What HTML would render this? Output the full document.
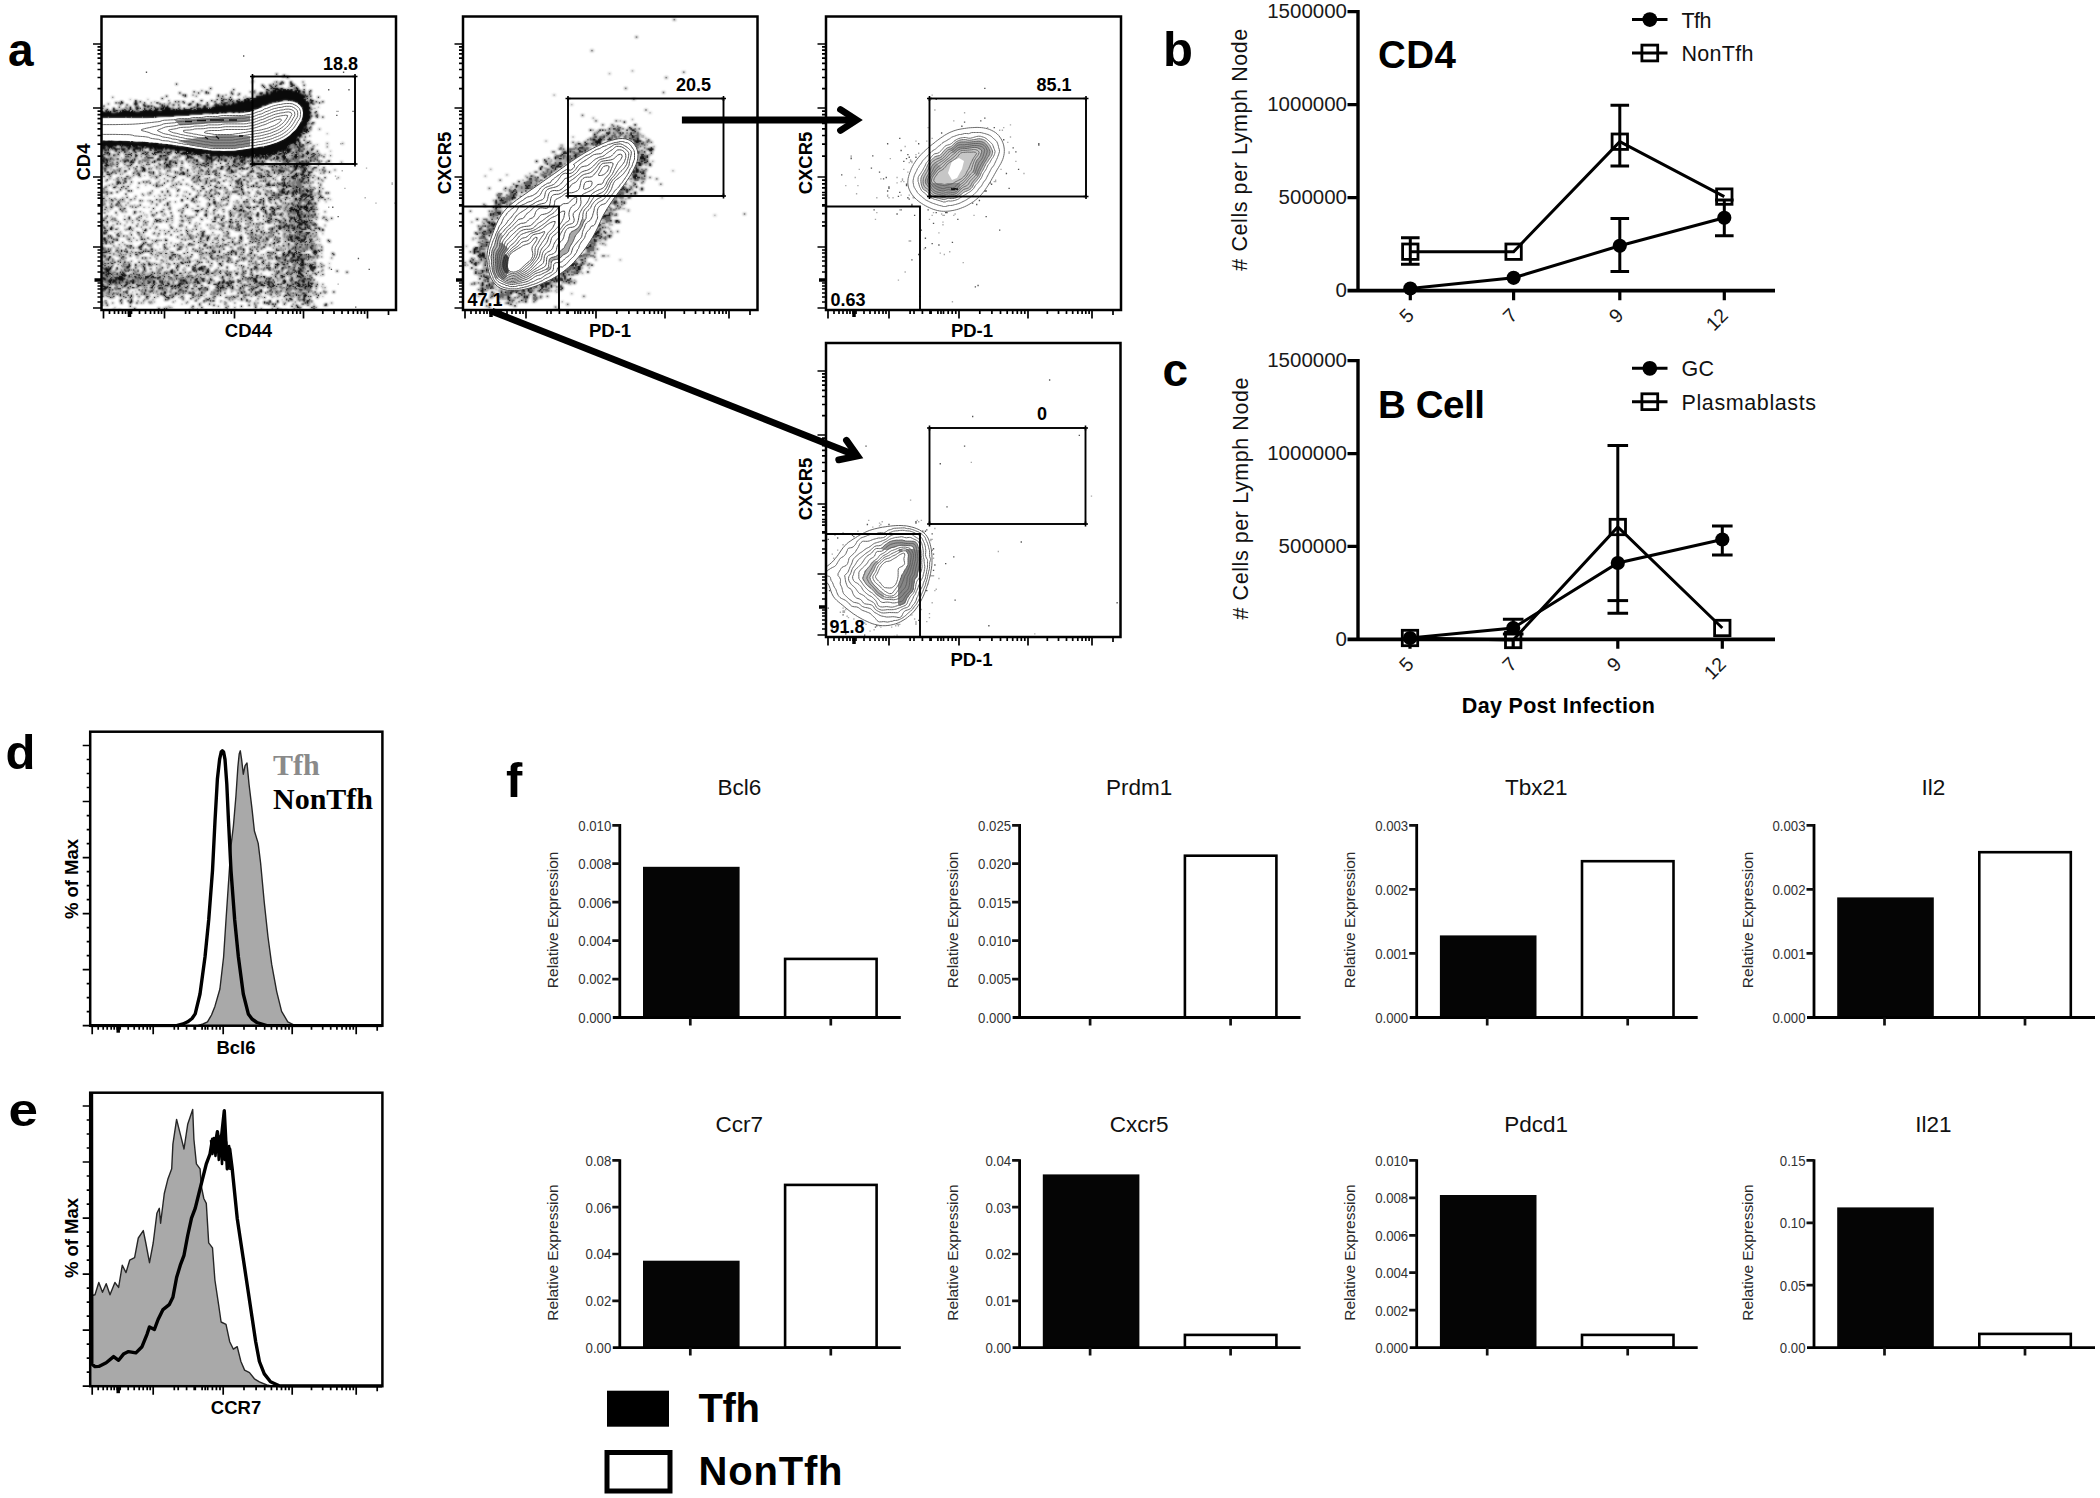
<!DOCTYPE html>
<html lang="en"><head><meta charset="utf-8"><title>Figure</title>
<style>html,body{margin:0;padding:0;background:#fff}svg{display:block}text{font-family:'Liberation Sans',Arial,Helvetica,sans-serif}</style>
</head><body>
<svg width="2100" height="1498" viewBox="0 0 2100 1498">
<defs><filter id="bl" x="-2%" y="-2%" width="104%" height="104%"><feGaussianBlur stdDeviation="0.9"/></filter></defs>
<rect width="2100" height="1498" fill="#fff"/>
<text x="8" y="65.5" font-size="46" font-weight="bold">a</text>
<text x="1163" y="65.5" font-size="49" font-weight="bold">b</text>
<text x="1162.5" y="385.7" font-size="46" font-weight="bold">c</text>
<text x="5.5" y="769" font-size="49" font-weight="bold">d</text>
<text x="506" y="797" font-size="49" font-weight="bold">f</text>
<text x="8.5" y="1126" font-size="46" font-weight="bold" textLength="29.5" lengthAdjust="spacingAndGlyphs">e</text>
<path d="M1358 10.1V290.7" stroke="#000" stroke-width="3.4" fill="none"/>
<path d="M1347.5 290.7H1775" stroke="#000" stroke-width="3.8" fill="none"/>
<path d="M1347.5 11.7h10.5M1347.5 104.7h10.5M1347.5 197.7h10.5M1410.3 290.7v9.5M1513.6 290.7v9.5M1619.8 290.7v9.5M1724.3 290.7v9.5" stroke="#000" stroke-width="3.2" fill="none"/>
<text x="1347" y="18.3" font-size="20.5" text-anchor="end" fill="#1a1a1a">1500000</text>
<text x="1347" y="111.3" font-size="20.5" text-anchor="end" fill="#1a1a1a">1000000</text>
<text x="1347" y="204.3" font-size="20.5" text-anchor="end" fill="#1a1a1a">500000</text>
<text x="1347" y="297.3" font-size="20.5" text-anchor="end" fill="#1a1a1a">0</text>
<text x="1415.3" y="316.7" font-size="19.5" text-anchor="end" fill="#1a1a1a" transform="rotate(-45 1415.3 316.7)">5</text>
<text x="1518.6" y="316.7" font-size="19.5" text-anchor="end" fill="#1a1a1a" transform="rotate(-45 1518.6 316.7)">7</text>
<text x="1624.8" y="316.7" font-size="19.5" text-anchor="end" fill="#1a1a1a" transform="rotate(-45 1624.8 316.7)">9</text>
<text x="1729.3" y="316.7" font-size="19.5" text-anchor="end" fill="#1a1a1a" transform="rotate(-45 1729.3 316.7)">12</text>
<text x="1247.5" y="149.7" font-size="21.5" text-anchor="middle" fill="#111" transform="rotate(-90 1247.5 149.7)" textLength="242" lengthAdjust="spacing"># Cells per Lymph Node</text>
<text x="1378" y="67.5" font-size="38.5" font-weight="bold" textLength="78" lengthAdjust="spacing">CD4</text>
<line x1="1632" y1="19.6" x2="1667.5" y2="19.6" stroke="#000" stroke-width="3"/>
<circle cx="1649.8" cy="19.6" r="7.4"/>
<text x="1681.5" y="27.6" font-size="21.5" fill="#111" textLength="30" lengthAdjust="spacing">Tfh</text>
<rect x="1641.9" y="45.1" width="15.8" height="15.8" fill="none" stroke="#000" stroke-width="2.8"/>
<line x1="1632" y1="53" x2="1667.5" y2="53" stroke="#000" stroke-width="3"/>
<text x="1681.5" y="61" font-size="21.5" fill="#111" textLength="72" lengthAdjust="spacing">NonTfh</text>
<path d="M1619.8 218.6V271.6M1610.5 218.6h18.6M1610.5 271.6h18.6" stroke="#000" stroke-width="3" fill="none"/>
<path d="M1724.3 200V235.8M1715 200h18.6M1715 235.8h18.6" stroke="#000" stroke-width="3" fill="none"/>
<path d="M1410.3 237.7V264.3M1401 237.7h18.6M1401 264.3h18.6" stroke="#000" stroke-width="3" fill="none"/>
<path d="M1619.8 105.3V166M1610.5 105.3h18.6M1610.5 166h18.6" stroke="#000" stroke-width="3" fill="none"/>
<rect x="1402.6" y="244" width="15.4" height="15.4" fill="none" stroke="#000" stroke-width="2.8"/>
<rect x="1505.9" y="244" width="15.4" height="15.4" fill="none" stroke="#000" stroke-width="2.8"/>
<rect x="1612.1" y="134" width="15.4" height="15.4" fill="none" stroke="#000" stroke-width="2.8"/>
<rect x="1716.6" y="188.9" width="15.4" height="15.4" fill="none" stroke="#000" stroke-width="2.8"/>
<polyline points="1410.3,251.7 1513.6,251.7 1619.8,141.7 1724.3,196.6" fill="none" stroke="#000" stroke-width="3"/>
<polyline points="1410.3,288.5 1513.6,277.8 1619.8,245.8 1724.3,217.8" fill="none" stroke="#000" stroke-width="3"/>
<circle cx="1410.3" cy="288.5" r="7.1"/>
<circle cx="1513.6" cy="277.8" r="7.1"/>
<circle cx="1619.8" cy="245.8" r="7.1"/>
<circle cx="1724.3" cy="217.8" r="7.1"/>
<path d="M1358 359.1V639.3" stroke="#000" stroke-width="3.4" fill="none"/>
<path d="M1347.5 639.3H1775" stroke="#000" stroke-width="3.8" fill="none"/>
<path d="M1347.5 360.7h10.5M1347.5 453.6h10.5M1347.5 546.4h10.5M1410 639.3v9.5M1513.2 639.3v9.5M1617.8 639.3v9.5M1722.3 639.3v9.5" stroke="#000" stroke-width="3.2" fill="none"/>
<text x="1347" y="367.3" font-size="20.5" text-anchor="end" fill="#1a1a1a">1500000</text>
<text x="1347" y="460.2" font-size="20.5" text-anchor="end" fill="#1a1a1a">1000000</text>
<text x="1347" y="553" font-size="20.5" text-anchor="end" fill="#1a1a1a">500000</text>
<text x="1347" y="645.9" font-size="20.5" text-anchor="end" fill="#1a1a1a">0</text>
<text x="1415" y="665.3" font-size="19.5" text-anchor="end" fill="#1a1a1a" transform="rotate(-45 1415 665.3)">5</text>
<text x="1518.2" y="665.3" font-size="19.5" text-anchor="end" fill="#1a1a1a" transform="rotate(-45 1518.2 665.3)">7</text>
<text x="1622.8" y="665.3" font-size="19.5" text-anchor="end" fill="#1a1a1a" transform="rotate(-45 1622.8 665.3)">9</text>
<text x="1727.3" y="665.3" font-size="19.5" text-anchor="end" fill="#1a1a1a" transform="rotate(-45 1727.3 665.3)">12</text>
<text x="1247.5" y="498.5" font-size="21.5" text-anchor="middle" fill="#111" transform="rotate(-90 1247.5 498.5)" textLength="242" lengthAdjust="spacing"># Cells per Lymph Node</text>
<text x="1378" y="417.5" font-size="38.5" font-weight="bold" textLength="107" lengthAdjust="spacing">B Cell</text>
<line x1="1632" y1="368.3" x2="1667.5" y2="368.3" stroke="#000" stroke-width="3"/>
<circle cx="1649.8" cy="368.3" r="7.4"/>
<text x="1681.5" y="376.3" font-size="21.5" fill="#111" textLength="32.5" lengthAdjust="spacing">GC</text>
<rect x="1641.9" y="393.8" width="15.8" height="15.8" fill="none" stroke="#000" stroke-width="2.8"/>
<line x1="1632" y1="401.7" x2="1667.5" y2="401.7" stroke="#000" stroke-width="3"/>
<text x="1681.5" y="409.7" font-size="21.5" fill="#111" textLength="134.5" lengthAdjust="spacing">Plasmablasts</text>
<path d="M1722.3 526V555M1712 526h20.6M1712 555h20.6" stroke="#000" stroke-width="3" fill="none"/>
<path d="M1513.2 619.3V634M1502.9 619.3h20.6M1502.9 634h20.6" stroke="#000" stroke-width="3" fill="none"/>
<path d="M1617.8 445.5V613.3M1607.5 445.5h20.6M1607.5 613.3h20.6" stroke="#000" stroke-width="3" fill="none"/>
<line x1="1607.5" y1="600.6" x2="1628.1" y2="600.6" stroke="#000" stroke-width="3"/>
<rect x="1402.3" y="630.3" width="15.4" height="15.4" fill="none" stroke="#000" stroke-width="2.8"/>
<rect x="1505.5" y="632.3" width="15.4" height="15.4" fill="none" stroke="#000" stroke-width="2.8"/>
<rect x="1610.1" y="519.3" width="15.4" height="15.4" fill="none" stroke="#000" stroke-width="2.8"/>
<rect x="1714.6" y="620.3" width="15.4" height="15.4" fill="none" stroke="#000" stroke-width="2.8"/>
<polyline points="1410,638 1513.2,640 1617.8,527 1722.3,628" fill="none" stroke="#000" stroke-width="3"/>
<polyline points="1410,638 1513.2,628 1617.8,563 1722.3,539.5" fill="none" stroke="#000" stroke-width="3"/>
<circle cx="1410" cy="638" r="7.1"/>
<circle cx="1513.2" cy="628" r="7.1"/>
<circle cx="1617.8" cy="563" r="7.1"/>
<circle cx="1722.3" cy="539.5" r="7.1"/>
<text x="1558.3" y="712.7" font-size="21.5" font-weight="bold" text-anchor="middle" textLength="193" lengthAdjust="spacing">Day Post Infection</text>
<rect x="643" y="866.8" width="96.6" height="150.7" fill="#050505"/>
<rect x="785.1" y="958.9" width="91.5" height="58.6" fill="#fff" stroke="#000" stroke-width="2.6"/>
<path d="M619.8 824.1V1017.5M612.8 1017.5H900.8" stroke="#000" stroke-width="2.8" fill="none"/>
<path d="M612.3 825.3h7.5M612.3 863.7h7.5M612.3 902.2h7.5M612.3 940.6h7.5M612.3 979.1h7.5M690.3 1017.5v8M830.8 1017.5v8" stroke="#111" stroke-width="2.7" fill="none"/>
<text x="611.3" y="830.6" font-size="15" text-anchor="end" fill="#333" textLength="33" lengthAdjust="spacingAndGlyphs">0.010</text>
<text x="611.3" y="869" font-size="15" text-anchor="end" fill="#333" textLength="33" lengthAdjust="spacingAndGlyphs">0.008</text>
<text x="611.3" y="907.5" font-size="15" text-anchor="end" fill="#333" textLength="33" lengthAdjust="spacingAndGlyphs">0.006</text>
<text x="611.3" y="945.9" font-size="15" text-anchor="end" fill="#333" textLength="33" lengthAdjust="spacingAndGlyphs">0.004</text>
<text x="611.3" y="984.4" font-size="15" text-anchor="end" fill="#333" textLength="33" lengthAdjust="spacingAndGlyphs">0.002</text>
<text x="611.3" y="1022.8" font-size="15" text-anchor="end" fill="#333" textLength="33" lengthAdjust="spacingAndGlyphs">0.000</text>
<text transform="translate(558.3 919.9) rotate(-90) scale(1 .9)" font-size="15.5" text-anchor="middle" fill="#2a2a2a" textLength="136.5" lengthAdjust="spacing">Relative Expression</text>
<text x="739.3" y="794.8" font-size="22.5" text-anchor="middle" fill="#111">Bcl6</text>
<rect x="1184.9" y="855.7" width="91.5" height="161.8" fill="#fff" stroke="#000" stroke-width="2.6"/>
<path d="M1019.6 824.1V1017.5M1012.6 1017.5H1300.6" stroke="#000" stroke-width="2.8" fill="none"/>
<path d="M1012.1 825.3h7.5M1012.1 863.7h7.5M1012.1 902.2h7.5M1012.1 940.6h7.5M1012.1 979.1h7.5M1090.1 1017.5v8M1230.6 1017.5v8" stroke="#111" stroke-width="2.7" fill="none"/>
<text x="1011.1" y="830.6" font-size="15" text-anchor="end" fill="#333" textLength="33" lengthAdjust="spacingAndGlyphs">0.025</text>
<text x="1011.1" y="869" font-size="15" text-anchor="end" fill="#333" textLength="33" lengthAdjust="spacingAndGlyphs">0.020</text>
<text x="1011.1" y="907.5" font-size="15" text-anchor="end" fill="#333" textLength="33" lengthAdjust="spacingAndGlyphs">0.015</text>
<text x="1011.1" y="945.9" font-size="15" text-anchor="end" fill="#333" textLength="33" lengthAdjust="spacingAndGlyphs">0.010</text>
<text x="1011.1" y="984.4" font-size="15" text-anchor="end" fill="#333" textLength="33" lengthAdjust="spacingAndGlyphs">0.005</text>
<text x="1011.1" y="1022.8" font-size="15" text-anchor="end" fill="#333" textLength="33" lengthAdjust="spacingAndGlyphs">0.000</text>
<text transform="translate(958.1 919.9) rotate(-90) scale(1 .9)" font-size="15.5" text-anchor="middle" fill="#2a2a2a" textLength="136.5" lengthAdjust="spacing">Relative Expression</text>
<text x="1139.1" y="794.8" font-size="22.5" text-anchor="middle" fill="#111">Prdm1</text>
<rect x="1439.9" y="935.4" width="96.6" height="82.1" fill="#050505"/>
<rect x="1582" y="861.2" width="91.5" height="156.3" fill="#fff" stroke="#000" stroke-width="2.6"/>
<path d="M1416.7 824.1V1017.5M1409.7 1017.5H1697.7" stroke="#000" stroke-width="2.8" fill="none"/>
<path d="M1409.2 825.3h7.5M1409.2 889.4h7.5M1409.2 953.4h7.5M1487.2 1017.5v8M1627.7 1017.5v8" stroke="#111" stroke-width="2.7" fill="none"/>
<text x="1408.2" y="830.6" font-size="15" text-anchor="end" fill="#333" textLength="33" lengthAdjust="spacingAndGlyphs">0.003</text>
<text x="1408.2" y="894.7" font-size="15" text-anchor="end" fill="#333" textLength="33" lengthAdjust="spacingAndGlyphs">0.002</text>
<text x="1408.2" y="958.7" font-size="15" text-anchor="end" fill="#333" textLength="33" lengthAdjust="spacingAndGlyphs">0.001</text>
<text x="1408.2" y="1022.8" font-size="15" text-anchor="end" fill="#333" textLength="33" lengthAdjust="spacingAndGlyphs">0.000</text>
<text transform="translate(1355.2 919.9) rotate(-90) scale(1 .9)" font-size="15.5" text-anchor="middle" fill="#2a2a2a" textLength="136.5" lengthAdjust="spacing">Relative Expression</text>
<text x="1536.2" y="794.8" font-size="22.5" text-anchor="middle" fill="#111">Tbx21</text>
<rect x="1837.2" y="897.4" width="96.6" height="120.1" fill="#050505"/>
<rect x="1979.3" y="852.2" width="91.5" height="165.3" fill="#fff" stroke="#000" stroke-width="2.6"/>
<path d="M1814 824.1V1017.5M1807 1017.5H2095" stroke="#000" stroke-width="2.8" fill="none"/>
<path d="M1806.5 825.3h7.5M1806.5 889.4h7.5M1806.5 953.4h7.5M1884.5 1017.5v8M2025 1017.5v8" stroke="#111" stroke-width="2.7" fill="none"/>
<text x="1805.5" y="830.6" font-size="15" text-anchor="end" fill="#333" textLength="33" lengthAdjust="spacingAndGlyphs">0.003</text>
<text x="1805.5" y="894.7" font-size="15" text-anchor="end" fill="#333" textLength="33" lengthAdjust="spacingAndGlyphs">0.002</text>
<text x="1805.5" y="958.7" font-size="15" text-anchor="end" fill="#333" textLength="33" lengthAdjust="spacingAndGlyphs">0.001</text>
<text x="1805.5" y="1022.8" font-size="15" text-anchor="end" fill="#333" textLength="33" lengthAdjust="spacingAndGlyphs">0.000</text>
<text transform="translate(1752.5 919.9) rotate(-90) scale(1 .9)" font-size="15.5" text-anchor="middle" fill="#2a2a2a" textLength="136.5" lengthAdjust="spacing">Relative Expression</text>
<text x="1933.5" y="794.8" font-size="22.5" text-anchor="middle" fill="#111">Il2</text>
<rect x="643" y="1260.7" width="96.6" height="86.9" fill="#050505"/>
<rect x="785.1" y="1184.9" width="91.5" height="162.7" fill="#fff" stroke="#000" stroke-width="2.6"/>
<path d="M619.8 1159.2V1347.6M612.8 1347.6H900.8" stroke="#000" stroke-width="2.8" fill="none"/>
<path d="M612.3 1160.4h7.5M612.3 1207.2h7.5M612.3 1254h7.5M612.3 1300.8h7.5M690.3 1347.6v8M830.8 1347.6v8" stroke="#111" stroke-width="2.7" fill="none"/>
<text x="611.3" y="1165.7" font-size="15" text-anchor="end" fill="#333" textLength="25.7" lengthAdjust="spacingAndGlyphs">0.08</text>
<text x="611.3" y="1212.5" font-size="15" text-anchor="end" fill="#333" textLength="25.7" lengthAdjust="spacingAndGlyphs">0.06</text>
<text x="611.3" y="1259.3" font-size="15" text-anchor="end" fill="#333" textLength="25.7" lengthAdjust="spacingAndGlyphs">0.04</text>
<text x="611.3" y="1306.1" font-size="15" text-anchor="end" fill="#333" textLength="25.7" lengthAdjust="spacingAndGlyphs">0.02</text>
<text x="611.3" y="1352.9" font-size="15" text-anchor="end" fill="#333" textLength="25.7" lengthAdjust="spacingAndGlyphs">0.00</text>
<text transform="translate(558.3 1252.5) rotate(-90) scale(1 .9)" font-size="15.5" text-anchor="middle" fill="#2a2a2a" textLength="136.5" lengthAdjust="spacing">Relative Expression</text>
<text x="739.3" y="1132.3" font-size="22.5" text-anchor="middle" fill="#111">Ccr7</text>
<rect x="1042.8" y="1174.4" width="96.6" height="173.2" fill="#050505"/>
<rect x="1184.9" y="1334.9" width="91.5" height="12.7" fill="#fff" stroke="#000" stroke-width="2.6"/>
<path d="M1019.6 1159.2V1347.6M1012.6 1347.6H1300.6" stroke="#000" stroke-width="2.8" fill="none"/>
<path d="M1012.1 1160.4h7.5M1012.1 1207.2h7.5M1012.1 1254h7.5M1012.1 1300.8h7.5M1090.1 1347.6v8M1230.6 1347.6v8" stroke="#111" stroke-width="2.7" fill="none"/>
<text x="1011.1" y="1165.7" font-size="15" text-anchor="end" fill="#333" textLength="25.7" lengthAdjust="spacingAndGlyphs">0.04</text>
<text x="1011.1" y="1212.5" font-size="15" text-anchor="end" fill="#333" textLength="25.7" lengthAdjust="spacingAndGlyphs">0.03</text>
<text x="1011.1" y="1259.3" font-size="15" text-anchor="end" fill="#333" textLength="25.7" lengthAdjust="spacingAndGlyphs">0.02</text>
<text x="1011.1" y="1306.1" font-size="15" text-anchor="end" fill="#333" textLength="25.7" lengthAdjust="spacingAndGlyphs">0.01</text>
<text x="1011.1" y="1352.9" font-size="15" text-anchor="end" fill="#333" textLength="25.7" lengthAdjust="spacingAndGlyphs">0.00</text>
<text transform="translate(958.1 1252.5) rotate(-90) scale(1 .9)" font-size="15.5" text-anchor="middle" fill="#2a2a2a" textLength="136.5" lengthAdjust="spacing">Relative Expression</text>
<text x="1139.1" y="1132.3" font-size="22.5" text-anchor="middle" fill="#111">Cxcr5</text>
<rect x="1439.9" y="1195" width="96.6" height="152.6" fill="#050505"/>
<rect x="1582" y="1334.9" width="91.5" height="12.7" fill="#fff" stroke="#000" stroke-width="2.6"/>
<path d="M1416.7 1159.2V1347.6M1409.7 1347.6H1697.7" stroke="#000" stroke-width="2.8" fill="none"/>
<path d="M1409.2 1160.4h7.5M1409.2 1197.8h7.5M1409.2 1235.3h7.5M1409.2 1272.7h7.5M1409.2 1310.2h7.5M1487.2 1347.6v8M1627.7 1347.6v8" stroke="#111" stroke-width="2.7" fill="none"/>
<text x="1408.2" y="1165.7" font-size="15" text-anchor="end" fill="#333" textLength="33" lengthAdjust="spacingAndGlyphs">0.010</text>
<text x="1408.2" y="1203.1" font-size="15" text-anchor="end" fill="#333" textLength="33" lengthAdjust="spacingAndGlyphs">0.008</text>
<text x="1408.2" y="1240.6" font-size="15" text-anchor="end" fill="#333" textLength="33" lengthAdjust="spacingAndGlyphs">0.006</text>
<text x="1408.2" y="1278" font-size="15" text-anchor="end" fill="#333" textLength="33" lengthAdjust="spacingAndGlyphs">0.004</text>
<text x="1408.2" y="1315.5" font-size="15" text-anchor="end" fill="#333" textLength="33" lengthAdjust="spacingAndGlyphs">0.002</text>
<text x="1408.2" y="1352.9" font-size="15" text-anchor="end" fill="#333" textLength="33" lengthAdjust="spacingAndGlyphs">0.000</text>
<text transform="translate(1355.2 1252.5) rotate(-90) scale(1 .9)" font-size="15.5" text-anchor="middle" fill="#2a2a2a" textLength="136.5" lengthAdjust="spacing">Relative Expression</text>
<text x="1536.2" y="1132.3" font-size="22.5" text-anchor="middle" fill="#111">Pdcd1</text>
<rect x="1837.2" y="1207.4" width="96.6" height="140.2" fill="#050505"/>
<rect x="1979.3" y="1333.9" width="91.5" height="13.7" fill="#fff" stroke="#000" stroke-width="2.6"/>
<path d="M1814 1159.2V1347.6M1807 1347.6H2095" stroke="#000" stroke-width="2.8" fill="none"/>
<path d="M1806.5 1160.4h7.5M1806.5 1222.8h7.5M1806.5 1285.2h7.5M1884.5 1347.6v8M2025 1347.6v8" stroke="#111" stroke-width="2.7" fill="none"/>
<text x="1805.5" y="1165.7" font-size="15" text-anchor="end" fill="#333" textLength="25.7" lengthAdjust="spacingAndGlyphs">0.15</text>
<text x="1805.5" y="1228.1" font-size="15" text-anchor="end" fill="#333" textLength="25.7" lengthAdjust="spacingAndGlyphs">0.10</text>
<text x="1805.5" y="1290.5" font-size="15" text-anchor="end" fill="#333" textLength="25.7" lengthAdjust="spacingAndGlyphs">0.05</text>
<text x="1805.5" y="1352.9" font-size="15" text-anchor="end" fill="#333" textLength="25.7" lengthAdjust="spacingAndGlyphs">0.00</text>
<text transform="translate(1752.5 1252.5) rotate(-90) scale(1 .9)" font-size="15.5" text-anchor="middle" fill="#2a2a2a" textLength="136.5" lengthAdjust="spacing">Relative Expression</text>
<text x="1933.5" y="1132.3" font-size="22.5" text-anchor="middle" fill="#111">Il21</text>
<rect x="607" y="1390.7" width="62" height="36" fill="#000"/>
<rect x="607" y="1452.5" width="63" height="38.5" fill="#fff" stroke="#000" stroke-width="5"/>
<text x="698.5" y="1422.3" font-size="40" font-weight="bold" textLength="61.5" lengthAdjust="spacing">Tfh</text>
<text x="698.5" y="1485.3" font-size="40" font-weight="bold" textLength="144" lengthAdjust="spacing">NonTfh</text>
<clipPath id="c1"><rect x="101.5" y="16.5" width="294.5" height="293.5"/></clipPath>
<g clip-path="url(#c1)">
<defs><path id="k1" d="M251 67.5h1M258 68.5h1M257 69.5h1M261 70.5h1M251 74.5h1m4 0h1m7 0h1M255 75.5h1m1 0h1m6 0h1M160 76.5h1m87 0h1m5 0h2m8 0h2M238 77.5h1m6 0h1m5 0h1m13 0h3m8 0h1M239 78.5h1m6 0h1m3 0h1m13 0h2M240 79.5h1m6 0h1m21 0h1M191 80.5h1m54 0h1m1 0h5m2 0h2m12 0h2M212 81.5h1m29 0h2m6 0h4m1 0h1m1 0h3m1 0h2m1 0h2m4 0h1m5 0h1M244 82.5h1m3 0h3m2 0h3m1 0h9m2 0h5m9 0h1M176 83.5h1m10 0h1m54 0h1m3 0h1m1 0h3m1 0h18m1 0h2m2 0h2m4 0h1M163 84.5h1m16 0h1m6 0h1m1 0h1m20 0h1m25 0h3m3 0h2m2 0h26m4 0h1M211 85.5h1m5 0h1m18 0h2m4 0h2m2 0h28m7 0h1M166 86.5h1m1 0h1m29 0h1m40 0h37m1 0h1M151 87.5h1m16 0h1m29 0h1m3 0h1m30 0h44m1 0h2m2 0h1M209 88.5h1m23 0h44m12 0h1M147 89.5h1m53 0h1m22 0h2m1 0h49m3 0h1M197 90.5h1m5 0h1m1 0h1m2 0h1m1 0h1m6 0h1m4 0h2m1 0h2m3 0h48m4 0h1M123 91.5h1m59 0h1m8 0h1m8 0h2m6 0h1m5 0h1m6 0h2m1 0h2m1 0h29m5 0h1m1 0h1m1 0h12m4 0h3M110 92.5h1m12 0h1m3 0h1m31 0h1m2 0h1m3 0h1m8 0h1m19 0h1m15 0h1m3 0h3m1 0h2m1 0h29m2 0h1m14 0h12m3 0h1m3 0h1m5 0h1M105 93.5h1m4 0h2m11 0h1m7 0h1m10 0h2m23 0h1m20 0h1m12 0h1m2 0h3m5 0h1m3 0h31m24 0h10m1 0h2m6 0h1M109 94.5h1m12 0h3m20 0h1m26 0h2m5 0h1m16 0h1m5 0h3m6 0h2m1 0h30m27 0h10m3 0h1M115 95.5h1m7 0h1m6 0h2m15 0h1m9 0h1m4 0h1m8 0h2m6 0h2m7 0h1m6 0h1m1 0h2m4 0h2m2 0h2m1 0h32m31 0h8M94 96.5h1m36 0h2m1 0h2m1 0h1m9 0h1m1 0h1m2 0h1m26 0h1m5 0h2m9 0h1m1 0h40m35 0h8M108 97.5h1m9 0h1m5 0h1m9 0h1m5 0h1m7 0h1m2 0h2m23 0h1m8 0h2m6 0h44m38 0h7M93 98.5h1m9 0h1m14 0h1m5 0h2m1 0h1m3 0h1m5 0h1m3 0h1m1 0h1m2 0h3m1 0h5m7 0h1m4 0h1m5 0h2m4 0h4m1 0h5m1 0h1m1 0h43m40 0h7M97 99.5h1m5 0h1m9 0h1m4 0h1m5 0h1m6 0h1m4 0h1m4 0h3m2 0h2m2 0h5m2 0h2m1 0h1m2 0h1m3 0h7m2 0h2m1 0h51m45 0h6M96 100.5h1m6 0h1m1 0h2m4 0h2m1 0h1m2 0h1m2 0h1m9 0h1m1 0h2m1 0h3m2 0h3m4 0h12m1 0h71m44 0h6M92 101.5h2m2 0h1m1 0h1m1 0h1m2 0h2m4 0h1m1 0h7m1 0h2m1 0h1m4 0h95m1 0h5m47 0h7m5 0h1M92 102.5h4m1 0h4m5 0h1m1 0h91m2 0h2m1 0h2m6 0h1m4 0h1m57 0h8m3 0h1M92 103.5h92m9 0h1m3 0h1m77 0h7M92 104.5h80m103 0h6m7 0h1M92 105.5h66m117 0h7m1 0h1m3 0h1M92 106.5h6m1 0h15m1 0h4m1 0h9m1 0h10m1 0h1m133 0h7m6 0h1m4 0h1M275 107.5h7M274 108.5h7M275 109.5h6M274 110.5h6M273 111.5h6m5 0h1M272 112.5h7m4 0h1M272 113.5h7M270 114.5h8M270 115.5h6m2 0h1m3 0h1M270 116.5h6m1 0h1m3 0h1M269 117.5h6m1 0h1m1 0h2M268 118.5h7m1 0h1m1 0h2M266 119.5h9m1 0h3m1 0h1M265 120.5h10m3 0h1M264 121.5h9m2 0h2M264 122.5h10M262 123.5h12M261 124.5h9m2 0h1m4 0h1M260 125.5h10M258 126.5h11m1 0h2M94 127.5h1m3 0h2m1 0h1m6 0h2m146 0h16m4 0h1M93 128.5h25m1 0h2m8 0h1m1 0h1m122 0h15m2 0h1M93 129.5h42m2 0h2m2 0h1m1 0h1m108 0h17m3 0h1m6 0h2M92 130.5h52m2 0h1m4 0h1m95 0h1m1 0h17m1 0h2m3 0h1M92 131.5h18m1 0h42m1 0h3m86 0h21m4 0h2m2 0h1m2 0h1M93 132.5h3m1 0h6m1 0h2m3 0h1m1 0h1m1 0h6m1 0h5m1 0h34m1 0h1m79 0h1m1 0h19m10 0h1m2 0h1M92 133.5h1m1 0h1m3 0h4m8 0h1m4 0h1m1 0h2m2 0h2m1 0h1m4 0h2m2 0h5m1 0h32m64 0h4m1 0h21m1 0h1m7 0h1m2 0h2M93 134.5h3m3 0h1m1 0h1m1 0h2m11 0h2m5 0h5m1 0h1m2 0h1m3 0h3m1 0h2m1 0h6m1 0h27m51 0h1m1 0h31m10 0h1M92 135.5h1m1 0h1m3 0h1m3 0h1m1 0h5m1 0h4m2 0h2m3 0h5m1 0h1m8 0h1m4 0h1m1 0h5m2 0h2m2 0h30m37 0h39m1 0h4m7 0h1m3 0h1m6 0h2M95 136.5h2m1 0h1m6 0h1m5 0h2m8 0h2m4 0h1m1 0h1m6 0h2m2 0h3m4 0h1m11 0h30m2 0h1m7 0h1m15 0h41m1 0h7m7 0h1m11 0h1M105 137.5h1m7 0h1m8 0h1m20 0h4m8 0h1m5 0h2m6 0h84m1 0h2m1 0h1m3 0h3m8 0h1m1 0h1m4 0h1m8 0h1M95 138.5h1m1 0h2m9 0h1m4 0h1m9 0h1m8 0h1m1 0h1m5 0h5m1 0h1m2 0h1m2 0h3m4 0h1m1 0h2m3 0h4m1 0h3m2 0h72m1 0h3m5 0h1m1 0h1m1 0h2m3 0h1m2 0h1m9 0h2M97 139.5h1m1 0h1m19 0h1m9 0h2m2 0h1m4 0h1m1 0h1m11 0h1m7 0h1m3 0h10m1 0h1m1 0h9m1 0h56m1 0h8m2 0h2m2 0h1m1 0h1m4 0h1m12 0h3m3 0h2M94 140.5h1m4 0h1m7 0h1m6 0h1m1 0h3m4 0h1m8 0h1m6 0h1m1 0h1m11 0h1m11 0h1m1 0h1m1 0h1m4 0h1m1 0h2m1 0h4m8 0h40m1 0h4m1 0h5m1 0h3m1 0h3m3 0h2m3 0h1m9 0h2m5 0h1m3 0h1m3 0h1m2 0h1M93 141.5h1m9 0h1m15 0h1m3 0h2m20 0h2m1 0h3m19 0h1m11 0h2m3 0h2m2 0h12m1 0h12m1 0h12m1 0h1m1 0h4m2 0h1m2 0h1m2 0h1m1 0h1m10 0h2m6 0h1m2 0h2m5 0h1m9 0h1M93 142.5h1m20 0h1m1 0h1m6 0h1m9 0h1m11 0h2m23 0h4m13 0h3m2 0h1m5 0h2m7 0h1m4 0h3m3 0h1m2 0h3m1 0h2m2 0h2m1 0h1m1 0h2m2 0h2m2 0h1m2 0h1m5 0h2m3 0h4m7 0h4m3 0h2m7 0h2m9 0h1M94 143.5h1m39 0h5m13 0h1m17 0h2m1 0h3m12 0h5m3 0h1m2 0h1m10 0h1m7 0h3m1 0h1m2 0h1m2 0h1m2 0h1m1 0h1m2 0h2m1 0h1m1 0h1m1 0h1m5 0h1m2 0h2m3 0h3m8 0h2m10 0h1m1 0h1M94 144.5h1m1 0h1m3 0h1m5 0h2m14 0h1m20 0h2m5 0h2m17 0h1m17 0h1m2 0h3m2 0h1m5 0h1m11 0h1m1 0h1m1 0h1m4 0h1m13 0h1m4 0h2m5 0h1m2 0h2m5 0h1m1 0h1m5 0h1m19 0h1M92 145.5h2m2 0h2m17 0h2m3 0h1m1 0h1m20 0h1m1 0h1m4 0h2m24 0h1m1 0h2m8 0h1m3 0h1m1 0h1m3 0h1m2 0h1m2 0h2m7 0h1m5 0h4m5 0h1m17 0h1m10 0h1m3 0h1m20 0h1m5 0h1M93 146.5h2m2 0h1m15 0h2m1 0h1m2 0h1m20 0h1m13 0h2m22 0h2m7 0h1m4 0h1m5 0h1m5 0h2m6 0h2m4 0h3m4 0h1m1 0h1m6 0h2m2 0h1m15 0h1m5 0h1m2 0h1m10 0h2m2 0h1m3 0h1m2 0h1m12 0h2M94 147.5h1m2 0h1m8 0h1m6 0h1m4 0h4m12 0h1m3 0h1m1 0h1m9 0h1m3 0h1m2 0h1m1 0h1m15 0h1m16 0h1m19 0h2m5 0h2m10 0h1m6 0h2m21 0h2m9 0h1m7 0h1M93 148.5h1m2 0h1m52 0h1m4 0h1m4 0h2m4 0h1m18 0h2m2 0h2m10 0h1m6 0h1m8 0h1m5 0h1m14 0h1m31 0h1m2 0h5m1 0h2M96 149.5h2m8 0h1m12 0h1m13 0h1m1 0h1m9 0h1m5 0h2m1 0h1m23 0h2m2 0h1m4 0h1m24 0h1m4 0h1m9 0h1m3 0h5m7 0h1m3 0h1m3 0h1m4 0h1m7 0h1m2 0h1m1 0h2m3 0h7M95 150.5h4m19 0h1m32 0h2m30 0h1m1 0h1m3 0h1m21 0h1m1 0h1m15 0h3m17 0h1m4 0h1m4 0h1m7 0h1m1 0h2m3 0h3m1 0h2M96 151.5h1m9 0h1m17 0h1m26 0h1m1 0h1m32 0h1m14 0h2m5 0h1m5 0h2m12 0h1m18 0h1m3 0h1m12 0h1m2 0h1m1 0h2m1 0h1m1 0h1M129 152.5h2m23 0h1m9 0h2m15 0h1m19 0h1m6 0h1m10 0h2m4 0h1m9 0h1m20 0h1m11 0h2m3 0h1m1 0h1m1 0h1m7 0h3m6 0h1M95 153.5h1m21 0h1m5 0h1m6 0h2m3 0h1m53 0h1m10 0h2m5 0h2m8 0h2m1 0h3m1 0h1m4 0h1m38 0h2m6 0h1m1 0h1m5 0h1M130 154.5h2m32 0h1m5 0h1m12 0h1m22 0h1m3 0h1m26 0h2m8 0h2m4 0h2m12 0h2m7 0h2m15 0h1M95 155.5h1m12 0h1m4 0h2m9 0h1m4 0h1m1 0h1m20 0h1m17 0h1m13 0h1m3 0h1m5 0h1m1 0h1m13 0h2m16 0h3m11 0h2m10 0h5m7 0h1m8 0h1m1 0h1m17 0h1M92 156.5h1m4 0h2m3 0h1m32 0h1m3 0h1m19 0h1m6 0h1m22 0h1m3 0h1m16 0h3m14 0h2m15 0h1m4 0h1m5 0h1m1 0h1m7 0h1m9 0h2m3 0h4m15 0h1M92 157.5h1m8 0h1m3 0h1m15 0h1m3 0h1m13 0h1m24 0h1m1 0h2m12 0h1m15 0h1m2 0h1m34 0h1m14 0h1m3 0h1m10 0h1m4 0h1m5 0h1m5 0h1M92 158.5h1m4 0h3m26 0h1m36 0h1m2 0h2m21 0h2m4 0h1m47 0h1m24 0h2m3 0h3m4 0h1M126 159.5h1m18 0h1m6 0h1m19 0h1m23 0h1m7 0h1m20 0h1m11 0h1m6 0h1m22 0h1m1 0h2m3 0h1m1 0h1m1 0h1m1 0h1M94 160.5h1m20 0h1m43 0h1m21 0h1m32 0h1m19 0h1m2 0h1m1 0h2m2 0h1m1 0h2m10 0h1m3 0h2m2 0h3m1 0h1m6 0h1M142 161.5h1m14 0h2m17 0h1m3 0h1m54 0h1m1 0h1m27 0h2m7 0h1m4 0h2m3 0h1m10 0h1M113 162.5h2m60 0h1m12 0h1m29 0h1m29 0h1m8 0h1m1 0h1m6 0h3m6 0h2m12 0h1M97 163.5h1m83 0h1m35 0h1m3 0h2m33 0h1m1 0h1m13 0h1m2 0h1m4 0h1M113 164.5h1m38 0h1m29 0h1m4 0h1m3 0h2m2 0h1m7 0h1m10 0h1m1 0h1m22 0h1m1 0h1m21 0h1m10 0h1m5 0h1M106 165.5h3m5 0h1m4 0h1m10 0h1m2 0h1m42 0h1m10 0h1m10 0h1m16 0h1m3 0h1m5 0h1m32 0h1m14 0h2m3 0h1M107 166.5h1m1 0h1m2 0h1m13 0h1m9 0h1m12 0h1m37 0h1m11 0h1m16 0h1m2 0h1m13 0h1m10 0h1m7 0h1m3 0h1m1 0h1m2 0h1m14 0h1M106 167.5h1m53 0h1m3 0h1m51 0h1m2 0h1m22 0h3m8 0h2m3 0h1M142 168.5h1m4 0h1m9 0h1m33 0h1m17 0h1m10 0h1m9 0h1m12 0h3m1 0h3m7 0h3m2 0h2M112 169.5h1m3 0h1m25 0h1m31 0h1m8 0h2m10 0h1m23 0h1m8 0h1m1 0h1m2 0h1m23 0h1m2 0h1m2 0h2m4 0h1m5 0h1M103 170.5h2m5 0h1m85 0h2m2 0h1m3 0h1m10 0h1m1 0h1m7 0h1m9 0h1m24 0h1m8 0h2m19 0h1M114 171.5h1m69 0h2m33 0h1m37 0h1m8 0h1m5 0h1M109 172.5h1m52 0h1m29 0h1m26 0h2m35 0h3m10 0h1m2 0h1m5 0h2m2 0h1m1 0h1M116 173.5h2m1 0h1m32 0h1m8 0h1m20 0h1m8 0h1m54 0h1m9 0h1m5 0h1m4 0h1m1 0h1m2 0h1m2 0h1m2 0h3m9 0h1M96 174.5h2m8 0h1m40 0h1m4 0h1m34 0h1m23 0h4m5 0h1m33 0h1m1 0h3m2 0h2m3 0h1m2 0h2m8 0h1m2 0h2m6 0h1M101 175.5h1m34 0h1m53 0h1m7 0h1m6 0h1m15 0h1m4 0h1m7 0h1m13 0h2m6 0h3m2 0h1m3 0h2m1 0h1m3 0h1m23 0h1m1 0h1M97 176.5h1m16 0h1m57 0h1m22 0h1m3 0h1m17 0h1m3 0h1m14 0h1m4 0h1m11 0h1m5 0h3m4 0h1m2 0h1m5 0h4m3 0h2M154 177.5h1m31 0h1m5 0h1m49 0h1m4 0h3m3 0h1m1 0h1m10 0h1m7 0h2m1 0h2m1 0h2M178 178.5h1m12 0h2m14 0h1m57 0h1m7 0h2m1 0h1m2 0h2m1 0h1m1 0h1m6 0h1M115 179.5h1m62 0h1m28 0h1m37 0h1m1 0h1m5 0h1m6 0h1m13 0h1m3 0h1m3 0h2m6 0h1m1 0h2M92 180.5h3m75 0h1m4 0h1m29 0h1m33 0h1m4 0h1m23 0h2m2 0h2m3 0h1m6 0h1M92 181.5h1m8 0h1m9 0h1m30 0h1m22 0h1m9 0h1m14 0h1m3 0h1m6 0h1m1 0h1m20 0h1m11 0h2m7 0h2m2 0h1m9 0h1m8 0h2m3 0h1m2 0h1m6 0h2m10 0h1M92 182.5h1m9 0h1m24 0h1m37 0h1m8 0h1m32 0h1m22 0h1m8 0h1m15 0h1m16 0h1m8 0h1M107 183.5h1m30 0h1m37 0h1m17 0h2m25 0h2m1 0h1m6 0h1m4 0h1m2 0h1m40 0h1M92 184.5h1m15 0h1m43 0h1m41 0h2m39 0h2m13 0h1m8 0h1m5 0h1m5 0h1m8 0h1m1 0h1m3 0h1M101 185.5h1m4 0h1m45 0h1m37 0h1m4 0h1m10 0h1m32 0h1m22 0h1m2 0h1m13 0h3m1 0h1m2 0h1M93 186.5h1m11 0h1m21 0h1m24 0h1m16 0h1m20 0h1m75 0h1m3 0h1m7 0h1M196 187.5h1m16 0h1m4 0h2m13 0h2m17 0h1m15 0h1m1 0h2m1 0h2m1 0h3m5 0h1M92 188.5h1m3 0h1m4 0h1m21 0h1m46 0h1m53 0h2m1 0h1m2 0h2m6 0h3m5 0h2m16 0h2m5 0h1m1 0h2m1 0h4m2 0h2M113 189.5h1m25 0h1m26 0h1m45 0h1m1 0h1m11 0h1m11 0h1m8 0h2m3 0h2m9 0h3m1 0h1m4 0h1m3 0h1m1 0h2m3 0h1M95 190.5h1m13 0h1m73 0h1m11 0h1m17 0h1m4 0h2m17 0h1m1 0h1m5 0h1m3 0h1m14 0h6m2 0h2m3 0h2m3 0h2m1 0h1M92 191.5h1m84 0h4m6 0h1m6 0h1m22 0h3m1 0h1m19 0h1m7 0h1m13 0h2m1 0h1m1 0h4m6 0h2m1 0h1M122 192.5h1m23 0h2m31 0h1m41 0h1m5 0h1m13 0h1m5 0h2m15 0h1m4 0h1m1 0h1m2 0h1m5 0h1m3 0h2M105 193.5h1m16 0h1m19 0h1m12 0h1m9 0h1m43 0h1m24 0h1m6 0h1m7 0h1m20 0h2M187 194.5h1m21 0h1m15 0h1m8 0h1m7 0h1m2 0h1m2 0h1m6 0h1m6 0h1m7 0h1m3 0h1m11 0h1M138 195.5h1m39 0h1m7 0h2m10 0h1m11 0h1m7 0h1m14 0h2m10 0h1m3 0h2m3 0h2m14 0h3m4 0h1m5 0h1m2 0h1M97 196.5h1m30 0h1m27 0h1m7 0h1m3 0h1m18 0h1m15 0h1m5 0h1m24 0h1m4 0h1m6 0h1m24 0h2m3 0h2m2 0h1M117 197.5h1m8 0h1m68 0h1m29 0h1m1 0h1m35 0h1m1 0h1m1 0h1m4 0h2m2 0h1m7 0h1m9 0h1M117 198.5h1m77 0h1m6 0h1m23 0h3m15 0h1m1 0h1m17 0h2m1 0h1m4 0h1m28 0h1M113 199.5h1m27 0h1m3 0h1m6 0h1m30 0h1m11 0h1m5 0h1m7 0h2m16 0h1m18 0h1m3 0h2m12 0h1m2 0h2m3 0h2m22 0h1M93 200.5h2m31 0h1m15 0h2m21 0h1m35 0h1m21 0h1m19 0h2m8 0h1m5 0h1m3 0h1m4 0h1m2 0h1m2 0h1m1 0h1m4 0h1m1 0h1M92 201.5h1m4 0h1m44 0h1m2 0h1m5 0h1m41 0h3m12 0h2m4 0h1m1 0h1m24 0h1m1 0h1m10 0h1m8 0h1m4 0h2m4 0h1m1 0h4M97 202.5h1m34 0h1m39 0h1m36 0h1m1 0h1m15 0h1m16 0h1m9 0h1m2 0h1m12 0h3m2 0h2m1 0h1m3 0h1M106 203.5h1m109 0h1m13 0h1m2 0h1m4 0h1m21 0h1m11 0h3m2 0h1m8 0h1M93 204.5h1m121 0h1m43 0h1m3 0h1m1 0h1m5 0h4m2 0h3m4 0h2m1 0h1M124 205.5h1m38 0h1m13 0h1m24 0h2m4 0h1m9 0h1m32 0h1m1 0h2m3 0h1m1 0h3m2 0h1m4 0h1m10 0h1M94 206.5h1m6 0h1m16 0h1m23 0h1m12 0h1m52 0h1m7 0h1m8 0h1m8 0h1m19 0h1m2 0h2m3 0h1m4 0h1m2 0h1m1 0h1m4 0h1m1 0h1M94 207.5h2m4 0h2m15 0h2m37 0h1m57 0h1m7 0h2m23 0h1m5 0h3m6 0h1m2 0h3m4 0h2m3 0h1m2 0h2m4 0h2m1 0h2M100 208.5h2m3 0h1m11 0h1m14 0h1m45 0h1m38 0h1m17 0h1m11 0h1m6 0h1m12 0h1m6 0h4m4 0h1m7 0h1m2 0h1M95 209.5h1m1 0h1m33 0h2m36 0h1m47 0h1m10 0h1m4 0h1m17 0h1m8 0h1m1 0h1m3 0h1m18 0h1m7 0h1M153 210.5h1m16 0h1m14 0h1m20 0h1m26 0h1m3 0h1m13 0h1m17 0h1m2 0h3M94 211.5h1m1 0h1m28 0h1m4 0h1m53 0h1m43 0h2m7 0h1m2 0h1m3 0h1m23 0h1m3 0h2m4 0h4m5 0h1M94 212.5h2m11 0h1m36 0h1m5 0h1m19 0h1m13 0h1m22 0h1m17 0h1m27 0h1m25 0h2m3 0h1M106 213.5h1m12 0h1m35 0h1m9 0h1m18 0h1m47 0h1m15 0h1m14 0h1m8 0h1m5 0h1M92 214.5h1m5 0h1m1 0h1m6 0h2m3 0h1m59 0h1m10 0h2m80 0h1m2 0h1m5 0h1m1 0h1m5 0h1M128 215.5h1m32 0h1m16 0h1m10 0h1m28 0h2m8 0h1m8 0h1m12 0h1m12 0h3m3 0h3m5 0h1M94 216.5h2m5 0h1m32 0h1m38 0h1m8 0h1m5 0h2m7 0h1m20 0h2m12 0h1m3 0h1m5 0h1m11 0h1m9 0h1m3 0h5m4 0h1M94 217.5h2m7 0h1m2 0h1m10 0h1m10 0h2m1 0h1m33 0h1m16 0h1m5 0h1m13 0h1m16 0h1m13 0h1m8 0h2m5 0h1m12 0h1m1 0h2m4 0h1m3 0h1m1 0h2m3 0h1m1 0h1M95 218.5h1m10 0h1m35 0h1m7 0h2m36 0h1m14 0h1m31 0h1m26 0h1m2 0h1m5 0h2m1 0h1m1 0h1m5 0h1m15 0h1M96 219.5h1m5 0h1m38 0h1m34 0h1m5 0h1m28 0h1m15 0h1m4 0h1m20 0h1m5 0h1m5 0h1m1 0h1m5 0h1m1 0h1m2 0h1m3 0h1m16 0h1M96 220.5h1m5 0h1m29 0h1m47 0h1m12 0h1m17 0h1m5 0h1m11 0h1m5 0h1m13 0h1m2 0h1m20 0h1m3 0h1m3 0h1M93 221.5h1m2 0h1m33 0h1m41 0h1m75 0h2m12 0h1m7 0h1M129 222.5h1m4 0h1m14 0h1m11 0h1m9 0h1m2 0h1m11 0h2m16 0h2m7 0h1m9 0h1m17 0h1m3 0h1m16 0h1m6 0h1m4 0h1m2 0h1m1 0h1M92 223.5h1m22 0h1m2 0h2m8 0h1m29 0h1m26 0h2m13 0h1m56 0h1m25 0h2M92 224.5h1m33 0h3m20 0h1m13 0h2m26 0h1m7 0h1m31 0h1m2 0h1m4 0h2m27 0h1m3 0h2m8 0h1m9 0h1M93 225.5h1m24 0h1m2 0h1m4 0h1m23 0h1m30 0h1m6 0h1m2 0h1m74 0h1m1 0h1m13 0h2M93 226.5h1m4 0h1m15 0h1m12 0h2m8 0h2m23 0h2m11 0h1m8 0h1m18 0h1m17 0h1m5 0h1m5 0h1m17 0h1m13 0h1m17 0h1M106 227.5h1m3 0h1m82 0h1m17 0h1m9 0h1m7 0h1m21 0h3m9 0h1m4 0h1m17 0h1m2 0h1m2 0h1M96 228.5h1m1 0h2m10 0h1m2 0h1m1 0h1m14 0h1m1 0h1m1 0h2m2 0h1m40 0h1m13 0h1m1 0h1m3 0h1m10 0h1m1 0h1m21 0h1m27 0h2m5 0h1m6 0h1m8 0h3m2 0h1M92 229.5h5m18 0h1m7 0h1m2 0h1m2 0h1m26 0h1m13 0h1m16 0h1m6 0h2m3 0h1m7 0h1m2 0h1m3 0h1m6 0h1m6 0h1m14 0h2m3 0h1m9 0h1m3 0h2m1 0h1m2 0h1m2 0h2m12 0h3M127 230.5h1m9 0h1m8 0h1m3 0h2m15 0h1m16 0h1m5 0h1m23 0h1m12 0h2m21 0h1m6 0h1m4 0h1m2 0h1m1 0h1m1 0h1m15 0h1m1 0h1m14 0h1M123 231.5h2m32 0h3m14 0h1m30 0h1m1 0h1m2 0h1m3 0h1m42 0h2m2 0h1m4 0h2m4 0h3m3 0h1m1 0h1m5 0h1m16 0h1M93 232.5h1m1 0h1m12 0h1m9 0h1m24 0h1m12 0h1m6 0h1m28 0h1m4 0h2m32 0h1m11 0h1m1 0h1m11 0h1m2 0h1m1 0h1m3 0h2m5 0h1M95 233.5h1m3 0h2m10 0h2m41 0h1m4 0h1m13 0h1m17 0h1m9 0h1m15 0h1m32 0h2m7 0h1m6 0h2m2 0h3m7 0h1m1 0h1M99 234.5h1m10 0h1m18 0h1m2 0h1m21 0h2m14 0h1m14 0h1m6 0h1m14 0h2m11 0h1m1 0h1m5 0h1m7 0h3m12 0h1m1 0h2m10 0h1m5 0h1M98 235.5h1m55 0h1m7 0h1m30 0h1m3 0h1m23 0h1m29 0h1m7 0h1m4 0h1m5 0h1m2 0h2m1 0h1m3 0h1M98 236.5h1m108 0h1m50 0h2m6 0h6m2 0h2M107 237.5h1m64 0h1m6 0h1m22 0h1m3 0h1m8 0h1m10 0h1m1 0h1m10 0h1m21 0h1m2 0h1m1 0h1m1 0h1m5 0h2M92 238.5h1m11 0h1m4 0h1m3 0h1m12 0h1m37 0h2m2 0h1m1 0h1m1 0h1m8 0h1m1 0h1m54 0h1m17 0h1m8 0h1m4 0h1m3 0h2M92 239.5h1m2 0h1m2 0h1m2 0h2m32 0h1m22 0h1m6 0h2m25 0h1m6 0h2m13 0h1m24 0h1m12 0h1m8 0h1m11 0h1m1 0h1M93 240.5h1m23 0h1m5 0h1m7 0h1m3 0h2m5 0h1m57 0h1m34 0h1m14 0h4m3 0h2m13 0h1m1 0h2m1 0h1m4 0h1m1 0h1M95 241.5h1m21 0h1m5 0h1m37 0h1m9 0h1m5 0h1m23 0h1m17 0h1m22 0h1m1 0h1m7 0h1m20 0h3m5 0h3M98 242.5h1m2 0h1m13 0h3m12 0h1m30 0h1m13 0h1m7 0h1m1 0h2m34 0h1m9 0h2m17 0h1m11 0h2m17 0h1m1 0h1m1 0h2m5 0h1M93 243.5h1m2 0h1m3 0h1m5 0h1m8 0h2m6 0h1m7 0h1m15 0h1m12 0h1m15 0h2m3 0h3m22 0h1m18 0h1m6 0h2m8 0h2m1 0h1m4 0h1m5 0h2m9 0h1m3 0h1m3 0h1m6 0h1m1 0h3M94 244.5h4m1 0h2m5 0h1m24 0h1m43 0h1m4 0h5m4 0h1m38 0h1m2 0h1m12 0h1m11 0h1m15 0h2m8 0h1m2 0h1M96 245.5h4m13 0h1m3 0h1m3 0h1m9 0h1m24 0h1m4 0h1m13 0h1m1 0h1m3 0h1m6 0h1m39 0h1m16 0h1m20 0h2m5 0h1m9 0h2M97 246.5h2m15 0h1m1 0h1m8 0h1m29 0h2m19 0h1m1 0h1m5 0h1m3 0h2m10 0h1m5 0h1m16 0h1m29 0h1m14 0h1m2 0h2m1 0h1m4 0h2m3 0h1m21 0h1M93 247.5h2m1 0h1m1 0h1m10 0h1m1 0h1m26 0h1m16 0h2m11 0h1m18 0h3m9 0h1m21 0h1m6 0h1m24 0h1m7 0h1m5 0h1m1 0h1m1 0h2m16 0h1m25 0h1M93 248.5h2m3 0h3m5 0h1m5 0h1m8 0h1m18 0h1m4 0h1m5 0h1m4 0h1m6 0h2m22 0h1m4 0h2m6 0h1m4 0h1m8 0h2m36 0h1m7 0h1m4 0h1m5 0h3m4 0h1m7 0h1M96 249.5h1m1 0h1m2 0h1m4 0h1m3 0h2m1 0h1m10 0h1m1 0h1m10 0h1m44 0h1m2 0h1m20 0h1m2 0h1m5 0h1m45 0h1m2 0h1m8 0h2m12 0h1m5 0h1M96 250.5h1m14 0h4m2 0h1m8 0h1m9 0h1m23 0h2m44 0h1m22 0h1m3 0h2m20 0h2m13 0h1m3 0h2M97 251.5h1m10 0h3m2 0h1m3 0h1m4 0h2m8 0h4m2 0h2m5 0h1m3 0h1m3 0h1m17 0h1m30 0h1m18 0h1m11 0h1m3 0h1m1 0h2m9 0h1m5 0h3m11 0h3m2 0h1M93 252.5h2m6 0h1m2 0h8m11 0h1m2 0h1m1 0h1m3 0h3m2 0h1m1 0h3m1 0h3m9 0h1m10 0h1m7 0h2m6 0h1m19 0h1m20 0h1m2 0h1m1 0h2m3 0h1m6 0h1m5 0h1m9 0h1m8 0h1m7 0h1m9 0h1M93 253.5h3m4 0h1m4 0h1m1 0h7m13 0h1m4 0h1m10 0h1m4 0h1m11 0h1m17 0h2m3 0h3m5 0h1m28 0h1m4 0h1m1 0h1m2 0h3m9 0h1m1 0h2m19 0h1m10 0h2m1 0h3M95 254.5h1m3 0h1m1 0h1m1 0h1m1 0h1m2 0h4m3 0h1m4 0h2m42 0h1m1 0h2m5 0h1m3 0h2m5 0h1m6 0h2m10 0h1m12 0h1m14 0h2m15 0h1m9 0h1m6 0h1m6 0h1m2 0h1m6 0h1m2 0h1M93 255.5h1m4 0h3m2 0h2m6 0h1m6 0h2m1 0h1m12 0h1m4 0h2m4 0h1m1 0h1m16 0h1m1 0h3m10 0h1m4 0h2m17 0h1m4 0h2m7 0h2m11 0h1m1 0h2m7 0h1m2 0h1m12 0h3m4 0h1m6 0h1m2 0h3M99 256.5h2m1 0h2m1 0h1m2 0h1m5 0h2m4 0h2m13 0h2m2 0h2m4 0h1m1 0h1m21 0h1m6 0h2m1 0h2m9 0h1m8 0h1m2 0h2m2 0h1m3 0h3m3 0h1m15 0h2m2 0h1m6 0h2m1 0h1m2 0h1m8 0h2m8 0h2m5 0h2m3 0h1M100 257.5h1m4 0h1m2 0h1m6 0h1m1 0h1m2 0h2m7 0h1m4 0h2m3 0h1m7 0h1m4 0h2m9 0h2m1 0h1m2 0h2m8 0h3m7 0h2m7 0h2m2 0h1m2 0h3m1 0h2m20 0h1m3 0h2m3 0h1m3 0h1m2 0h1m9 0h2m9 0h1m1 0h2m8 0h1m1 0h3M93 258.5h1m5 0h1m14 0h2m8 0h1m15 0h1m7 0h1m4 0h1m8 0h2m1 0h1m28 0h3m1 0h1m8 0h1m19 0h1m9 0h2m4 0h2m3 0h1m3 0h2m1 0h1m5 0h1m4 0h1m4 0h2m2 0h1m1 0h1m2 0h1m2 0h1m4 0h1M92 259.5h2m16 0h1m2 0h2m10 0h3m3 0h1m7 0h1m4 0h1m1 0h1m3 0h3m3 0h1m2 0h1m1 0h3m19 0h1m13 0h1m4 0h1m4 0h2m13 0h1m1 0h1m12 0h4m3 0h1m3 0h2m11 0h1m1 0h2m5 0h3m2 0h1m4 0h2M93 260.5h3m1 0h1m15 0h1m4 0h1m6 0h1m12 0h1m16 0h2m1 0h2m3 0h1m6 0h1m7 0h1m19 0h1m3 0h1m3 0h1m4 0h1m8 0h1m13 0h1m10 0h1m1 0h2m2 0h1m11 0h1m2 0h1m4 0h2m1 0h1m2 0h2m1 0h1m1 0h2m3 0h1M95 261.5h3m1 0h2m15 0h1m3 0h2m15 0h2m6 0h1m1 0h1m14 0h1m5 0h2m13 0h1m2 0h1m10 0h1m2 0h4m7 0h1m6 0h1m13 0h2m9 0h1m2 0h1m21 0h1m8 0h1m4 0h1M93 262.5h4m10 0h3m34 0h2m1 0h1m8 0h1m2 0h1m14 0h2m4 0h3m5 0h1m9 0h1m1 0h1m4 0h1m5 0h1m6 0h1m9 0h1m1 0h1m30 0h1m7 0h1m7 0h1M93 263.5h1m1 0h1m3 0h1m2 0h1m23 0h1m5 0h1m30 0h2m16 0h1m6 0h1m37 0h1m2 0h1m7 0h1m8 0h1m13 0h1m11 0h3M93 264.5h1m21 0h1m16 0h1m4 0h2m23 0h1m3 0h1m1 0h2m27 0h2m1 0h1m35 0h2m7 0h1m9 0h1M99 265.5h1m12 0h1m1 0h1m21 0h1m12 0h2m24 0h1m7 0h1m35 0h1m2 0h1m5 0h1m3 0h1m1 0h1m2 0h1m5 0h1m3 0h1m3 0h1m28 0h1m5 0h1m16 0h1M103 266.5h1m11 0h1m15 0h1m14 0h1m2 0h2m8 0h2m5 0h1m5 0h2m2 0h1m6 0h1m20 0h1m11 0h1m2 0h2m11 0h1m2 0h1m5 0h1m19 0h1m4 0h1m8 0h2m14 0h1M102 267.5h1m3 0h1m2 0h1m14 0h1m6 0h1m14 0h1m1 0h1m10 0h1m2 0h1m12 0h1m21 0h1m35 0h1m12 0h1m15 0h1m6 0h1m7 0h1m9 0h1M109 268.5h1m6 0h1m2 0h1m29 0h1m4 0h1m20 0h1m6 0h2m16 0h1m22 0h1m8 0h1m26 0h2m2 0h1m5 0h1m1 0h1m4 0h3m10 0h1M92 269.5h2m9 0h1m8 0h1m6 0h1m13 0h2m15 0h1m6 0h1m7 0h1m29 0h1m16 0h1m45 0h1m17 0h2m2 0h1m1 0h1M100 270.5h1m13 0h1m3 0h1m14 0h1m6 0h1m10 0h3m2 0h1m18 0h1m29 0h1m7 0h1m26 0h1m35 0h1m11 0h1M153 271.5h1m19 0h1m16 0h1m28 0h1m43 0h2m11 0h1M110 272.5h1m8 0h1m30 0h1m37 0h2m29 0h1m4 0h1m35 0h1m3 0h2m9 0h2m4 0h1M109 273.5h1m6 0h1m2 0h1m65 0h1m5 0h1m1 0h2m29 0h1m20 0h1m6 0h1m9 0h1m13 0h1m2 0h2M92 274.5h1m25 0h2m120 0h1m4 0h1m6 0h1m26 0h1M96 275.5h1m13 0h1m7 0h1m5 0h1m115 0h1m1 0h2m33 0h1m1 0h1M181 276.5h1m8 0h1m53 0h1m2 0h2m1 0h1m7 0h1m16 0h1m20 0h1M97 277.5h1m96 0h1m31 0h1m42 0h1m25 0h2M118 278.5h1m56 0h1m43 0h1m29 0h1m15 0h1m4 0h1m14 0h1M183 279.5h1m21 0h1m26 0h1m37 0h2m11 0h1M122 280.5h1m21 0h1m4 0h1m1 0h1m100 0h1m32 0h1M103 281.5h1m151 0h1"/><path id="k2" d="M261 69.5h1M229 74.5h1m45 0h1M268 79.5h1M267 80.5h2M183 82.5h1m47 0h1m19 0h1m4 0h1M210 83.5h1m16 0h1m2 0h2M231 84.5h1M244 85.5h1M175 86.5h1m29 0h1m10 0h1M178 87.5h1M102 88.5h1M276 89.5h1M153 91.5h1m28 0h1m29 0h1m3 0h1m4 0h1m59 0h1M202 92.5h1m4 0h2m42 0h2M107 93.5h2m28 0h1m16 0h1m53 0h1M98 94.5h1m50 0h1m3 0h1m45 0h1m8 0h1m76 0h1M158 95.5h1m22 0h2m6 0h1m10 0h1M125 96.5h1m12 0h1m9 0h1m45 0h1M114 97.5h1m8 0h1m1 0h1m19 0h1m1 0h1m15 0h1m13 0h1m2 0h1m7 0h1m48 0h1M115 98.5h1m7 0h1m20 0h2m3 0h1m6 0h2m33 0h1m90 0h1M111 99.5h1m66 0h1m51 0h1m1 0h1m49 0h2M109 100.5h2m2 0h1m11 0h1M106 101.5h1m3 0h1m13 0h2m96 0h1M211 102.5h1m8 0h2M190 103.5h1M129 106.5h1m152 0h1M281 108.5h1M279 111.5h1m5 0h1M279 112.5h3m2 0h1M269 116.5h1M282 117.5h1m7 0h1M281 123.5h1M274 124.5h1M100 127.5h1m9 0h1M126 128.5h2m142 0h1m10 0h1M250 129.5h1M278 130.5h2m2 0h1m14 0h1m13 0h1M273 131.5h1M96 132.5h1m28 0h1m34 0h1m3 0h1m97 0h1m2 0h1m1 0h3m6 0h1m8 0h1M104 133.5h1m6 0h1m4 0h1m3 0h1m4 0h2m4 0h2m101 0h1m26 0h1m1 0h1m3 0h1m1 0h1m5 0h1m8 0h1m12 0h1M112 134.5h1m5 0h1m20 0h1m9 0h1m79 0h1m35 0h1m1 0h2M96 135.5h1m23 0h1m7 0h1m23 0h2m121 0h1M93 136.5h1m10 0h1m1 0h1m8 0h2m3 0h1m5 0h1m18 0h1m4 0h1m4 0h1m1 0h2m45 0h1m5 0h1m57 0h2m4 0h1M93 137.5h1m16 0h1m4 0h1m5 0h1m3 0h3m3 0h1m18 0h2m16 0h1m84 0h1m10 0h1m4 0h2m4 0h1M96 138.5h1m20 0h1m4 0h1m7 0h2m18 0h1m4 0h1m18 0h1m77 0h2m2 0h1m3 0h1m7 0h1m1 0h1M95 139.5h1m11 0h1m31 0h1m3 0h1m2 0h2m2 0h1m2 0h1m1 0h1m6 0h1m23 0h1m66 0h1m7 0h1m8 0h2m2 0h1m14 0h1M95 140.5h1m2 0h1m4 0h2m23 0h1m4 0h2m16 0h1m20 0h2m4 0h1m5 0h4m43 0h1m10 0h1m8 0h1m3 0h1m1 0h1m13 0h1m18 0h1M98 141.5h2m4 0h1m30 0h1m15 0h1m11 0h1m5 0h1m2 0h1m1 0h1m11 0h1m29 0h1m14 0h1m5 0h1m2 0h1m1 0h2m19 0h1m8 0h1m3 0h1m12 0h2m1 0h1m7 0h1M128 142.5h1m19 0h1m2 0h1m7 0h1m1 0h1m1 0h1m16 0h1m1 0h5m6 0h2m7 0h2m4 0h1m6 0h3m15 0h1m37 0h1m1 0h1m4 0h1m9 0h1M95 143.5h1m4 0h2m16 0h1m12 0h2m6 0h1m5 0h1m4 0h1m7 0h3m22 0h3m14 0h2m2 0h1m10 0h1m7 0h1m18 0h1m22 0h1m1 0h1m3 0h2m1 0h2m10 0h1m1 0h1M95 144.5h1m1 0h2m2 0h2m10 0h2m30 0h1m1 0h2m27 0h1m7 0h2m7 0h1m5 0h1m2 0h1m1 0h3m2 0h1m22 0h2m11 0h1m9 0h1m3 0h1m1 0h2m1 0h1m2 0h5m13 0h1M95 145.5h1m2 0h1m4 0h1m7 0h3m15 0h7m8 0h1m11 0h1m4 0h1m7 0h1m3 0h1m12 0h2m1 0h3m41 0h1m16 0h1m1 0h1m7 0h1m3 0h1m2 0h2m1 0h1m6 0h2M95 146.5h2m2 0h2m8 0h1m2 0h1m13 0h2m3 0h2m8 0h1m16 0h2m5 0h1m5 0h2m16 0h3m16 0h1m6 0h1m5 0h2m17 0h1m17 0h1m3 0h1m1 0h2m1 0h5m7 0h1m3 0h1m5 0h2m1 0h1M95 147.5h1m6 0h1m23 0h1m2 0h1m28 0h1m1 0h1m4 0h1m5 0h1m8 0h1m5 0h1m1 0h2m1 0h1m29 0h3m6 0h1m2 0h2m22 0h2m1 0h1m9 0h2m1 0h1m2 0h2m11 0h2m5 0h1m13 0h1M100 148.5h1m1 0h1m4 0h1m11 0h2m5 0h1m17 0h1m31 0h1m2 0h1m12 0h1m20 0h3m1 0h1m2 0h1m5 0h1m4 0h5m5 0h1m16 0h3m10 0h1m18 0h1M100 149.5h1m1 0h2m9 0h1m35 0h1m5 0h1m24 0h2m6 0h1m3 0h1m3 0h1m8 0h2m8 0h1m4 0h3m25 0h1m6 0h1m1 0h5m19 0h1M99 150.5h3m13 0h3m12 0h1m14 0h1m8 0h1m1 0h1m3 0h1m46 0h1m8 0h2m1 0h2m11 0h1m4 0h3m5 0h1m16 0h2m2 0h1m1 0h1m20 0h1M93 151.5h1m3 0h1m3 0h1m14 0h1m11 0h1m13 0h1m6 0h1m5 0h1m19 0h1m3 0h1m7 0h1m3 0h2m12 0h1m3 0h1m1 0h3m30 0h2m9 0h1m24 0h1M93 152.5h2m26 0h1m6 0h1m13 0h1m6 0h3m25 0h1m14 0h1m4 0h2m3 0h1m30 0h1m13 0h2m2 0h1m2 0h1m4 0h1m2 0h1m3 0h1m7 0h1M93 153.5h2m1 0h1m11 0h2m27 0h1m7 0h1m3 0h1m26 0h1m25 0h1m33 0h1m18 0h6m10 0h1M95 154.5h1m7 0h1m2 0h1m1 0h1m45 0h1m27 0h1m13 0h1m17 0h1m35 0h1m9 0h3m10 0h1m1 0h1m7 0h2m5 0h1m13 0h1M104 155.5h1m22 0h1m26 0h1m25 0h1m1 0h1m7 0h1m4 0h1m10 0h1m1 0h1m5 0h1m36 0h1m1 0h1m8 0h2m10 0h1m1 0h1m2 0h1M104 156.5h1m8 0h1m8 0h1m13 0h2m23 0h1m14 0h1m10 0h1m26 0h1m15 0h1m9 0h1m12 0h1m40 0h1M126 157.5h1m9 0h2m7 0h1m13 0h1m1 0h1m8 0h1m16 0h1m20 0h3m14 0h2m6 0h1m1 0h3m6 0h1m26 0h1m1 0h2m16 0h1m2 0h1M100 158.5h1m8 0h1m14 0h1m14 0h1m43 0h1m2 0h2m37 0h1m9 0h1m1 0h1m3 0h1m10 0h1m3 0h1m5 0h1m7 0h2m4 0h1M99 159.5h1m21 0h1m14 0h1m33 0h1m7 0h2m18 0h2m12 0h1m23 0h1m44 0h2m2 0h1M100 160.5h1m15 0h1m10 0h1m13 0h2m11 0h1m15 0h1m5 0h1m3 0h1m25 0h1m1 0h1m11 0h3m1 0h2m3 0h1m5 0h1m22 0h1m11 0h1m6 0h1M107 161.5h1m2 0h1m7 0h1m71 0h1m8 0h2m9 0h1m25 0h1m2 0h1m30 0h1m4 0h3m11 0h1m17 0h1M106 162.5h1m10 0h1m31 0h1m29 0h1m6 0h1m8 0h1m31 0h1m13 0h1m21 0h1m8 0h1M107 163.5h1m3 0h1m45 0h1m8 0h1m7 0h1m4 0h1m13 0h1m1 0h1m9 0h1m5 0h1m29 0h1m8 0h1m17 0h1m1 0h2m1 0h2m17 0h1M96 164.5h1m10 0h1m27 0h1m20 0h1m21 0h2m35 0h1m8 0h1m3 0h1m7 0h2m7 0h1m21 0h1m3 0h1m21 0h1M144 165.5h1m17 0h1m14 0h2m65 0h1m17 0h1m3 0h1m2 0h4m3 0h1m7 0h1M142 166.5h1m47 0h1m6 0h1m16 0h1m17 0h1m16 0h1m4 0h1m2 0h1m5 0h1m1 0h1m1 0h1m1 0h5m3 0h1m1 0h2m1 0h1m6 0h1M102 167.5h1m39 0h1m26 0h1m10 0h1m5 0h1m37 0h1m8 0h1m14 0h1m6 0h2m9 0h1m3 0h4m17 0h1M99 168.5h1m39 0h1m5 0h1m50 0h1m28 0h1m16 0h1m8 0h1m3 0h2m4 0h1m4 0h2m2 0h1m1 0h2m7 0h1m9 0h1M96 169.5h1m7 0h2m38 0h1m10 0h1m33 0h1m24 0h2m20 0h2m3 0h2m9 0h1m6 0h1m1 0h1m4 0h3m1 0h2m1 0h1m7 0h1M95 170.5h2m28 0h1m88 0h1m30 0h1m6 0h1m8 0h1m4 0h3m2 0h2m1 0h2m6 0h1m2 0h1M93 171.5h2m80 0h1m23 0h2m3 0h1m7 0h1m45 0h1m8 0h1m5 0h1m2 0h1m1 0h1m7 0h1m6 0h1M94 172.5h1m81 0h1m18 0h1m10 0h1m32 0h1m13 0h1m10 0h1m11 0h1M92 173.5h1m45 0h1m40 0h1m15 0h1m17 0h4m17 0h1m7 0h2m10 0h1m11 0h1m3 0h1m3 0h1m7 0h2M93 174.5h2m74 0h1m26 0h1m9 0h1m8 0h1m9 0h1m7 0h1m9 0h2m28 0h3m4 0h2M93 175.5h2m5 0h1m79 0h1m15 0h1m39 0h1m9 0h1m16 0h1m9 0h5m11 0h1M129 176.5h1m78 0h1m7 0h1m34 0h2m20 0h2m6 0h1m7 0h2M130 177.5h1m18 0h2m10 0h1m17 0h2m6 0h1m31 0h1m30 0h3m3 0h1m29 0h1m4 0h1M123 178.5h1m21 0h1m22 0h1m16 0h1m45 0h1m1 0h1m16 0h1m1 0h1m14 0h1M188 179.5h1m5 0h1m7 0h1m24 0h1m16 0h1m5 0h2m7 0h1m1 0h1m11 0h1M99 180.5h1m4 0h1m17 0h1m27 0h1m38 0h1m60 0h4m6 0h1m2 0h1m10 0h1m14 0h1m8 0h1M105 181.5h1m3 0h1m8 0h2m25 0h1m2 0h1m82 0h1m22 0h1m17 0h1m1 0h1m3 0h3M96 182.5h1m4 0h1m6 0h1m20 0h1m6 0h1m8 0h1m32 0h1m36 0h1m28 0h1m23 0h1m1 0h1m3 0h3m1 0h1m3 0h1m6 0h1M94 183.5h1m50 0h1m8 0h1m4 0h1m65 0h1m7 0h1m11 0h1m9 0h1m11 0h1m5 0h1m3 0h1M116 184.5h1m72 0h1m8 0h1m17 0h1m29 0h1m10 0h1m15 0h1m5 0h1m5 0h1M94 185.5h2m46 0h1m79 0h1m3 0h1m24 0h1m15 0h1m3 0h2m14 0h1M106 186.5h2m1 0h1m4 0h1m27 0h1m6 0h1m20 0h1m29 0h1m2 0h1m1 0h1m13 0h1m19 0h1m21 0h1m7 0h1m1 0h2m3 0h1m3 0h1M100 187.5h1m1 0h1m4 0h1m2 0h1m7 0h1m1 0h1m4 0h1m42 0h1m10 0h2m8 0h1m11 0h1m21 0h1m1 0h1m16 0h1m11 0h2m4 0h1m8 0h1m2 0h1m6 0h1m5 0h1M100 188.5h1m19 0h1m33 0h1m65 0h1m27 0h1m5 0h2m3 0h2m11 0h1m2 0h1m11 0h1M109 189.5h1m2 0h1m40 0h2m29 0h1m3 0h1m31 0h1m30 0h1m7 0h1m10 0h2m5 0h1m7 0h1M112 190.5h1m35 0h1m5 0h1m47 0h2m26 0h1m9 0h1m5 0h1m4 0h1m2 0h1m4 0h1m10 0h2m8 0h1m5 0h3M110 191.5h2m50 0h1m3 0h1m42 0h1m5 0h1m6 0h1m25 0h1m9 0h1m2 0h1m5 0h1m4 0h1m7 0h1M111 192.5h1m2 0h1m8 0h1m3 0h1m9 0h1m27 0h1m21 0h1m15 0h1m4 0h1m8 0h1m4 0h2m15 0h1m21 0h2m3 0h3m10 0h1m15 0h1M94 193.5h2m98 0h1m30 0h1m22 0h1m7 0h1m7 0h1m1 0h4m2 0h2m2 0h1m3 0h1M149 194.5h1m44 0h1m23 0h2m3 0h1m28 0h1m4 0h1m8 0h2m4 0h2m4 0h1m2 0h1M139 195.5h2m76 0h1m4 0h2m4 0h1m45 0h2m5 0h1m3 0h1M139 196.5h1m72 0h1m4 0h1m4 0h2m9 0h1m8 0h1m13 0h1m5 0h1m1 0h1m5 0h1m8 0h1m2 0h1m1 0h1M96 197.5h1m68 0h1m6 0h1m1 0h2m20 0h4m16 0h1m5 0h1m19 0h1m2 0h1m18 0h1m1 0h1m2 0h1m4 0h1m2 0h2m1 0h1m2 0h1m3 0h2M93 198.5h1m1 0h2m5 0h1m1 0h1m19 0h1m27 0h1m2 0h2m13 0h3m30 0h1m15 0h1m37 0h2m7 0h1m1 0h4m1 0h1m6 0h1m12 0h1M93 199.5h2m6 0h2m1 0h1m12 0h1m6 0h1m89 0h1m4 0h1m14 0h1m4 0h1m5 0h1m12 0h2m11 0h1m6 0h1m1 0h1m6 0h1M104 200.5h2m14 0h1m10 0h1m16 0h1m7 0h1m9 0h1m4 0h1m56 0h2m15 0h1m6 0h1m2 0h1m22 0h1m18 0h1M107 201.5h1m22 0h1m3 0h1m5 0h1m5 0h1m18 0h2m38 0h1m13 0h1m24 0h1m1 0h1m3 0h1m8 0h1m6 0h1m3 0h1m2 0h1M120 202.5h1m77 0h1m4 0h1m32 0h1m8 0h1m9 0h1m2 0h1m5 0h1m12 0h1m3 0h1m1 0h1m1 0h1M109 203.5h1m15 0h1m13 0h1m41 0h1m17 0h4m20 0h1m1 0h1m9 0h1m3 0h1m9 0h1m8 0h1m8 0h1m10 0h2m3 0h1m1 0h1M130 204.5h1m2 0h1m20 0h1m9 0h2m22 0h1m2 0h1m9 0h2m6 0h1m25 0h1m19 0h1m10 0h1M97 205.5h1m67 0h1m45 0h1m5 0h1m8 0h1m39 0h2m3 0h1m7 0h1m6 0h1M128 206.5h1m40 0h1m40 0h1m6 0h1m14 0h1m16 0h1m6 0h1m9 0h1m1 0h2m3 0h1m4 0h1m2 0h1M102 207.5h1m33 0h1m4 0h1m52 0h1m5 0h1m9 0h1m1 0h1m5 0h1m26 0h1m2 0h2m8 0h2m8 0h1m1 0h2m2 0h1m3 0h2M106 208.5h1m8 0h1m3 0h1m40 0h1m14 0h1m23 0h1m1 0h1m13 0h1m7 0h1m5 0h1m14 0h2m12 0h1m3 0h1m3 0h1m2 0h2m2 0h1m4 0h1M120 209.5h1m24 0h1m3 0h1m14 0h1m37 0h1m11 0h2m8 0h1m14 0h1m6 0h2m26 0h1m8 0h1M94 210.5h1m1 0h1m61 0h1m2 0h1m12 0h1m7 0h2m62 0h2m14 0h2m6 0h2M126 211.5h1m13 0h1m52 0h1m9 0h1m3 0h1m15 0h1m22 0h1m1 0h2m13 0h2m6 0h1m2 0h1m2 0h1M126 212.5h1m12 0h2m38 0h1m3 0h1m44 0h2m9 0h1m2 0h1m3 0h1m11 0h2m10 0h2m2 0h5M126 213.5h1m37 0h1m6 0h1m1 0h1m6 0h1m25 0h1m20 0h1m1 0h1m9 0h1m18 0h1m6 0h1m1 0h2m1 0h1m16 0h1M115 214.5h1m27 0h1m31 0h1m10 0h1m1 0h1m1 0h1m7 0h1m4 0h1m1 0h2m11 0h1m14 0h1m1 0h1m8 0h2m1 0h1m13 0h1m2 0h1m10 0h1m1 0h1m8 0h1M99 215.5h1m1 0h1m71 0h1m10 0h1m22 0h1m22 0h1m10 0h1m2 0h1m1 0h1m11 0h1m1 0h1m1 0h1m13 0h1m1 0h1m1 0h1m4 0h1M92 216.5h1m5 0h1m22 0h1m53 0h1m19 0h1m11 0h3m3 0h1m11 0h1m3 0h1m22 0h1m9 0h1M92 217.5h2m11 0h1m10 0h1m33 0h1m17 0h1m2 0h1m2 0h1m20 0h2m14 0h1m16 0h4m7 0h1m11 0h2m8 0h1m5 0h2m13 0h1m5 0h1M93 218.5h1m3 0h1m7 0h1m18 0h1m13 0h1m5 0h1m1 0h1m21 0h1m16 0h1m12 0h1m18 0h2m20 0h1m2 0h2m7 0h3m14 0h1M93 219.5h2m4 0h1m19 0h1m99 0h1m10 0h1m7 0h2m1 0h1m12 0h1m16 0h1m12 0h1M99 220.5h1m11 0h1m18 0h1m33 0h1m19 0h1m13 0h1m8 0h2m60 0h1M100 221.5h1m30 0h1m6 0h1m12 0h1m21 0h1m12 0h1m9 0h2m4 0h1m10 0h1m1 0h1m1 0h1m8 0h1m7 0h1m33 0h2m13 0h1m1 0h1M108 222.5h1m4 0h1m22 0h2m28 0h1m5 0h1m2 0h2m30 0h1m26 0h1m1 0h1m31 0h1m3 0h1m7 0h1m2 0h2m2 0h1M103 223.5h1m13 0h1m17 0h2m56 0h1m2 0h2m4 0h1m42 0h1m3 0h1m3 0h1m4 0h1m3 0h1m16 0h1m6 0h1M116 224.5h1m20 0h1m27 0h1m3 0h1m20 0h1m6 0h1m4 0h1m6 0h2m7 0h2m9 0h1m36 0h1m2 0h1m7 0h3M95 225.5h1m11 0h1m86 0h1m21 0h1m1 0h1m18 0h2m9 0h1m6 0h1m6 0h1m6 0h1m2 0h1m2 0h1m2 0h2m4 0h1m1 0h1M95 226.5h1m4 0h1m31 0h1m16 0h1m1 0h2m8 0h1m2 0h1m51 0h1m1 0h3m16 0h1m21 0h1m9 0h1m1 0h1m3 0h2m1 0h2M93 227.5h3m4 0h1m31 0h1m4 0h1m3 0h1m19 0h1m15 0h2m3 0h1m16 0h1m28 0h1m26 0h1m1 0h1m14 0h2m2 0h2m6 0h1M94 228.5h2m9 0h1m1 0h1m11 0h1m57 0h1m3 0h1m12 0h1m19 0h1m58 0h2M97 229.5h1m9 0h1m12 0h1m7 0h1m15 0h1m10 0h1m1 0h1m23 0h1m1 0h1m7 0h1m21 0h1m5 0h1m25 0h2m37 0h1M93 230.5h1m5 0h2m2 0h1m5 0h1m8 0h1m26 0h1m41 0h1m3 0h3m9 0h1m5 0h1m35 0h3m23 0h2M93 231.5h1m9 0h1m6 0h1m1 0h1m1 0h1m23 0h1m2 0h1m14 0h1m4 0h1m19 0h3m7 0h1m26 0h3m4 0h1m5 0h1m7 0h1m7 0h1m28 0h2M92 232.5h1m32 0h1m36 0h1m28 0h1m11 0h1m21 0h1m1 0h1m23 0h1m9 0h1m7 0h1m1 0h2m3 0h2m2 0h2m6 0h2M163 233.5h1m18 0h1m17 0h1m5 0h1m27 0h1m21 0h1m17 0h1m3 0h2m1 0h1m1 0h3m2 0h1m3 0h1M93 234.5h1m20 0h1m21 0h1m27 0h1m6 0h1m23 0h1m3 0h1m1 0h1m1 0h1m26 0h1m13 0h1m1 0h2m4 0h1m4 0h1m6 0h1m3 0h1m4 0h2m1 0h3m5 0h2m2 0h1m12 0h1M96 235.5h2m4 0h1m8 0h2m29 0h1m14 0h1m8 0h1m15 0h1m4 0h1m6 0h1m14 0h1m13 0h1m5 0h1m5 0h1m8 0h1m2 0h1m4 0h1m1 0h1m1 0h2m7 0h1m11 0h2M96 236.5h1m5 0h1m6 0h1m36 0h2m8 0h1m9 0h1m4 0h1m37 0h1m7 0h1m1 0h1m1 0h1m17 0h1m1 0h1m10 0h1m10 0h1m8 0h1m6 0h1m3 0h1M92 237.5h1m1 0h1m7 0h1m10 0h1m5 0h1m13 0h1m14 0h1m40 0h1m7 0h1m9 0h1m8 0h1m15 0h1m20 0h2m4 0h1m2 0h1m6 0h1m3 0h1M100 238.5h1m15 0h1m18 0h1m33 0h1m10 0h1m8 0h1m17 0h1m2 0h2m20 0h1m11 0h1m10 0h1m2 0h1m10 0h1m15 0h2M97 239.5h1m14 0h1m4 0h1m12 0h1m9 0h1m10 0h1m1 0h1m7 0h1m18 0h1m48 0h2m1 0h1m11 0h1m11 0h3m1 0h1m7 0h4m2 0h1m2 0h1m1 0h1m1 0h1m4 0h1m4 0h1M107 240.5h1m4 0h1m1 0h1m13 0h1m1 0h1m7 0h1m14 0h2m7 0h1m14 0h1m1 0h1m19 0h1m26 0h1m6 0h1m10 0h1m16 0h1m4 0h3m9 0h1m7 0h1m5 0h1M102 241.5h1m7 0h1m1 0h1m5 0h1m11 0h1m4 0h3m31 0h1m21 0h1m22 0h1m2 0h1m15 0h1m24 0h1m8 0h2m10 0h1m14 0h1M92 242.5h1m18 0h1m1 0h1m48 0h1m43 0h1m52 0h1m7 0h2m5 0h3m12 0h1M142 243.5h1m9 0h1m31 0h2m12 0h1m21 0h1m19 0h1m11 0h1m5 0h3m1 0h1m3 0h1m5 0h1m1 0h1m1 0h1m22 0h1M113 244.5h1m22 0h2m7 0h1m39 0h2m29 0h1m3 0h1m12 0h2m2 0h1m1 0h2m7 0h1m8 0h1m6 0h1m9 0h2m1 0h1M105 245.5h1m4 0h1m5 0h1m2 0h1m5 0h1m18 0h1m1 0h1m19 0h1m16 0h2m11 0h2m35 0h1m5 0h1m16 0h1m5 0h1m8 0h1m3 0h1m17 0h1M100 246.5h1m21 0h1m7 0h1m1 0h1m11 0h1m13 0h1m36 0h2m16 0h1m6 0h2m27 0h1m1 0h1m4 0h1m5 0h1m12 0h1m16 0h1M92 247.5h1m10 0h2m18 0h1m5 0h2m12 0h1m5 0h2m1 0h1m1 0h1m3 0h2m12 0h2m4 0h1m15 0h2m8 0h1m3 0h3m5 0h1m34 0h1m10 0h1m2 0h2m9 0h1M102 248.5h1m6 0h1m19 0h1m13 0h1m5 0h1m21 0h1m36 0h1m11 0h4m4 0h1m22 0h1m11 0h1m20 0h1M93 249.5h2m9 0h1m13 0h2m1 0h2m7 0h2m6 0h1m10 0h1m3 0h1m4 0h1m20 0h1m8 0h2m17 0h1m11 0h3m5 0h3m17 0h1m2 0h2m6 0h1m4 0h1m8 0h1M94 250.5h1m3 0h1m3 0h1m5 0h2m17 0h1m1 0h1m4 0h1m2 0h2m4 0h1m3 0h2m9 0h2m5 0h1m4 0h1m1 0h3m3 0h1m16 0h1m13 0h1m10 0h1m29 0h1m21 0h2m5 0h1m1 0h2M93 251.5h1m5 0h2m2 0h1m2 0h1m12 0h1m6 0h1m10 0h1m21 0h2m8 0h2m1 0h1m1 0h1m2 0h1m2 0h1m28 0h1m45 0h1m8 0h1m9 0h1m2 0h1m3 0h2M97 252.5h1m18 0h2m2 0h1m3 0h1m5 0h1m11 0h1m11 0h1m5 0h1m3 0h1m5 0h1m30 0h1m9 0h1m24 0h1m6 0h2m6 0h1m3 0h1m13 0h1m2 0h1m3 0h1M96 253.5h1m26 0h3m4 0h2m3 0h2m1 0h1m5 0h1m8 0h4m5 0h2m4 0h1m33 0h1m5 0h1m43 0h1m11 0h1m10 0h1M96 254.5h2m9 0h1m17 0h1m3 0h3m4 0h2m7 0h1m10 0h1m1 0h1m4 0h1m4 0h2m53 0h1m20 0h1m18 0h2m12 0h2M96 255.5h1m5 0h1m7 0h1m5 0h1m5 0h2m1 0h1m4 0h2m4 0h1m9 0h1m3 0h1m2 0h1m28 0h1m5 0h1m5 0h1m16 0h2m12 0h1m2 0h1m23 0h1m13 0h1m11 0h1m1 0h1M92 256.5h1m2 0h2m4 0h1m7 0h4m6 0h1m2 0h1m2 0h1m1 0h1m2 0h1m18 0h1m2 0h1m4 0h1m4 0h2m4 0h1m1 0h1m2 0h1m26 0h1m24 0h1m11 0h2m26 0h1m5 0h2m8 0h1M92 257.5h1m4 0h1m3 0h4m1 0h1m2 0h1m21 0h1m10 0h1m14 0h1m9 0h1m4 0h1m2 0h1m42 0h2m21 0h1m4 0h1m9 0h1m8 0h1m9 0h1m5 0h1M92 258.5h1m5 0h1m1 0h2m2 0h3m2 0h1m16 0h1m2 0h2m15 0h1m20 0h1m9 0h1m31 0h1m12 0h1m3 0h1m6 0h1m31 0h1m3 0h2m5 0h1m1 0h2m1 0h1m11 0h1M94 259.5h1m10 0h1m22 0h1m1 0h1m2 0h1m3 0h2m6 0h1m11 0h1m13 0h1m4 0h1m23 0h2m1 0h1m5 0h2m4 0h1m4 0h1m12 0h1m1 0h2m25 0h1m14 0h1m1 0h1m7 0h1M98 260.5h1m7 0h1m5 0h1m30 0h1m5 0h2m1 0h1m14 0h1m8 0h1m32 0h1m16 0h1m1 0h3m8 0h1m14 0h2m5 0h2m5 0h1m6 0h1M98 261.5h1m5 0h1m1 0h1m4 0h1m10 0h1m1 0h1m6 0h1m1 0h1m2 0h1m3 0h1m3 0h1m11 0h1m3 0h1m4 0h1m4 0h1m16 0h1m8 0h1m12 0h1m11 0h1m7 0h1m1 0h1m22 0h2m1 0h2m1 0h1m1 0h2m9 0h1m1 0h1m2 0h1m2 0h1m13 0h1M104 262.5h3m9 0h2m20 0h1m7 0h1m2 0h2m13 0h1m5 0h1m14 0h3m14 0h1m7 0h1m10 0h1m9 0h1m16 0h3m5 0h1m3 0h1m1 0h4m1 0h1m3 0h1m7 0h1m1 0h1m5 0h1M100 263.5h1m4 0h1m23 0h1m9 0h1m7 0h2m2 0h1m3 0h1m9 0h1m18 0h2m1 0h1m7 0h1m7 0h1m13 0h1m18 0h1m27 0h1m3 0h1m7 0h1m1 0h4M94 264.5h1m4 0h1m9 0h1m18 0h1m6 0h1m6 0h1m43 0h1m9 0h1m21 0h1m2 0h1m28 0h1m1 0h1m8 0h1m1 0h1m9 0h1m6 0h2m1 0h1m10 0h1M98 265.5h1m16 0h1m13 0h1m12 0h1m11 0h2m8 0h1m7 0h1m19 0h1m1 0h1m5 0h1m53 0h1m4 0h1m11 0h3m20 0h3M93 266.5h1m2 0h1m1 0h1m6 0h1m1 0h1m31 0h1m23 0h1m4 0h1m2 0h1m13 0h1m8 0h2m2 0h1m51 0h1m1 0h1m11 0h1m3 0h1m8 0h2m5 0h1m10 0h1M93 267.5h1m4 0h2m12 0h1m15 0h1m1 0h1m2 0h1m9 0h1m12 0h1m23 0h1m10 0h2m1 0h1m28 0h1m2 0h1m3 0h2m13 0h1m5 0h1m22 0h1M93 268.5h1m2 0h1m51 0h1m7 0h2m20 0h1m1 0h1m35 0h1m4 0h2m2 0h2m19 0h1m7 0h1m6 0h2m3 0h1m5 0h2M97 269.5h3m9 0h1m16 0h1m16 0h1m33 0h1m2 0h2m12 0h1m15 0h1m4 0h2m4 0h1m6 0h1m6 0h1m16 0h1m11 0h1m1 0h1m5 0h1M101 270.5h2m61 0h1m1 0h1m26 0h2m11 0h1m1 0h2m1 0h1m10 0h1m48 0h2M133 271.5h2m17 0h1m13 0h1m13 0h1m6 0h1m6 0h1m13 0h1m25 0h1m25 0h1m10 0h1M131 272.5h1m19 0h2m13 0h1m11 0h1m8 0h1m20 0h1m2 0h1m8 0h1m50 0h4m2 0h1M95 273.5h2m28 0h1m4 0h1m46 0h2m8 0h1m39 0h1m44 0h1m10 0h1M135 274.5h1m1 0h1m19 0h1m12 0h1m14 0h1m18 0h1m21 0h1m17 0h1m23 0h1m11 0h1m2 0h1M92 275.5h1m9 0h1m25 0h1m7 0h1m32 0h1m35 0h1m7 0h1m17 0h1m2 0h1m24 0h1m20 0h1m20 0h1M204 276.5h1m26 0h1m34 0h1m7 0h1M93 277.5h1m87 0h1m50 0h1m16 0h1m29 0h2M198 278.5h1m8 0h1m24 0h1M154 279.5h1m19 0h1m38 0h1m58 0h2m13 0h1M175 280.5h1m30 0h1m30 0h1m9 0h1m19 0h1m4 0h1M108 281.5h1m150 0h1"/><path id="k3" d="M230 73.5h1M249 74.5h1M264 77.5h1M238 78.5h1m27 0h1M262 79.5h1M266 82.5h1M244 83.5h1m25 0h1M229 84.5h1M229 85.5h1m4 0h1M231 86.5h1m2 0h1M197 87.5h1m25 0h1M221 88.5h1M209 89.5h1M118 90.5h1m15 0h1m93 0h2M206 91.5h1m71 0h1M140 92.5h1M124 95.5h1m7 0h2m18 0h1m3 0h1m45 0h1M157 96.5h1m35 0h1m87 0h1M138 97.5h1m44 0h1m98 0h1m6 0h1M170 98.5h1m6 0h1m11 0h1m95 0h2M94 99.5h1m12 0h1m22 0h1m44 0h1M118 100.5h2m26 0h1M107 101.5h2m9 0h1M140 106.5h1M273 110.5h1M282 118.5h1M276 120.5h1M297 121.5h1M271 124.5h1M118 127.5h1m158 0h1M118 128.5h1M136 129.5h1m141 0h1M145 130.5h1m2 0h1M159 131.5h1m118 0h1m9 0h1M119 132.5h1m120 0h1m1 0h1m28 0h1m7 0h1M109 133.5h1m129 0h1m26 0h1M105 134.5h1m9 0h1m148 0h1m1 0h1m12 0h1m2 0h1M99 135.5h2m14 0h1m150 0h2m2 0h1m7 0h1m3 0h1M99 136.5h1m2 0h1m4 0h1m1 0h1m13 0h1m4 0h1m14 0h1M97 137.5h1m6 0h1m1 0h1m1 0h2m18 0h1m6 0h2m5 0h1m4 0h1m1 0h1m10 0h1m97 0h1m22 0h2m17 0h1M94 138.5h1m21 0h1m16 0h1m2 0h1m2 0h1m30 0h1m83 0h2m9 0h1m1 0h1m13 0h2M94 139.5h1m17 0h2m1 0h1m16 0h1m16 0h1m24 0h1m77 0h1m15 0h1m12 0h2m4 0h1M115 140.5h1m9 0h1m28 0h1m7 0h1m26 0h1m91 0h1m13 0h1M94 141.5h1m10 0h1m1 0h2m5 0h1m2 0h1m18 0h1m36 0h1m1 0h1m83 0h1m10 0h1m10 0h1m4 0h1M98 142.5h3m4 0h1m12 0h1m3 0h1m11 0h1m1 0h3m5 0h1m12 0h2m1 0h1m8 0h1m5 0h2m18 0h1m4 0h1m10 0h1m7 0h1m29 0h2m9 0h1m1 0h1m3 0h1M102 143.5h1m7 0h1m5 0h1m3 0h1m3 0h1m8 0h1m23 0h1m24 0h1m10 0h2m16 0h3m18 0h1m1 0h1m15 0h1m9 0h3m7 0h1m7 0h1m8 0h1M104 144.5h1m20 0h1m20 0h1m49 0h3m12 0h2m3 0h1m14 0h1m2 0h2m8 0h1m5 0h1m12 0h1m18 0h1M148 145.5h1m48 0h1m13 0h1m4 0h2m5 0h1m7 0h2m7 0h1m10 0h1M98 146.5h1m12 0h1m5 0h1m18 0h1m23 0h1m2 0h1m13 0h1m10 0h1m37 0h1m23 0h3M100 147.5h1m15 0h1m11 0h1m43 0h1m9 0h1m2 0h1m22 0h1m2 0h1m20 0h1m18 0h1m11 0h1m1 0h1m20 0h1m1 0h1m8 0h1M112 148.5h1m53 0h1m7 0h1m2 0h2m22 0h1m8 0h1m8 0h1m7 0h1m11 0h1m26 0h1m13 0h1M95 149.5h1m32 0h1m5 0h1m9 0h1m30 0h3m15 0h1m19 0h1m24 0h1m10 0h1m13 0h1m1 0h1m35 0h1M103 150.5h2m35 0h1m5 0h2m9 0h1m1 0h1m4 0h2m6 0h1m3 0h2m14 0h1m40 0h2m5 0h1m17 0h1M99 151.5h1m43 0h1m3 0h1m8 0h2m2 0h1m19 0h1m39 0h1m6 0h1m2 0h1m10 0h1m12 0h1m6 0h1m17 0h1m1 0h2M97 152.5h1m1 0h1m10 0h1m2 0h1m21 0h2m1 0h1m5 0h1m21 0h1m62 0h1m30 0h1m18 0h3M97 153.5h1m2 0h2m40 0h1m24 0h1m6 0h1m11 0h1m26 0h4m11 0h1m9 0h1m13 0h2m21 0h1m6 0h1M100 154.5h1m6 0h1m14 0h1m52 0h1m14 0h1m8 0h1m5 0h1m27 0h2m5 0h2m24 0h1m11 0h1m16 0h1M109 155.5h1m34 0h1m13 0h1m19 0h1m33 0h1m6 0h2m46 0h1m10 0h1m8 0h1M108 156.5h1m36 0h1m5 0h1m3 0h1m32 0h1m58 0h2m9 0h2M111 157.5h1m39 0h1m21 0h1m8 0h1m6 0h1m16 0h2m9 0h1m22 0h1m5 0h1m12 0h1m3 0h1m12 0h1M111 158.5h1m34 0h1m1 0h1m1 0h1m18 0h1m22 0h1m25 0h1m15 0h1m24 0h1m7 0h1m4 0h1M92 159.5h1m38 0h1m39 0h1m5 0h1m42 0h1m7 0h2m17 0h1m5 0h1m7 0h1m13 0h1M120 160.5h1m17 0h3m2 0h1m11 0h2m3 0h1m14 0h1m8 0h1m13 0h1m10 0h1m16 0h1m9 0h1m14 0h1m28 0h1m5 0h1M99 161.5h1m37 0h1m5 0h1m33 0h1m44 0h1m4 0h1m21 0h2m7 0h2m21 0h1M99 162.5h2m6 0h1m10 0h1m22 0h1m55 0h1m13 0h1m10 0h1m5 0h5m11 0h1m13 0h1m2 0h1m7 0h1m9 0h1m10 0h1M103 163.5h1m1 0h1m39 0h1m38 0h1m76 0h1m5 0h1m1 0h1m8 0h1m7 0h1M177 164.5h1m6 0h1m23 0h1m1 0h1m41 0h1m25 0h1M92 165.5h1m39 0h1m76 0h1m23 0h1m29 0h2m18 0h1M132 166.5h1m23 0h1m2 0h1m24 0h1m25 0h1m23 0h1m29 0h1m13 0h1m2 0h1m2 0h1M118 167.5h1m51 0h1m7 0h1m42 0h1m15 0h1m14 0h1m9 0h1m13 0h1M98 168.5h1m33 0h1m11 0h1m14 0h1m11 0h1m29 0h2m11 0h1m23 0h1m39 0h1M115 169.5h1m95 0h1m5 0h1m35 0h1M107 170.5h1m48 0h1m2 0h1m41 0h1m37 0h1m15 0h2m1 0h2m16 0h1m2 0h1m4 0h1M92 171.5h1m22 0h1m35 0h1m8 0h1m15 0h1m28 0h1m12 0h1m52 0h1m2 0h2m4 0h1m3 0h1M97 172.5h1m120 0h1m10 0h1m11 0h1m33 0h1m4 0h1M203 173.5h1m1 0h1m11 0h2m22 0h1m11 0h1m17 0h1m5 0h1M167 174.5h1m39 0h3m24 0h1m6 0h1m21 0h1m7 0h1m5 0h2m13 0h1M134 175.5h1m2 0h1m16 0h1m52 0h1m5 0h1m8 0h1m12 0h1m11 0h1m4 0h1m6 0h1m2 0h1m1 0h1m2 0h1m1 0h2m7 0h4m3 0h2m1 0h1M134 176.5h1m1 0h1m52 0h1m4 0h1m8 0h1m3 0h1m2 0h1m21 0h1m7 0h1m1 0h1m1 0h1m2 0h2m13 0h1m5 0h1m11 0h1m5 0h1M96 177.5h1m38 0h1m8 0h1m21 0h1m15 0h1m7 0h1m32 0h1m1 0h1M92 178.5h1m1 0h1m2 0h1m42 0h1m19 0h1m5 0h1m31 0h1m4 0h1m4 0h1m16 0h1m43 0h1M92 179.5h1m1 0h1m16 0h1m92 0h1m14 0h1m17 0h1m29 0h1m2 0h1m5 0h1m10 0h1M111 180.5h2m74 0h1m16 0h1m14 0h1m28 0h1m7 0h3m8 0h1m2 0h1m4 0h2m2 0h1M94 181.5h2m16 0h1m9 0h1m82 0h2m19 0h1m2 0h1m36 0h2m7 0h1m24 0h1M99 182.5h1m10 0h3m5 0h1m15 0h1m67 0h1m19 0h1m2 0h1m12 0h1m24 0h3m5 0h1m13 0h1M111 183.5h1m1 0h1m65 0h1m1 0h1m19 0h1m10 0h1m2 0h1m1 0h1m20 0h1m32 0h1m24 0h1M99 184.5h1m38 0h1m38 0h1m22 0h1m13 0h1m7 0h2m10 0h1m27 0h1m4 0h1m9 0h1M137 185.5h1m50 0h2m6 0h1m26 0h1m33 0h1m3 0h1m1 0h1m6 0h1m6 0h2m6 0h1M122 186.5h1m31 0h1m33 0h1m10 0h1m12 0h1m4 0h2m37 0h1m2 0h2m14 0h1m1 0h1m1 0h1M95 187.5h1m101 0h2m15 0h1m2 0h1m41 0h1M130 188.5h2m3 0h1m61 0h1m1 0h1m17 0h1m14 0h1m19 0h1m5 0h1m3 0h1M97 189.5h1m3 0h1m72 0h2m22 0h1m17 0h1m40 0h1m4 0h1m3 0h1M100 190.5h1m48 0h1m13 0h2m66 0h2m5 0h1m18 0h1m3 0h1M97 191.5h1m65 0h1m11 0h1m21 0h1m25 0h1m14 0h1m26 0h1M98 192.5h1m6 0h1m80 0h1m2 0h1m21 0h1m3 0h1m43 0h1m5 0h1m6 0h1m10 0h1M123 193.5h1m6 0h1m80 0h4m8 0h1m3 0h3m22 0h2m25 0h1m5 0h1M121 194.5h1m19 0h1m49 0h1m21 0h1m16 0h1m30 0h1m2 0h1m4 0h1m19 0h1M106 195.5h1m24 0h1m1 0h1m13 0h1m2 0h1m60 0h1m49 0h1m1 0h4m2 0h1m8 0h1M101 196.5h1m11 0h1m34 0h1m20 0h1m31 0h1m18 0h2m21 0h1m15 0h1m5 0h2m1 0h1m6 0h1m2 0h1M100 197.5h1m32 0h1m35 0h1m6 0h1m26 0h1m31 0h1m7 0h1m11 0h1m6 0h1m5 0h1m17 0h1m9 0h1M128 198.5h1m53 0h1m5 0h1m54 0h1m1 0h1m3 0h1m1 0h1m27 0h1m1 0h1m4 0h2M92 199.5h1m23 0h1m56 0h1m18 0h1m30 0h2m19 0h1m3 0h2m16 0h1m3 0h1m8 0h1m2 0h2M100 200.5h1m62 0h2m4 0h1m3 0h1m43 0h1m8 0h1m19 0h1m2 0h2m6 0h1m8 0h1m2 0h1m5 0h1M94 201.5h1m7 0h1m12 0h1m37 0h1m71 0h1m21 0h1m14 0h1m4 0h1m7 0h1M96 202.5h1m18 0h1m40 0h1m21 0h1m27 0h1m19 0h1m19 0h1M130 203.5h2m31 0h1m13 0h1m25 0h1m20 0h1m29 0h1m11 0h1m3 0h1m11 0h1M102 204.5h2m9 0h1m81 0h1m33 0h1m2 0h2m47 0h1m13 0h1M102 205.5h1m10 0h1m24 0h1m40 0h1m13 0h1m33 0h1m1 0h1m34 0h1m4 0h1m2 0h2m1 0h1m1 0h2m16 0h1M178 206.5h1m12 0h3m13 0h1m30 0h2m10 0h1M107 207.5h1m13 0h1m60 0h1m7 0h3m9 0h2m1 0h1m5 0h1m26 0h1M113 208.5h2m3 0h1m10 0h1m11 0h1m27 0h1m21 0h1m4 0h1m10 0h1m3 0h1m20 0h1m31 0h1m14 0h1M93 209.5h2m6 0h1m12 0h1m57 0h1m45 0h1m7 0h1m7 0h1m21 0h1m2 0h1m13 0h1m3 0h1m12 0h2M109 210.5h1m14 0h1m94 0h1m37 0h1m2 0h1m7 0h1M104 211.5h1m3 0h2m8 0h1m33 0h1m105 0h2M109 212.5h2m7 0h1m6 0h1m78 0h1m27 0h1m11 0h1m48 0h1M127 213.5h3m62 0h1m1 0h2m3 0h1m19 0h1m15 0h1m1 0h1m19 0h1m4 0h1m18 0h2M127 214.5h1m3 0h1m37 0h1m57 0h1m8 0h1m20 0h1m1 0h2m10 0h1m7 0h2m2 0h2m2 0h1M106 215.5h1m8 0h1m51 0h1m58 0h1m25 0h1m13 0h1m1 0h1m10 0h1m1 0h1m6 0h1M97 216.5h1m18 0h1m1 0h1m43 0h1m96 0h1m3 0h1M115 217.5h1m19 0h1m54 0h1m14 0h1m26 0h1m24 0h1m1 0h1m3 0h1m2 0h1m23 0h1M117 218.5h1m62 0h1m12 0h1m26 0h1m7 0h1m3 0h1m15 0h2m27 0h2m7 0h2M117 219.5h1m21 0h1m2 0h1m45 0h1m13 0h1m39 0h1m15 0h1m26 0h1m4 0h1M142 220.5h1m12 0h1m57 0h1m2 0h1m1 0h1m9 0h1m4 0h1m2 0h1m4 0h2m3 0h1m13 0h1m17 0h1m5 0h1M92 221.5h1m8 0h2m52 0h1m3 0h1m3 0h2m17 0h1m8 0h1m47 0h1m1 0h1m15 0h1m20 0h1M143 222.5h1m19 0h2m38 0h1m16 0h1m19 0h1m2 0h1m13 0h1m2 0h1m4 0h1m4 0h2m3 0h1m13 0h3M161 223.5h1m1 0h1m17 0h1m38 0h1m14 0h1m25 0h1m3 0h1m5 0h3m6 0h1m9 0h1M104 224.5h1m5 0h1m43 0h1m72 0h1m23 0h1m2 0h1m10 0h1m8 0h1m13 0h1M98 225.5h1m2 0h1m4 0h1m17 0h1m26 0h1m12 0h1m22 0h1m5 0h1m1 0h1m15 0h1m15 0h1m31 0h1m7 0h1M105 226.5h3m37 0h1m4 0h1m19 0h1m5 0h1m24 0h2m49 0h1m4 0h1m14 0h2m13 0h1M129 227.5h1m3 0h1m35 0h1m6 0h1m13 0h1m5 0h1m20 0h1m16 0h1m32 0h1m1 0h3m6 0h2m2 0h1M92 228.5h2m54 0h1m1 0h1m3 0h1m19 0h1m41 0h1m11 0h1m38 0h2m1 0h1m1 0h1M142 229.5h1m4 0h1m79 0h1m19 0h1m22 0h1M110 230.5h1m31 0h1m75 0h1m23 0h1m25 0h1m23 0h1M96 231.5h1m8 0h1m2 0h1m44 0h1m30 0h1m4 0h1m43 0h1m3 0h1m16 0h1M106 232.5h1m17 0h1m22 0h1m2 0h1m19 0h1m13 0h1m2 0h1m6 0h1m5 0h1m21 0h1m21 0h1m23 0h1m10 0h1m5 0h1M97 233.5h1m42 0h2m6 0h1m2 0h1m16 0h1m49 0h1m18 0h1m2 0h1m3 0h1m24 0h1m3 0h1M124 234.5h2m4 0h2m1 0h1m16 0h1m14 0h1m16 0h1m17 0h1m3 0h1m18 0h1m10 0h1m24 0h1m19 0h1m2 0h1M92 235.5h1m36 0h1m1 0h2m36 0h1m34 0h1m5 0h1m13 0h1m9 0h1m44 0h1M103 236.5h1m47 0h1m8 0h1m16 0h1m1 0h1m19 0h1m10 0h1m66 0h1m8 0h1M103 237.5h1m5 0h1m16 0h1m24 0h1m16 0h1m6 0h1m12 0h1m20 0h2m10 0h1m30 0h1m14 0h1m13 0h1M102 238.5h1m43 0h1m1 0h1m38 0h1m20 0h1m17 0h1m33 0h1m10 0h2M94 239.5h1m8 0h1m34 0h1m7 0h1m55 0h1m38 0h1m4 0h1m2 0h1m9 0h1m5 0h1m6 0h1m11 0h2m13 0h1M92 240.5h1m1 0h1m23 0h1m25 0h2m56 0h1m26 0h1m8 0h1m2 0h1m28 0h1m14 0h1M93 241.5h1m19 0h1m12 0h1m18 0h1m6 0h2m36 0h1m1 0h1m33 0h2m10 0h1m14 0h1m1 0h2m12 0h2m13 0h2M93 242.5h1m1 0h1m29 0h1m2 0h1m16 0h1m1 0h1m4 0h2m22 0h1m14 0h1m72 0h1m12 0h1M129 243.5h1m18 0h1m18 0h1m67 0h1m28 0h1m14 0h1M109 244.5h1m58 0h1m89 0h1m6 0h1m10 0h1M114 245.5h1m17 0h1m9 0h1m24 0h1m18 0h1m15 0h1m31 0h1m5 0h1m6 0h1m17 0h1m10 0h1m9 0h1M102 246.5h2m38 0h1m8 0h1m51 0h1m1 0h1m27 0h2m31 0h2M97 247.5h1m2 0h1m9 0h1m13 0h1m11 0h1m8 0h1m54 0h1m32 0h1m22 0h1m11 0h1m5 0h1M104 248.5h1m14 0h2m4 0h1m6 0h1m1 0h1m7 0h1m1 0h1m21 0h2m13 0h1m9 0h1m4 0h2m39 0h1m15 0h1m1 0h2m9 0h2m2 0h1m9 0h1M92 249.5h1m34 0h1m7 0h2m5 0h1m2 0h1m4 0h1m12 0h2m25 0h1m3 0h1m1 0h1m1 0h1m15 0h1m22 0h1m17 0h2m9 0h2m2 0h1m12 0h1M101 250.5h1m16 0h1m2 0h1m11 0h1m12 0h1m3 0h2m14 0h1m15 0h1m6 0h1m4 0h1m7 0h2m10 0h1m44 0h1m8 0h1m11 0h1m10 0h1M101 251.5h1m5 0h1m16 0h1m6 0h1m4 0h1m14 0h1m12 0h1m21 0h1m4 0h2m6 0h1m1 0h1m2 0h1m14 0h1m15 0h1m13 0h1m12 0h1m3 0h1m13 0h1M114 252.5h2m11 0h1m3 0h1m3 0h2m11 0h1m2 0h1m5 0h1m15 0h1m11 0h1m4 0h1m9 0h1m7 0h1m10 0h3m3 0h1m32 0h1m16 0h1m4 0h1M104 253.5h1m12 0h3m6 0h1m10 0h1m1 0h1m10 0h1m15 0h2m1 0h2m9 0h1m5 0h1m5 0h1m13 0h1m12 0h1m2 0h1m3 0h1m9 0h1m17 0h1m11 0h3m3 0h1M118 254.5h1m4 0h2m2 0h2m11 0h2m15 0h1m4 0h1m7 0h1m8 0h2m4 0h1m3 0h1m29 0h1m8 0h1m7 0h3m1 0h1m2 0h1m10 0h1m14 0h1m14 0h1M95 255.5h1m32 0h2m3 0h1m25 0h1m10 0h2m9 0h1m9 0h1m29 0h1m17 0h2m2 0h1m10 0h1m10 0h1m17 0h1M124 256.5h1m4 0h1m8 0h1m14 0h1m37 0h1m35 0h1m13 0h1m20 0h1m3 0h1m15 0h1m5 0h1M99 257.5h1m12 0h1m6 0h1m3 0h2m1 0h2m8 0h1m12 0h1m21 0h1m5 0h2m16 0h1m15 0h1m26 0h2m22 0h1m23 0h1M96 258.5h1m5 0h2m6 0h3m21 0h1m1 0h2m11 0h1m19 0h1m8 0h1m32 0h1m16 0h1m1 0h1m9 0h2m7 0h1m8 0h1m23 0h1M96 259.5h1m4 0h1m9 0h1m5 0h1m2 0h1m45 0h1m11 0h1m3 0h1m13 0h1m9 0h1m12 0h1m7 0h1m2 0h1m36 0h2m5 0h1m11 0h1M92 260.5h1m6 0h1m7 0h1m11 0h1m9 0h1m7 0h1m2 0h1m4 0h1m11 0h1m31 0h1m20 0h1m5 0h1m4 0h1m34 0h1m19 0h1m15 0h1M107 261.5h1m6 0h2m1 0h1m11 0h2m8 0h1m12 0h1m10 0h1m75 0h1m11 0h2m6 0h1m1 0h1m7 0h3m11 0h1m9 0h1M97 262.5h1m32 0h1m35 0h1m22 0h1m7 0h1m1 0h1m13 0h1m6 0h1m14 0h1M96 263.5h2m18 0h1m16 0h1m3 0h1m8 0h1m14 0h1m14 0h1m1 0h1m15 0h1m9 0h1m6 0h1m2 0h2m2 0h3m4 0h1m21 0h1m2 0h1m5 0h1M95 264.5h4m1 0h1m7 0h1m14 0h1m5 0h2m8 0h1m3 0h2m2 0h2m1 0h1m3 0h2m21 0h2m25 0h1m5 0h2m3 0h1m3 0h1m37 0h1m12 0h3m5 0h1M93 265.5h1m6 0h2m4 0h1m13 0h1m26 0h1m3 0h1m6 0h1m1 0h1m20 0h1m4 0h1m12 0h1m10 0h1m50 0h1m7 0h1m5 0h1m3 0h1m1 0h2M100 266.5h1m28 0h1m5 0h1m5 0h1m16 0h1m37 0h1m2 0h1m23 0h1m27 0h1m2 0h1m8 0h1m5 0h1M119 267.5h1m15 0h1m45 0h1m16 0h2m36 0h1m6 0h1m10 0h1m10 0h1m7 0h1m11 0h1M120 268.5h1m13 0h2m23 0h1m6 0h1m14 0h1m5 0h1m27 0h1m13 0h1m44 0h1m6 0h1m3 0h1M120 269.5h1m4 0h1m9 0h2m48 0h1m20 0h1m30 0h1m10 0h2m20 0h1m22 0h1M117 270.5h1m1 0h2m5 0h1m35 0h1m18 0h1m8 0h1m23 0h1m23 0h1m8 0h1m19 0h1M151 271.5h1m61 0h1m8 0h2m46 0h1M118 272.5h1m19 0h2m76 0h1m17 0h1m21 0h1m13 0h1M159 273.5h1m40 0h2m7 0h1m22 0h1m11 0h1m20 0h1m11 0h1M95 274.5h1m40 0h1m3 0h1m59 0h1m56 0h1M130 275.5h1m6 0h2m43 0h1m75 0h1M165 276.5h1m39 0h1m75 0h1m3 0h1M205 277.5h1m41 0h1M153 278.5h1M104 279.5h1m46 0h1m3 0h2M179 280.5h1M172 281.5h1"/></defs>
<g transform="scale(1.1)" fill="none">
<g filter="url(#bl)" opacity="0.9" stroke-width="1.25" stroke-linecap="square"><use href="#k3" stroke="#b0b0b0"/><use href="#k2" stroke="#6a6a6a"/><use href="#k1" stroke="#000"/></g>
<g opacity="0.6" stroke-width="1"><use href="#k3" stroke="#b0b0b0"/><use href="#k2" stroke="#6a6a6a"/><use href="#k1" stroke="#000"/></g>
</g>
<defs><path id="k4" d="M180 41.5h1M108 53.5h1m145 0h1M243 66.5h1m14 0h1M261 82.5h1M249 85.5h1M246 153.5h1M250 160.5h1M265 191.5h1M245 199.5h1m27 0h1M263 227.5h1"/><path id="k5" d="M249 82.5h2M252 106.5h1M271 124.5h1M253 126.5h1M248 130.5h1M249 132.5h1M290 135.5h1M290 136.5h1M255 139.5h1M270 146.5h1M278 150.5h1m13 0h1M243 153.5h1M250 210.5h1"/></defs>
<g transform="scale(1.35)" fill="none">
<g stroke-width="1"><use href="#k5" stroke="#aaa"/><use href="#k4" stroke="#555"/></g>
</g>
<path d="M40 118.8l2.5 -2.1l3.1 -1.2l3.5 -0.3l4 0.3l4.3 0.7l4.4 0.9l4.4 1l4.4 0.8l4.1 0.5l4 0.3l3.9 0.1l3.7 -0.1l3.7 -0.2l3.7 -0.2l3.6 -0.3l3.7 -0.3l3.7 -0.1l3.7 -0.2l3.8 -0.1l3.7 0l3.9 0l3.8 0l3.8 0l3.9 0.1l3.9 0l3.8 0l3.9 0l3.8 0l3.9 -0.1l3.8 -0.1l3.8 -0.2l3.8 -0.2l3.8 -0.2l3.8 -0.2l3.8 -0.3l3.8 -0.3l3.8 -0.2l3.8 -0.3l3.8 -0.3l3.8 -0.2l3.8 -0.3l3.8 -0.3l3.8 -0.3l3.8 -0.2l3.8 -0.3l3.8 -0.2l3.8 -0.2l3.8 -0.2l3.9 -0.1l3.8 -0.1l3.8 -0.1l3.9 0l3.8 -0.3l3.8 -0.4l3.7 -0.7l3.6 -1l3.6 -1.4l3.6 -1.4l3.5 -1.4l3.6 -1.4l3.6 -1.2l3.7 -1l3.7 -0.8l3.8 -0.7l3.8 -0.4l3.8 -0.1l3.8 0.6l3.6 1.4l3 2.4l2 3.3l0.8 3.8l-0.4 3.8l-1.2 3.6l-1.8 3.5l-2 3.2l-2.3 3l-2.7 2.7l-2.8 2.6l-3.1 2.2l-3.3 2l-3.4 1.7l-3.5 1.5l-3.6 1.2l-3.7 1.1l-3.7 0.8l-3.8 0.7l-3.8 0.7l-3.7 0.6l-3.8 0.6l-3.8 0.6l-3.7 0.5l-3.8 0.6l-3.8 0.4l-3.8 0.3l-3.8 0.1l-3.8 0.1l-3.8 -0.1l-3.8 -0.2l-3.9 -0.2l-3.7 -0.4l-3.8 -0.4l-3.8 -0.5l-3.8 -0.6l-3.7 -0.6l-3.8 -0.6l-3.8 -0.6l-3.7 -0.6l-3.8 -0.6l-3.8 -0.6l-3.8 -0.5l-3.7 -0.5l-3.8 -0.4l-3.8 -0.4l-3.8 -0.4l-3.8 -0.3l-3.8 -0.3l-3.8 -0.3l-3.8 -0.3l-3.8 -0.2l-3.8 -0.2l-3.8 -0.2l-3.9 -0.1l-3.8 -0.1l-3.8 0l-3.9 -0.1l-3.8 0l-3.8 -0.1l-3.8 -0.2l-3.7 -0.2l-3.7 -0.2l-3.6 -0.3l-3.7 -0.2l-3.7 -0.2l-3.8 0l-3.9 0.2l-4.1 0.5l-4.3 0.7l-4.4 0.9l-4.4 1l-4.3 0.8l-4.1 0.5l-3.8 -0.1l-3.3 -0.8l-2.7 -1.7l-2.1 -2.9l-1.2 -3.7l-0.5 -4.3l0.2 -4.3l1 -4z" fill="#fff"/>
<path d="M174 119.8L206 117.8 236 116.3 250 115.5 250 121.5 236 122.8 212 123.3 196 124.5 180 125.5zM178 141L200 137.5 222 134.5 250 136 250 146 236 148 220 148.5 204 147 190 144.8z" fill="#8a8a8a"/>
<path d="M239.5 147.5l-3 0.7l-3 0.3l-3 0l-3 0l-3 0l-3 0l-3 0l-3 0l-3 0l-3 -0.3l-2.9 -0.7l-2.1 0l-3 -0.7l-2 -0.3l-3 -0.3l-2.4 -0.7l-2.6 -0.1l-3 -0.9l-2 -0.1l-3 -0.3l-2 -0.7l-3 -0.2l-2.1 -0.7l-2.9 -0.3l-3 -0.5l-2 -0.7l-3 -0.2l-3 -0.2l-2 -0.6l-2 -0.7l-3 -0.3l-3 -0.4l-2 -0.4l-2 -0.9l-3 -0.5l-3 -0.3l-2 -0.1l-3 -0.3l-3 -0.2l-2 -0.7l-3 -0.5l-3 -0.1l-3 0l-2.8 -0.1l-2.2 0l-3 -0.1l-3 0l-3 0l-3 0l-3 0l-3 -0.4l-2 -0.5l-3 -0.1l-3 0l-3 0l-3 0l-3 0l-3 0l-3 0l-3 0l-3 0l-2 0.3l-3 0.7l-2 0.3l-3 0.8l-2 0.5l-3 0.4l-2.1 0.1l-2.9 0.8l-3 0l-2.4 -0.8l-1.5 -2l-0.6 -2l-0.4 -3l0.3 -3l1 -2l1.2 -2l2.4 -0.9l3 0.1l3 0.6l2 0.4l2.9 0.8l2.1 0.2l2.9 0.8l2.1 0.1l3 0.7l2 0.3l3 0l3 0l3 0l3 0l3 0l3 0l3 0l3 0l2.1 -0.1l2.9 -0.8l3 -0.1l3 0l3 0l3 0l3 0l3 -0.1l2.2 0l2.8 -0.1l3 0l3 -0.1l3 -0.1l3 -0.2l3 -0.2l3 -0.3l2 -0.1l3 -0.4l3 -0.3l2 -0.2l3 -0.4l3 -0.3l2.4 -0.3l2.6 -1l2 -0.3l3 -0.1l3 -0.2l3 -0.1l2 -0.3l3 -0.8l3 -0.1l3 0l3 0l2 -0.1l3 -0.9l3 -0.1l3 0l3 0l2 -0.3l3 -0.7l3 0l3 0l3 0l2 0l3 -0.7l3 -0.3l3 0l3 0l3 0l3 0l3 0l3 0l2 0l3 -0.7l2.6 -0.3l2.4 -0.3l2 -0.7l2.5 -1l2.5 -0.9l2 -0.4l2 -0.9l2 -1.4l2 -0.4l2.5 -1l2.5 -1l2 -0.7l2 -0.4l3 -0.8l2 -0.1l3 -0.7l3 -0.3l3 0l3 0.3l2 1l2 1l2 1.7l1 1.2l1 2.8l0 3l-0.3 3l-1 2l-1.5 2l-1 2l-1.2 1.8l-1 1.6l-1.2 1.6l-1.8 1.8l-1.2 1.2l-1.8 1.8l-1.6 1.2l-1.6 1l-1.8 1.2l-2 1l-2 1l-2 0.8l-2.5 1l-2.5 1l-2 0.7l-2 0.4l-3 0.8l-2 0.4l-3 0.7l-2 0.1l-3 0.8l-2.1 0.1l-2.9 0.3l-3 0.7l-2 0.1l-3 0.8l-2.2 0.1zM234.5 145.7l-3 0l-3 0l-3 0l-3 0l-3 0l-3 0l-3 0l-2.7 -0.2l-2.3 -0.7l-3 -0.1l-2 -0.3l-3 -0.7l-2.6 -0.2l-2.4 -0.7l-3 -0.2l-2 -0.6l-3 -0.4l-2 -0.1l-3 -0.9l-2 -0.2l-3 -0.7l-2 -0.5l-3 -0.2l-2 -0.7l-3 -0.7l-2 -0.2l-3 -0.5l-2 -0.9l-2 -0.6l-3 -0.7l-2 -0.4l-2.4 -0.8l-2.1 -1l-2.5 -0.7l-2 -0.5l-3 -0.8l0 -1l3 -0.8l2 -0.5l3 -0.6l2 -0.5l2.8 -0.6l2.2 -0.4l2.8 -0.6l2.2 -0.7l2 -0.9l2.8 -0.4l2.2 -0.2l3 -0.3l3 -0.2l2 -0.4l3 -0.8l3 -0.1l2 0l3 -0.1l3 -0.1l2.6 -0.8l2.4 -0.1l3 -0.1l3 0l3 -0.4l2 -0.5l3 -0.1l3 0l3 0l3 0l3 -0.8l2 -0.2l3 0l3 0l3 0l3 0l3 0l3 0l3 0l3 -0.8l2 -0.2l3 -0.4l2 -0.7l2 -0.8l2.2 -0.9l2.8 -0.6l2 -1l2 -1.1l2 -0.6l2 -0.8l2 -0.9l3 -1l2 -0.3l2.2 -0.7l2.8 -0.2l3 -0.8l2 -0.2l3 0l2 0.2l2.1 1l1.9 1.2l1.7 1.8l0.5 2l0 3l-0.7 2l-1.4 2l-1 2l-1.1 1.8l-1 1.4l-1.2 1.8l-1.8 1.8l-1.2 1.2l-1.8 1.8l-1.8 1.2l-1.4 1l-1.8 1.1l-2 1l-2 0.9l-2.9 1l-2.1 1l-2 0.6l-2 0.6l-3 0.8l-2 0.3l-2.2 0.7l-2.8 0.2l-3 0.8l-2 0.2l-3 0.1l-2.2 0.7l-2.8 0.2l-3 0.8l-2 0.2l-3 0.1l-2.2 0.7zM234.5 142.8l-3 0.1l-3 0l-3 0l-3 0l-3 0l-3 0l-3 0l-2.8 -0.4l-2.2 -0.5l-3 -0.1l-2 -0.5l-3 -0.5l-2.7 -0.4l-2.3 -0.6l-3 -0.3l-2 -0.6l-3 -0.3l-2 -0.2l-3 -0.8l-2 -0.2l-3 -0.9l-2 -0.4l-3 -0.5l-2 -0.7l-2 -0.5l-3 -0.5l-2.1 -0.5l-2.1 -1l-2.3 -1l-1.7 -1l1.8 -1l2.4 -0.9l2 -0.9l2 -0.7l3 -0.5l2 -0.2l3 -0.3l2.9 -0.5l2.1 -0.7l2.5 -0.3l2.5 -0.1l3 -0.1l3 -0.1l3 -0.5l2 -0.5l3 0l3 -0.1l3 -0.1l2.2 -0.5l2.8 -0.4l3 0l3 0l3 0l3 -0.3l2 -0.6l3 -0.1l3 0l3 0l3 0l3 0l3 0l3 0l3 -0.3l2 -0.6l3 -0.2l2.1 -0.5l2.9 -1l2 -0.9l2 -0.6l2 -0.5l2.2 -1l1.9 -1l2.9 -1l2 -0.9l2 -0.8l2 -0.6l3 -0.7l2 -0.4l3 -0.3l2 -0.6l3 -0.1l2.7 0.4l1.9 1l1.4 1.3l0.4 2.7l-0.6 2l-1.4 2l-1 2l-1.4 2l-1 1.6l-1.1 1.4l-1.9 1.9l-1.2 1.1l-1.8 1.4l-2 1.4l-2 1.1l-2 1l-2 0.8l-2 0.7l-2 0.9l-2.1 0.7l-2.9 0.7l-2 0.6l-3 0.7l-2 0.4l-3 0.3l-2 0.6l-3 0.1l-3 0.6l-2 0.4l-3 0.3l-2 0.6l-3 0.1l-3 0.6zM235.5 139.5l-3 0.6l-3 0l-3 0l-3 0l-3 0l-3 0l-3 0l-3 -0.3l-2 -0.5l-3 -0.2l-2.9 -0.6l-2.1 -0.4l-3 -0.4l-2 -0.5l-3 -0.3l-2 -0.5l-3 -0.5l-2.9 -0.4l-2.1 -0.6l-2.8 -0.4l-2.2 -0.7l-2 -0.5l-3 -0.5l-2 -0.8l-2 -0.8l-1 -1l2.1 -0.7l2.9 -0.4l3 -0.5l2 -0.7l2 -0.4l3 -0.2l3 -0.1l3 -0.1l3 -0.5l2 -0.5l3 -0.1l3 0l3 -0.1l2 -0.4l3 -0.6l3 0l3 0l3 0l3 -0.2l2 -0.5l3 -0.3l3 0l3 0l3 0l3 0l3 0l3 0l3 -0.2l2 -0.5l3 -0.4l2 -0.3l2.9 -1l2.1 -0.8l2 -0.8l2 -0.4l2.4 -1l2 -1l2.5 -1l2.1 -0.8l2 -0.9l2 -0.6l2.9 -0.7l2.1 -0.5l3 -0.3l2 -0.5l3 -0.3l2.4 0.6l1 2l-1.1 2l-1 2l-1.3 2l-1 1.5l-1.1 1.5l-1.9 1.9l-1.1 1.1l-1.9 1.3l-2 1.4l-2 1.1l-2 0.9l-2 0.7l-2 0.9l-2 0.7l-3 0.8l-2 0.5l-2.9 0.7l-2.1 0.5l-3 0.3l-2 0.5l-3 0.3l-2.9 0.4l-2.1 0.5l-3 0.3l-2 0.5l-3 0.3l-2.9 0.4zM235.5 136.6l-3 0.7l-3 0l-3 0l-3 0l-3 0l-3 0l-3 0l-3 -0.4l-2 -0.5l-3 -0.2l-3 -0.6l-2 -0.3l-3 -0.5l-2 -0.5l-3 -0.3l-2 -0.6l-3 -0.4l-2.8 -0.5l-2.2 -0.8l0 -1.3l3 -0.3l3 -0.1l3 -0.4l2 -0.6l3 -0.2l3 0l3 -0.1l2 -0.3l3 -0.6l3 -0.1l3 0l3 0l3 -0.2l2 -0.4l3 -0.4l3 0l3 0l3 0l3 0l3 0l3 0l3 -0.2l2 -0.4l3 -0.5l2 -0.2l2.8 -0.9l2.2 -0.7l2 -0.9l2 -0.5l2.6 -0.9l2.1 -1l2.1 -1l2.2 -0.7l2 -0.9l2 -0.8l2.3 -0.6l2.7 -0.6l3 -0.4l2 -0.3l2.2 0.3l-0.6 2l-1.3 2l-1.3 1.9l-1.1 1.1l-1.9 1.9l-1.6 1.1l-1.4 1l-2 1.1l-2 1l-2.6 0.9l-2.2 1l-2.2 0.7l-2 0.4l-3 0.8l-2 0.5l-3 0.5l-2 0.2l-3 0.7l-3 0.2l-2 0.4l-3 0.5l-2 0.2l-3 0.7l-3 0.2zM238.5 133.5l-3 0.3l-3 0.6l-3 0.1l-3 0l-3 0l-3 0l-3 0l-3 0l-3 -0.6l-2.8 -0.4l-2.2 -0.2l-2.3 -0.8l1.3 -1.1l3 -0.7l3 -0.2l3 0l3 0l2 0l3 -0.5l3 -0.5l3 0l3 0l3 0l3 0l3 0l3 0l2 0l3 -0.4l2.8 -0.6l2.2 -0.3l2.7 -0.7l2.3 -0.8l2 -0.7l2 -0.7l2.7 -0.8l2.3 -1l2 -1l2 -0.8l2 -0.7l2 -0.9l2 -0.6l3 -0.6l1 1.2l-1.1 1.4l-1.9 1.6l-2 1.3l-2 1.1l-2 0.8l-2 0.7l-2 0.9l-2 0.6l-3 0.8l-2 0.5l-3 0.6l-2 0.2l-3 0.6l-2.5 0.3l-2.5 0.2l-3 0.7l-2 0.2l-3 0.6z" fill="none" stroke="#555" stroke-width="0.9"/>
<path d="M185 121.5h7m5 -1h9m4 -0.5h14m5 0h8M205 137l3 2m8 -3l3 3m20 -3h4" stroke="#111" stroke-width="1.3" fill="none"/>
</g>
<rect x="101.5" y="16.5" width="294.5" height="293.5" fill="none" stroke="#000" stroke-width="2.5"/>
<path d="M103.5 310v8.5M164.5 310v8.5M234.5 310v8.5M303.5 310v8.5M367.5 310v8.5M388.5 310v5M185.6 310v4M197.9 310v4M206.6 310v4M213.4 310v4M219 310v4M223.7 310v4M227.7 310v4M231.3 310v4M255.3 310v4M267.4 310v4M276 310v4M282.7 310v4M288.2 310v4M292.8 310v4M296.8 310v4M300.3 310v4M322.8 310v4M334 310v4M342 310v4M348.2 310v4M353.3 310v4M357.6 310v4M361.3 310v4M364.6 310v4M109.5 310v4M114.5 310v4M118.5 310v4M122.5 310v4M125.5 310v4M128.5 310v4M131.5 310v4M139.5 310v4M145.5 310v4M150.5 310v4M154.5 310v4M158.5 310v4M161.5 310v4M189.5 310v4M205.5 310v4M216.5 310v4M101.5 308h-8.5M101.5 247h-8.5M101.5 177h-8.5M101.5 108h-8.5M101.5 44h-8.5M101.5 225.9h-4M101.5 213.6h-4M101.5 204.9h-4M101.5 198.1h-4M101.5 192.5h-4M101.5 187.8h-4M101.5 183.8h-4M101.5 180.2h-4M101.5 156.2h-4M101.5 144.1h-4M101.5 135.5h-4M101.5 128.8h-4M101.5 123.3h-4M101.5 118.7h-4M101.5 114.7h-4M101.5 111.2h-4M101.5 88.7h-4M101.5 77.5h-4M101.5 69.5h-4M101.5 63.3h-4M101.5 58.2h-4M101.5 53.9h-4M101.5 50.2h-4M101.5 46.9h-4M101.5 302h-4M101.5 297h-4M101.5 293h-4M101.5 289h-4M101.5 286h-4M101.5 283h-4M101.5 280h-4M101.5 272h-4M101.5 266h-4M101.5 261h-4M101.5 257h-4M101.5 253h-4M101.5 250h-4M101.5 222h-4M101.5 206h-4M101.5 195h-4" stroke="#000" stroke-width="1.7" fill="none"/>
<path d="M129.5 310v7M101.5 280h-7" stroke="#000" stroke-width="3.5" fill="none"/>
<rect x="252.5" y="76.5" width="102.5" height="87.5" fill="none" stroke="#000" stroke-width="1.9"/>
<path d="M250 76.5h5M252.5 74v5M352.5 76.5h5M355 74v5M352.5 164h5M355 161.5v5M250 164h5M252.5 161.5v5" stroke="#000" stroke-width="1.6"/>
<text x="340.5" y="70.3" font-size="18" font-weight="bold" text-anchor="middle">18.8</text>
<text x="89.5" y="162" font-size="18.5" font-weight="bold" text-anchor="middle" transform="rotate(-90 89.5 162)">CD4</text>
<text x="248.5" y="337" font-size="18.5" font-weight="bold" text-anchor="middle">CD44</text>
<clipPath id="c2"><rect x="463" y="16.5" width="294.5" height="293.5"/></clipPath>
<g clip-path="url(#c2)">
<defs><path id="k6" d="M462 90.5h1M470 92.5h1M466 94.5h1M451 95.5h1m2 0h2m11 0h1M437 96.5h1m6 0h1m1 0h1m11 0h1m5 0h1m3 0h2M470 97.5h1M449 98.5h3m7 0h1m1 0h1m5 0h1M440 99.5h1m9 0h1m16 0h1M468 100.5h1M441 101.5h1m5 0h1m20 0h2M444 102.5h1m6 0h1m14 0h1m5 0h1M439 103.5h2m2 0h3m4 0h3m16 0h1m2 0h1M441 104.5h4m25 0h5M433 105.5h1m7 0h4m26 0h2M428 106.5h2m4 0h1m3 0h1m3 0h1m1 0h1m30 0h1M433 107.5h1m7 0h1M429 109.5h3m50 0h1M428 110.5h1m51 0h4M429 111.5h1m3 0h1m47 0h2M418 112.5h1m3 0h1m6 0h3m40 0h1m4 0h1M417 113.5h3m52 0h1m9 0h1M416 114.5h1m9 0h1m48 0h2M415 115.5h1m9 0h2m48 0h1m3 0h1M411 116.5h1m14 0h1m47 0h3m2 0h1M411 117.5h1m2 0h2m4 0h1m2 0h1m50 0h4M403 118.5h1m16 0h1m56 0h1M397 119.5h1m6 0h1m70 0h1m3 0h1M414 120.5h2m55 0h3m3 0h2M405 121.5h1m8 0h2m57 0h2m6 0h1M409 122.5h2m2 0h1m59 0h2m6 0h1M401 123.5h1m6 0h1m3 0h4M400 124.5h1m8 0h1m1 0h1m59 0h1M400 125.5h1m10 0h1m59 0h2M469 126.5h1m1 0h2M408 127.5h1m60 0h1m1 0h2m1 0h1m1 0h1M475 128.5h2M470 129.5h2M393 130.5h1m10 0h1m64 0h3m5 0h1M398 131.5h1m4 0h1m65 0h2m1 0h2M392 132.5h2m76 0h1M384 134.5h1M388 135.5h1m4 0h1M470 136.5h1M382 137.5h2m5 0h1m1 0h2m3 0h1M382 138.5h1m7 0h1m70 0h1m9 0h1M374 139.5h1m14 0h3m69 0h1m13 0h1M381 140.5h1m78 0h1m1 0h1m1 0h1m1 0h1m8 0h1M380 141.5h1m8 0h1m74 0h1M379 142.5h1m2 0h1m3 0h1m77 0h1m5 0h1M381 143.5h1m85 0h1m2 0h1M380 144.5h1m78 0h1M380 145.5h1M369 146.5h1m9 0h3M371 147.5h1m7 0h1M367 148.5h1m2 0h3M367 149.5h1m6 0h1m80 0h2m3 0h1M367 150.5h1m4 0h2m81 0h1m6 0h1M369 151.5h1M457 152.5h1M365 153.5h1m1 0h2m1 0h1M367 154.5h1M449 155.5h1M368 157.5h3M363 158.5h1m1 0h1m3 0h2m80 0h1M363 159.5h1m83 0h5M446 160.5h3M368 161.5h1m77 0h1M353 162.5h1m10 0h1M452 163.5h1m3 0h2M361 164.5h2m93 0h1m1 0h1M362 165.5h1m1 0h1m1 0h1M364 166.5h3m76 0h2M359 167.5h1m5 0h1m77 0h1M446 168.5h1M355 169.5h1m9 0h1m78 0h1M362 170.5h1M358 171.5h2m3 0h1m78 0h2m3 0h1M352 172.5h1m4 0h1m5 0h1m76 0h4m4 0h1M353 173.5h1m4 0h1m81 0h2M362 174.5h1m76 0h1m2 0h2m7 0h1M358 175.5h1m80 0h1m1 0h1m3 0h1m5 0h1M444 176.5h1M440 177.5h1M440 178.5h2M360 179.5h2M360 181.5h1m76 0h1M356 182.5h1m76 0h1m2 0h2M352 183.5h2m80 0h2M351 184.5h2M351 185.5h1M351 186.5h1m1 0h2M351 187.5h1m5 0h2M355 188.5h1m1 0h2M354 189.5h1m1 0h3m71 0h1M355 190.5h1m2 0h1M359 191.5h1m73 0h1M350 192.5h1m5 0h1m73 0h2M348 193.5h1M349 194.5h1m2 0h1m78 0h1M351 195.5h2m70 0h3m1 0h1M352 196.5h1m6 0h1m63 0h2m1 0h1m3 0h1m7 0h1M428 197.5h2M349 198.5h1m75 0h1m2 0h2M360 199.5h1m67 0h2M357 200.5h1m2 0h1m57 0h1m8 0h1M352 201.5h1m4 0h1m62 0h1m14 0h1M352 202.5h1m64 0h1m9 0h1M417 203.5h1m3 0h1M356 204.5h1m1 0h1m59 0h1M359 205.5h2m50 0h1m6 0h1M355 206.5h1m5 0h1m46 0h1m2 0h1m3 0h1m2 0h1m3 0h1M408 207.5h2m2 0h1m2 0h2m3 0h2M361 208.5h1m48 0h1m1 0h1m6 0h1M357 209.5h1m45 0h4m14 0h1m3 0h1M357 210.5h1m4 0h1m38 0h1m2 0h3M357 211.5h1m2 0h1m1 0h1m37 0h2m2 0h1m3 0h1M364 212.5h1m31 0h2m3 0h2m1 0h1m3 0h1m6 0h1M357 213.5h1m5 0h1m27 0h3m7 0h1m14 0h1M357 214.5h1m1 0h1m27 0h1m3 0h1m8 0h1m14 0h1M356 215.5h2m21 0h2m2 0h1m3 0h2m2 0h1m7 0h1M357 216.5h1m6 0h1m6 0h1m2 0h1m3 0h1m3 0h1m9 0h2m7 0h1M357 217.5h1m20 0h1m5 0h2m2 0h1M386 218.5h1m8 0h1M364 219.5h1m11 0h1m11 0h1m1 0h1M376 220.5h2m10 0h1m1 0h1M376 221.5h1M360 222.5h1m16 0h1m8 0h1M360 223.5h1m28 0h1M369 224.5h1m6 0h1M378 225.5h1M381 226.5h1"/><path id="k7" d="M499 14.5h1M471 27.5h1M438 37.5h1M506 53.5h1M493 57.5h1M463 65.5h1M491 68.5h1M469 73.5h1M478 81.5h1M431 85.5h1M441 89.5h1m14 0h1M446 92.5h1m6 0h1M454 93.5h1m2 0h1M458 94.5h2M457 95.5h2m2 0h1m8 0h1m2 0h1M448 96.5h1m7 0h2M443 97.5h1m7 0h1m5 0h1M442 98.5h1m11 0h1m3 0h1m5 0h1m4 0h1m2 0h1M455 99.5h1m3 0h2m11 0h1M440 100.5h1m6 0h1m1 0h1m3 0h3m3 0h1m3 0h1m2 0h1m3 0h3M440 101.5h1m3 0h3m6 0h1m1 0h2m1 0h1m3 0h2m8 0h1M437 102.5h1m1 0h2m4 0h2m5 0h2m2 0h1m6 0h1m4 0h1m2 0h1M435 103.5h1m1 0h2m8 0h1m19 0h1m2 0h2m8 0h1M440 104.5h1m38 0h2M424 105.5h1m14 0h1m30 0h1m5 0h1m2 0h1m2 0h1M435 106.5h1m3 0h1m29 0h3m1 0h1m2 0h1M426 107.5h1m3 0h1m3 0h1m4 0h1m30 0h1m1 0h1m4 0h1M431 108.5h1m39 0h1m2 0h1M415 109.5h1m10 0h1m5 0h1m1 0h2m35 0h2m4 0h1M414 110.5h2m1 0h1m3 0h5m5 0h5m43 0h1M422 111.5h1m52 0h1M409 112.5h2m6 0h1m2 0h1m3 0h2m7 0h1m39 0h1M425 113.5h4M427 114.5h3M412 115.5h3m2 0h2m1 0h3m4 0h1m48 0h2M412 116.5h2m3 0h1m2 0h1m1 0h1m54 0h1M406 117.5h1m10 0h1m7 0h1M421 118.5h2m50 0h1m1 0h2m1 0h2M420 119.5h3M404 120.5h1m6 0h1m62 0h1M411 121.5h1m6 0h1m56 0h1M408 122.5h1m3 0h1m3 0h1m54 0h1M470 123.5h2M470 124.5h1M405 125.5h2m68 0h1m2 0h1M405 126.5h1m2 0h1m1 0h1m65 0h2M396 127.5h2m4 0h1m2 0h1m62 0h1m1 0h1M403 128.5h2m2 0h1m61 0h2m6 0h1M401 129.5h2m3 0h2m60 0h2M394 130.5h1m7 0h2M390 131.5h1m5 0h1m78 0h1m5 0h1M397 132.5h1m69 0h1m3 0h2m2 0h3m8 0h1M370 133.5h1m21 0h2m2 0h2m2 0h2m68 0h3M390 134.5h4m3 0h1m1 0h1m76 0h1M389 135.5h4m76 0h1m5 0h1M380 136.5h1m8 0h2m1 0h1m4 0h1m65 0h1m25 0h1M390 137.5h1m78 0h1M386 138.5h1m4 0h1m2 0h1m67 0h1m4 0h1M362 139.5h1m23 0h1m5 0h2m65 0h2m1 0h2m3 0h1M377 140.5h1m85 0h1M377 141.5h2m3 0h1m76 0h1M378 142.5h1m79 0h4M369 143.5h3m6 0h1m77 0h1m1 0h4M368 144.5h1m1 0h1m4 0h1m2 0h1m3 0h1m73 0h1m1 0h1m2 0h1M369 145.5h1m6 0h3m6 0h1m69 0h2m1 0h1m7 0h1M370 146.5h1m1 0h2m1 0h1m1 0h2m77 0h1m2 0h3m3 0h2M373 147.5h5m76 0h1M375 148.5h1m1 0h1m77 0h2M371 149.5h3m1 0h1m78 0h1m7 0h1M370 150.5h1m7 0h1m73 0h1m1 0h1m1 0h2M358 151.5h1m8 0h1m2 0h1m4 0h1m1 0h1m77 0h1m4 0h1M359 152.5h1m7 0h1m2 0h1M451 153.5h1m7 0h1M452 154.5h1m3 0h1m1 0h1M367 155.5h1m84 0h1m1 0h2M348 156.5h1m13 0h1m1 0h1m2 0h1m1 0h2m77 0h1M366 157.5h2m83 0h2M364 158.5h1m1 0h1m86 0h1m2 0h1m94 0h1M365 159.5h1m1 0h2m86 0h2M365 160.5h1m84 0h2M447 161.5h1m1 0h3M358 162.5h3m87 0h2m1 0h1M360 163.5h1m88 0h3M365 164.5h1m83 0h1M358 165.5h1m4 0h1m1 0h1m80 0h2M363 166.5h1M354 167.5h1m2 0h2m2 0h2m1 0h1M356 168.5h1m4 0h1m3 0h1m82 0h1M356 169.5h1m5 0h3M355 170.5h1m5 0h1m1 0h2m78 0h2M362 171.5h1m1 0h1m87 0h1m4 0h1M355 172.5h1m4 0h3M359 173.5h2m84 0h1M357 174.5h2m85 0h1m5 0h1m1 0h1M356 175.5h2m90 0h1M355 176.5h5m87 0h2M359 177.5h2m76 0h1m1 0h1m1 0h1m6 0h1M357 178.5h1m79 0h1M354 179.5h2m3 0h1m77 0h2m1 0h1M356 180.5h2m2 0h1m77 0h3m5 0h1M357 181.5h3m76 0h1m3 0h1M357 182.5h4m78 0h1M355 183.5h2m76 0h1m2 0h1m1 0h2M353 184.5h1m1 0h4m76 0h5m2 0h1M352 185.5h1m2 0h1m79 0h5M348 186.5h1m86 0h2M355 187.5h1m84 0h1M432 188.5h5M429 189.5h1m1 0h2m1 0h1m2 0h3m6 0h2M357 190.5h1m71 0h1m10 0h1M349 191.5h1m6 0h1M359 193.5h2m65 0h1m6 0h1M344 194.5h1m9 0h1m4 0h1m64 0h3M359 195.5h1m66 0h1m3 0h3m3 0h1M344 196.5h1m77 0h1m12 0h1M422 197.5h3m1 0h1M360 198.5h1m60 0h2m1 0h1m1 0h2M352 199.5h1m67 0h3m1 0h1m1 0h2M356 200.5h1m1 0h1m60 0h3m6 0h1M360 201.5h2m61 0h3m1 0h2M354 202.5h3m58 0h2m1 0h1m6 0h2M358 203.5h1m56 0h2m6 0h2M360 204.5h2m50 0h1m4 0h1M361 205.5h2m47 0h1m4 0h1M360 206.5h1m51 0h2m2 0h1M358 207.5h2m1 0h1m51 0h1M359 208.5h1m47 0h1m3 0h1m5 0h1m4 0h2M351 209.5h1m2 0h1m9 0h2m41 0h1M349 210.5h1m1 0h1m13 0h1m37 0h1M356 211.5h1m7 0h1m38 0h1m11 0h1M360 212.5h2m50 0h1M356 213.5h1m4 0h1m2 0h2m29 0h1m10 0h1M354 214.5h1m37 0h2m8 0h4M371 215.5h1m4 0h1m4 0h2m3 0h1m6 0h2m3 0h1m5 0h3M375 216.5h3m1 0h1m7 0h1M365 217.5h1m5 0h2m2 0h3M365 218.5h1m4 0h7m14 0h1m4 0h1M369 219.5h4m11 0h1m11 0h1m3 0h1m4 0h1m26 0h1M363 220.5h1m6 0h1m1 0h1m8 0h1m1 0h1m11 0h1m1 0h1m2 0h1M389 221.5h1m5 0h3M379 222.5h2m8 0h1m6 0h1M379 223.5h1m4 0h1m10 0h1M375 224.5h1M420 225.5h1M360 226.5h1M362 227.5h1m48 0h1M413 229.5h1"/><path id="k8" d="M468 52.5h1M451 54.5h1M410 70.5h1M423 77.5h1M481 83.5h1M439 87.5h1M468 88.5h1M459 89.5h1M452 94.5h1M456 95.5h1M438 96.5h2m5 0h1m5 0h1m3 0h1M442 97.5h1m11 0h2m16 0h1M440 98.5h1m15 0h1M446 99.5h1m17 0h1m3 0h3m3 0h1M442 100.5h1m2 0h2m28 0h2M424 101.5h1m25 0h1m3 0h1m9 0h4m7 0h2M441 102.5h1m36 0h1M404 104.5h1M428 105.5h1m5 0h1m2 0h1M427 106.5h1m8 0h2m39 0h1M415 107.5h2m20 0h1m38 0h1m2 0h1M416 108.5h1m9 0h1m57 0h1M425 109.5h1m1 0h1m8 0h2m43 0h1M429 110.5h1M417 111.5h1m9 0h1m44 0h2M474 112.5h2M416 113.5h1m5 0h2m6 0h1m43 0h1m1 0h2M411 114.5h1m12 0h1m47 0h2m3 0h1m2 0h2M416 115.5h1m6 0h1m48 0h3M414 116.5h3m6 0h1m49 0h1M416 117.5h1m56 0h1M408 118.5h1m3 0h3m3 0h1M407 119.5h2m3 0h3m2 0h2m64 0h1M403 120.5h1m3 0h1m10 0h1m57 0h1M407 121.5h1m64 0h1m5 0h1M407 122.5h1m64 0h1m5 0h1M472 123.5h2M403 124.5h2m5 0h1m1 0h1m59 0h1M363 125.5h1m40 0h1m2 0h1m4 0h1m56 0h1M407 126.5h1m70 0h1m19 0h1M404 127.5h1M392 128.5h1m7 0h1m67 0h1m5 0h1M375 129.5h1m24 0h1m3 0h1m67 0h1m1 0h1M359 130.5h1m29 0h1m5 0h1m5 0h1m71 0h2M471 131.5h1M395 132.5h1m70 0h1M387 133.5h1m7 0h1M467 134.5h1M394 135.5h1m1 0h1m66 0h1M386 136.5h1m8 0h2M384 137.5h1m1 0h1m6 0h1m72 0h1M378 138.5h2m4 0h1m2 0h2M378 139.5h1m5 0h1m2 0h1M373 140.5h1m10 0h2m1 0h1m3 0h1m76 0h1m5 0h1M374 141.5h1m9 0h1m1 0h2m74 0h1M381 142.5h1M464 144.5h1M457 145.5h1M490 146.5h1M370 147.5h1m1 0h1m87 0h1m2 0h1M365 148.5h1m94 0h1M451 151.5h1m5 0h1m3 0h1M456 152.5h1M374 153.5h1M366 154.5h1m1 0h3m90 0h2M453 155.5h1m11 0h1M366 156.5h1m4 0h1m75 0h1m3 0h1m13 0h1M371 157.5h1m75 0h2m4 0h1M447 158.5h1m2 0h1m1 0h1M362 159.5h1m90 0h1m75 0h1M364 160.5h1M363 161.5h1m2 0h1m78 0h1M366 162.5h2m78 0h2M446 163.5h2M349 164.5h1m7 0h1m94 0h1M444 165.5h1m6 0h1M451 166.5h3M444 167.5h1m2 0h1M355 168.5h1m87 0h1m3 0h1m2 0h1M442 169.5h2m7 0h1M358 170.5h2M354 172.5h1m89 0h1m8 0h1M444 173.5h1M355 175.5h1M350 176.5h1m1 0h1m88 0h2M350 177.5h1m4 0h1m87 0h1m1 0h1M361 178.5h1m80 0h1m1 0h1M356 179.5h2M444 180.5h1m2 0h1M355 181.5h1m82 0h1m2 0h1m6 0h1M345 182.5h1m89 0h1m4 0h1M359 183.5h1M354 184.5h1m4 0h1m72 0h1M356 185.5h3M358 186.5h2m74 0h1m2 0h1M434 187.5h3M450 189.5h1M428 190.5h1m1 0h1m1 0h1m2 0h1M351 191.5h1m3 0h1m1 0h1m71 0h2M349 192.5h1m5 0h1m1 0h2m69 0h2m11 0h1m17 0h1M352 193.5h2m1 0h2M355 194.5h1m77 0h1M354 195.5h1m3 0h1M346 196.5h1m11 0h1m66 0h1m1 0h2M358 197.5h2m65 0h1M358 198.5h1m72 0h1m4 0h1M358 199.5h2M352 200.5h1m1 0h1m4 0h1M353 201.5h1m1 0h1m62 0h1m3 0h1m7 0h1M353 202.5h1m6 0h1m58 0h1m2 0h1m8 0h1M354 203.5h1m1 0h2m60 0h1M355 204.5h1m1 0h1m61 0h1M416 205.5h2M359 206.5h1m57 0h1M360 207.5h1m56 0h1m7 0h1M364 208.5h1m39 0h1m4 0h1m16 0h1M363 209.5h1m47 0h1m4 0h1m1 0h2M408 210.5h1m13 0h1M409 211.5h3M367 212.5h1m32 0h1m4 0h1M359 213.5h1m10 0h1m27 0h1m1 0h1m1 0h2M360 214.5h2m5 0h1m2 0h2m1 0h2m13 0h1m6 0h1m5 0h1m10 0h1M360 215.5h1m8 0h1m15 0h1m9 0h1m5 0h1m1 0h1m4 0h1m2 0h1M372 216.5h1m12 0h1m18 0h1m7 0h1M364 217.5h1m1 0h1m6 0h1m18 0h1m3 0h1m26 0h1m56 0h1M352 218.5h1m2 0h1m7 0h1m4 0h1m18 0h1M354 219.5h1m10 0h1m35 0h1M373 220.5h2m3 0h1m7 0h1M369 221.5h2m1 0h3m5 0h1m7 0h1M388 222.5h1M387 223.5h1m28 0h1M374 224.5h1m7 0h1"/></defs>
<g transform="scale(1.35)" fill="none">
<g filter="url(#bl)" opacity="0.85" stroke-width="1.25" stroke-linecap="square"><use href="#k8" stroke="#a8a8a8"/><use href="#k7" stroke="#595959"/><use href="#k6" stroke="#000"/></g>
<g opacity="0.6" stroke-width="1"><use href="#k8" stroke="#a8a8a8"/><use href="#k7" stroke="#595959"/><use href="#k6" stroke="#000"/></g>
</g>
<path d="M488 268l-0.6 -3.5l-0.4 -3.5l-0.1 -3.5l0.2 -3.5l0.5 -3.5l0.8 -3.4l0.9 -3.4l1.1 -3.4l1.1 -3.4l1.2 -3.3l1.2 -3.3l1.2 -3.3l1.4 -3.2l1.5 -3.2l1.7 -3.1l1.9 -3l2.1 -2.8l2.3 -2.6l2.5 -2.5l2.7 -2.3l2.7 -2.2l2.8 -2.2l2.9 -2l2.9 -2.1l2.9 -2l2.8 -2l2.9 -2l2.9 -2l2.9 -2l2.9 -2l2.9 -2.1l2.8 -2l2.9 -2l2.9 -2l2.9 -2l2.9 -2l2.8 -2.1l2.9 -2l2.8 -2.1l2.9 -2l2.9 -2.1l2.9 -1.9l2.9 -2l3 -1.9l3 -1.8l3 -1.8l3.1 -1.7l3.1 -1.7l3.1 -1.6l3.2 -1.5l3.2 -1.5l3.2 -1.4l3.3 -1.3l3.3 -1l3.4 -0.9l3.6 -0.7l3.6 -0.2l3.5 0.4l3.3 1.1l3 1.9l2.4 2.7l1.9 3l1.1 3.4l0.5 3.5l-0.2 3.6l-0.7 3.4l-1.2 3.4l-1.5 3.2l-1.6 3.2l-1.7 3l-1.8 3l-2 2.9l-2 2.9l-2.1 2.8l-2.1 2.8l-2.1 2.9l-2.1 2.8l-2.1 2.8l-2 2.9l-2 2.9l-1.9 3l-1.9 2.9l-1.8 3.1l-1.7 3l-1.6 3.2l-1.4 3.2l-1.5 3.2l-1.4 3.2l-1.6 3.2l-1.6 3.1l-1.7 3l-1.9 3.1l-1.9 2.9l-1.9 2.9l-2.1 2.9l-2.1 2.8l-2.2 2.8l-2.2 2.7l-2.3 2.6l-2.4 2.6l-2.5 2.5l-2.6 2.4l-2.7 2.3l-2.8 2.2l-2.8 2l-2.9 2l-3.1 1.8l-3 1.7l-3.2 1.5l-3.2 1.5l-3.2 1.4l-3.3 1.4l-3.3 1.2l-3.3 1.1l-3.4 1l-3.4 0.8l-3.5 0.7l-3.5 0.4l-3.5 0.2l-3.6 0l-3.5 -0.3l-3.5 -0.7l-3.3 -1.2l-3 -1.8l-2.6 -2.5l-2.2 -2.8l-1.8 -3.1l-1.3 -3.2l-1 -3.4z" fill="#fff"/>
<path d="M497.5 279l-1.5 -0.5l-1 -1l-0.5 -1.5l-0.5 -1.5l-1 -1l0 -2l-1 -1l0 -2l0 -2l-0.5 -1.5l-0.5 -1.5l0 -2l1 -1l-1 -1l0 -2l0 -2l1 -1l0 -2l0 -2l0.5 -1.5l0.5 -1.5l1 -1l0.5 -1.5l0.5 -1.5l0 -2l1 -1l0 -2l1 -1l0 -2l0.5 -1.5l1 -1l1 -1l1 1l1 1l1 1l0.5 1.5l-1 1l-1 1l-0.5 1.5l-0.5 1.5l0 2l0 2l-0.5 1.5l-0.5 1.5l-1 1l-1 1l-0.5 1.5l-0.5 1.5l0 2l-0.5 1.5l-0.5 1.5l1 1l0 2l-1 1l0.5 1.5l0.5 1.5l0 2l0 2l0 2l1 1l0.5 1.5l0.5 1.5l1 1l-0.5 1.5z" fill="#b8b8b8"/>
<path d="M503.5 280l-1.5 -0.5l-1 -1l-1 -1l-1 -1l-1 -1l-0.5 -1.5l-0.5 -1.5l-1 -1l0 -2l0 -2l0 -2l-0.5 -1.5l-0.5 -1.5l1 -1l0 -2l-1 -1l0.5 -1.5l0.5 -1.5l0 -2l0.5 -1.5l0.5 -1.5l1 -1l1 -1l0.5 -1.5l0.5 -1.5l0 -2l1 -1l1 0l1 1l1 1l1 1l1 1l1 1l1 1l-0.5 1.5l-1 1l-1 1l-0.5 1.5l-1 1l0 2l-1 1l0 2l-0.5 1.5l-0.5 1.5l0 2l0 2l1 1l0 2l1 1l0.5 1.5l0.5 1.5l1 1l1 1l-0.5 1.5l-1 1l-1 1z" fill="#858585"/>
<path d="M506.5 274l-1 -1l-1 -1l-0.5 -1.5l-1 -1l0 -2l-1 -1l0 -2l0 -2l0.5 -1.5l0.5 -1.5l0 -2l1 -1l0.5 -1.5l1 -1l1 1l1 1l1 1l0.5 1.5l-1 1l0 2l0 2l0 2l0 2l0 2l1 1l-0.5 1.5l-1 1z" fill="#2a2a2a"/>
<path d="M550.5 263l-1 -1l-0.5 -1.5l0.5 -1.5l1 -1l1.5 -0.5l1.5 -0.5l2 0l1 -1l1 -1l1 -1l1 -1l0.5 -1.5l1 -1l1 -1l1.5 -0.5l0.5 -1.5l1 -1l0.5 -1.5l1 -1l0.5 -1.5l1 -1l0.5 -1.5l0.5 -1.5l0 -2l0.5 -1.5l0.5 -1.5l1 -1l1 -1l1.5 -0.5l1 -1l1.5 -0.5l1 -1l1 -1l1 -1l1 -1l0 -2l1 -1l0.5 -1.5l0.5 -1.5l1 -1l1 0l1 1l-0.5 1.5l-0.5 1.5l-1 1l-0.5 1.5l-0.5 1.5l-1 1l-0.5 1.5l-0.5 1.5l-1 1l-1 1l-1 1l-1 1l-0.5 1.5l-0.5 1.5l-1 1l-0.5 1.5l-0.5 1.5l-1 1l-0.5 1.5l-0.5 1.5l-1 1l-0.5 1.5l-0.5 1.5l-0.5 1.5l-1 1l-1 1l-1 1l-1.5 0.5l-1.5 0.5l-0.5 1.5l-1 1l-1.5 0.5l-1 1l-2 0l-1 1l-2 0l-1 1l-1 1z" fill="#a8a8a8"/>
<path d="M548.5 271l-1.5 -0.5l-1 -1l1 -1l1 -1l1 -1l1 0l1 1l-0.5 1.5l-1 1z" fill="#a8a8a8"/>
<path d="M488 268l-0.6 -3.5l-0.4 -3.5l-0.1 -3.5l0.2 -3.5l0.5 -3.5l0.8 -3.4l0.9 -3.4l1.1 -3.4l1.1 -3.4l1.2 -3.3l1.2 -3.3l1.2 -3.3l1.4 -3.2l1.5 -3.2l1.7 -3.1l1.9 -3l2.1 -2.8l2.3 -2.6l2.5 -2.5l2.7 -2.3l2.7 -2.2l2.8 -2.2l2.9 -2l2.9 -2.1l2.9 -2l2.8 -2l2.9 -2l2.9 -2l2.9 -2l2.9 -2l2.9 -2.1l2.8 -2l2.9 -2l2.9 -2l2.9 -2l2.9 -2l2.8 -2.1l2.9 -2l2.8 -2.1l2.9 -2l2.9 -2.1l2.9 -1.9l2.9 -2l3 -1.9l3 -1.8l3 -1.8l3.1 -1.7l3.1 -1.7l3.1 -1.6l3.2 -1.5l3.2 -1.5l3.2 -1.4l3.3 -1.3l3.3 -1l3.4 -0.9l3.6 -0.7l3.6 -0.2l3.5 0.4l3.3 1.1l3 1.9l2.4 2.7l1.9 3l1.1 3.4l0.5 3.5l-0.2 3.6l-0.7 3.4l-1.2 3.4l-1.5 3.2l-1.6 3.2l-1.7 3l-1.8 3l-2 2.9l-2 2.9l-2.1 2.8l-2.1 2.8l-2.1 2.9l-2.1 2.8l-2.1 2.8l-2 2.9l-2 2.9l-1.9 3l-1.9 2.9l-1.8 3.1l-1.7 3l-1.6 3.2l-1.4 3.2l-1.5 3.2l-1.4 3.2l-1.6 3.2l-1.6 3.1l-1.7 3l-1.9 3.1l-1.9 2.9l-1.9 2.9l-2.1 2.9l-2.1 2.8l-2.2 2.8l-2.2 2.7l-2.3 2.6l-2.4 2.6l-2.5 2.5l-2.6 2.4l-2.7 2.3l-2.8 2.2l-2.8 2l-2.9 2l-3.1 1.8l-3 1.7l-3.2 1.5l-3.2 1.5l-3.2 1.4l-3.3 1.4l-3.3 1.2l-3.3 1.1l-3.4 1l-3.4 0.8l-3.5 0.7l-3.5 0.4l-3.5 0.2l-3.6 0l-3.5 -0.3l-3.5 -0.7l-3.3 -1.2l-3 -1.8l-2.6 -2.5l-2.2 -2.8l-1.8 -3.1l-1.3 -3.2l-1 -3.4zM518.5 288.6l-2 0.3l-2 0l-2 0l-2 0l-2 -0.2l-1 -0.5l-2 -0.3l-1.4 -0.4l-1.6 -0.6l-1.2 -0.4l-1.4 -1l-1.4 -0.8l-1 -0.7l-1 -0.9l-1 -1l-1 -1.2l-0.8 -1.4l-0.5 -1l-0.5 -2l-0.6 -1l-0.6 -1.4l-0.5 -1.6l-0.5 -1.4l-0.5 -1.6l0 -2l-0.5 -1.6l-0.4 -1.4l0 -2l0 -2l-0.5 -2l-0.2 -1l0.3 -1l0.7 -2l0.1 -1.5l0.1 -1.5l0.4 -2l0.5 -1.1l0.7 -1.9l0.4 -1l0.5 -2l0.4 -1.2l0.7 -1.8l0.4 -1l0.9 -1.7l0.5 -1.3l0.5 -1.3l0.5 -1.7l0.5 -1l1 -2l0.5 -1l0.5 -1.4l0.7 -1.6l0.5 -1l0.9 -1l0.9 -1.4l0.6 -1.6l0.4 -1.1l0.9 -1.9l0.5 -1l0.8 -1l1 -1l0.8 -1.4l1 -1.4l1 -0.9l1 -1l1 -0.9l1 -0.9l1 -0.5l1.3 -1l0.9 -1l1 -1l1 -1l1 -1l1.6 -1l1.2 -0.8l1 -0.7l1 -0.5l1.3 -1l1.2 -1l1.5 -0.9l1 -0.6l2 -0.4l1 -0.4l2 -0.6l1 -0.6l1 -0.6l1.4 -0.9l1.3 -1l0.7 -1l0.7 -1l0.9 -1l1 -1.5l1 -0.9l1 -0.6l1.4 -1l1.6 -1l1 -0.6l1 -0.6l2 -0.4l1 -0.4l1 -2l1 -0.5l1 -1.1l1 -0.9l1 -0.6l1.2 -0.9l1.3 -1l1.5 -1l1 -1l1 -0.9l1 -0.6l1 -0.6l1.3 -0.9l1.7 -0.9l1 -0.5l1 0.9l2 0.2l1.4 -0.7l1.1 -1l0.9 -1l0.6 -1l0 -1.3l-1.1 -0.7l1.1 -0.7l1 -0.7l1 -1l1 -0.7l1.4 -0.9l1.2 -1l1.4 -0.8l1 -0.8l1 -0.7l1.2 -0.7l1.3 -1l1.5 -0.5l1.1 -0.5l1.9 -1l1 -0.8l1 -0.7l1 -0.5l1.2 -1l1.8 -0.9l1 -0.4l2 -0.6l1 -0.5l1 -0.6l1.5 -1l1.5 -0.3l2 -0.6l1 -0.8l1 -0.4l2 -0.4l1.4 -0.5l1.6 -0.5l1.8 -0.5l1.2 -0.1l2 -0.4l2 -0.5l1 0l1 0l2 0.6l1 0.5l2 0.2l1.2 0.7l1.1 1l0.9 1l0.8 1.1l1 1.5l1 1.3l0.5 1.1l0.5 2l0 1.5l0 1.5l0 2l0 1.6l-0.6 1.4l-0.4 1.3l-0.8 1.7l-0.2 1.2l-0.7 1.8l-0.6 1l-0.8 1l-0.9 1.8l-0.5 1.2l-0.5 1.5l-1 1.4l-0.6 1.1l-0.6 1l-0.8 1l-1 1.7l-1 1.2l-0.7 1.1l-0.6 1l-1 1l-0.9 1l-0.8 1.4l-1 1.3l-1 1l-1 0.9l-1 1l-1 1l-0.8 1.4l-0.8 1l-0.8 1l-0.6 1.1l-1 1.2l-1 1.4l-0.9 1.3l-0.9 1l-0.6 1l-0.7 1l-1.1 1l-1.8 0.7l-1.3 0.3l-1.7 0.9l-1 0.9l-0.9 1.2l-0.6 1l-0.5 1.7l-0.2 1.3l-0.1 2l0.2 2l0.2 1l-0.1 1.6l-0.6 1.4l-0.6 1l-0.6 2l-0.4 1l-0.8 1.3l-1 0.9l-2 0.4l-1 1.3l-0.5 1.1l-0.7 1l-1 1l-1.1 1l-0.7 1l-0.8 2l-0.4 1l-0.6 2l-0.6 1l-0.7 1l-0.9 1.1l-1 1.2l-1 1.6l-0.6 1.1l-0.5 1l-0.6 2l-0.3 1l-1 1.1l-0.7 1.9l-0.3 1l-1 1.2l-1 1.6l-0.9 1.2l-1.1 1l-1 0.9l-1 0.9l-1 1.1l-0.9 1.1l-0.9 1l-0.9 1l-0.9 1l-1.4 0.9l-1 0.7l-1 0.9l-2 -0.1l-2 0.2l-1 0.8l-0.3 1.6l-0.6 2l-1.1 0.9l-1 0.7l-1 0.8l-1 0.7l-1.4 0.9l-1.3 1l-1.3 0.8l-1 0.4l-2 0.8l-1 0.6l-1 0.6l-1 0.9l-2 0.8l-1 0.5l-1.1 0.6l-1.9 0.8l-1 0.3l-2 0.8l-1 0.2l-2 0.7l-1 0.3l-2 0.8l-1 0.3l-2 0.4l-1 0.4l-2 0.3l-2 0.4zM514.5 286.5l-2 0.1l-2 0l-1 -0.2l-2 -0.9l-1.4 0l-1.6 -1l-1 -0.3l-2 -0.7l-1 -0.6l-1 -0.4l-1.4 -1l-1 -1l-0.9 -1l-0.7 -1.1l-0.8 -1.9l-0.3 -1l-0.9 -1.9l-0.5 -1.1l-0.5 -1.9l-0.3 -1.1l-0.1 -2l-0.4 -2l-0.3 -1l0 -2l0.1 -1.1l0 -1.3l-0.3 -1.6l-0.1 -2l0.4 -1.5l0.2 -1.5l0.1 -2l0.6 -2l0.4 -1l0.7 -1.3l0.8 -1.7l0.3 -1l0.6 -2l0.3 -1.5l0.5 -1.5l0.5 -1.7l0.4 -1.3l0.5 -2l0.4 -1l0.7 -1.3l1 -1.2l1 -1.1l1 -1.2l0.9 -1.2l1 -1l1.1 -1l1 -1l0.8 -1l0.6 -1l0.6 -1l1 -1.5l1 -0.9l1 -0.8l1 -1.3l1 -1.3l0.9 -1.2l0.7 -1l1 -1l0.9 -1l0.7 -1l0.8 -1.4l0.9 -1.6l0.7 -1l1.4 -0.9l1 -0.3l1.8 -0.8l1.2 -0.5l1.1 -0.5l1.6 -1l1.3 -0.5l1.8 -0.5l1.2 -0.5l1 -0.5l1.3 -1l1.3 -1l1.4 -0.9l1 -0.7l1 -0.5l1.2 -0.9l0.8 -1.1l1 -1.9l0.5 -1l0.6 -1l0.9 -1.2l1 -1l1.1 -0.8l1.9 -0.8l1 -0.3l2 -0.7l1 -0.3l2 -0.9l1 -0.7l1 -0.9l1 -1.2l1 -1l0.9 -1.2l0.7 -1l0.7 -1l0.7 -1l1 -1.3l1 -1l1.7 -0.7l1.3 -0.3l1.6 0.3l1.4 0.2l1.3 -0.2l1.7 -0.5l1 -0.5l1.3 -1l1 -1l0.9 -1l0.8 -1.3l1 -1.5l1 -1.2l1 -1l1 -0.8l1 -0.8l1 -0.7l1.1 -0.7l1.4 -1l1.5 -0.9l1 -0.8l1 -0.6l1 -0.7l1.3 -1l1.6 -1l1.1 -0.7l1.1 -0.3l1.9 -0.4l2 -0.2l2 -0.2l1 -0.4l1.1 -0.8l1 -1l1 -1l1.8 -1l1.1 -0.6l1 -0.6l1.2 -0.8l1.7 -1l1.1 -0.8l1 -0.7l1.1 -0.5l1.9 -0.3l2 -0.2l2 -0.1l2 0.6l1 0.6l1 0.6l1.4 0.8l1.4 1l1.2 1l1 0.9l1 1l0.7 1.1l0.1 2l-0.4 2l-0.4 1.9l-0.2 1.1l-0.6 2l-0.2 1l-0.2 2l-0.4 2l-0.5 1l-0.9 1.7l-0.9 1.3l-0.7 1l-0.7 1l-0.8 1l-0.9 1.2l-1 1l-1 1l-1 0.9l-1.2 0.9l-1.3 1l-1.4 1l-1.1 0.8l-1 1.2l-0.6 1l-0.5 1l-0.8 2l-0.3 1l-0.7 2l-0.4 1l-0.7 1.3l-1 1.4l-0.9 1.3l-0.9 1l-0.8 1l-0.8 1l-0.9 1l-0.9 1l-0.9 1l-1.6 1l-1.3 0.7l-1 0.5l-1.2 0.8l-1.2 1l-0.9 1l-0.7 1l-1 2l-0.2 1l-0.3 2l-0.5 1.8l-0.4 1.2l-0.5 2l-0.3 1l-0.8 1.5l-0.8 1.5l-0.7 1l-1.5 1l-1 0.6l-1 0.9l-1 1.4l-0.4 1.1l-0.6 1.6l-0.6 1.4l-0.5 1l-0.7 2l-0.3 1l-0.2 2l-0.5 2l-0.5 1l-0.7 1l-1 1l-1 1.2l-1 1.2l-1 1.2l-1 1.2l-1 1.2l-0.8 1l-0.6 1l-0.6 1.4l-0.5 1.6l-0.5 1.8l-0.5 1.2l-0.8 1l-1 1l-1.3 1l-1.4 0.9l-1 0.8l-1 0.9l-1 1.1l-1 0.9l-1 0.7l-2 0.7l-1 0.1l-2 0l-2 0.8l-0.7 1.1l-0.3 2l0 1.2l-0.2 1.8l-0.8 1.8l-1 0.9l-1 0.5l-1.8 0.8l-1.2 0.6l-1 0.5l-1.6 0.9l-1.2 1l-1.2 0.8l-1 0.7l-1 0.6l-2 0.4l-1.3 0.5l-1.7 0.9l-1 0.5l-1 0.6l-2 0.7l-1 0.4l-2 0.8l-1 0.4l-2 0.6l-1 0.1l-2 0.7l-2 0.1l-2 0l-1 0.6l-2 0.6zM517.5 283.6l-2 0.5l-2 0.2l-2 0.2l-2 -0.3l-2 -0.5l-1 -0.3l-2 -0.8l-1 -0.5l-1.1 -0.6l-1.9 -1l-1 -0.6l-1 -0.7l-1 -0.8l-1 -1.6l-0.6 -1.3l-0.4 -1l-1 -2l-0.2 -1l-0.4 -2l0 -2l-0.1 -2l-0.3 -2l0.2 -2l0 -2l-0.2 -1l-0.1 -2l0.1 -1l0.1 -2l0.3 -2l0.6 -1.3l1 -1.6l0.7 -1.1l0.6 -1l0.4 -2l0.3 -2l0.1 -1l0.6 -2l0.3 -1l0.7 -2l0.5 -1l0.8 -1.2l1 -1.1l1 -0.9l1 -1l1 -1.4l1 -1.3l1 -0.9l1 -0.8l1 -0.9l1 -1l1 -1.2l1 -1.1l1 -1.1l1 -1.1l0.6 -1l0.6 -1l0.8 -1.2l1 -1.4l1 -1l1 -0.8l1 -0.8l1.1 -0.8l1.6 -1l1.3 -0.8l1 -0.6l1 -0.6l1.2 -1l1.1 -1l1.1 -1l1.3 -1l1.3 -0.6l1 -0.5l1.5 -0.9l1.5 -1l1 -0.6l1 -0.4l2 -0.8l1 -0.3l2 -0.8l1 -0.9l0.8 -1.2l0.3 -1l0.4 -2l0.4 -2l0.4 -1l0.7 -1.1l1 -1l2 -0.9l1 -0.3l2 -0.5l1 -0.2l2 -0.5l1.4 -0.5l1.6 -0.9l1 -0.7l1 -0.8l1 -1.1l1 -1.2l0.9 -1.3l0.7 -1l1.1 -1l1.3 -0.3l2 -0.5l1 -0.4l1.6 -0.8l1.4 -0.9l1 -0.6l1 -0.7l1 -0.8l1.1 -1l0.9 -1l1 -1.4l1 -1.3l1 -1.1l1 -0.7l1.6 -0.5l1.4 -0.3l2 -0.3l1 -0.4l1.6 -1l1.3 -1l1.1 -0.9l1 -1l1 -1l1 -0.7l1 -0.8l1.2 -0.6l1.8 -0.9l1 -0.4l2 -0.5l1 -0.3l1.8 -0.9l1.2 -1l1 -0.9l1 -0.7l1 -0.7l1 -0.7l1.4 -1l1.6 -1l1 -0.9l1 -0.9l1 -0.8l1 -0.5l2 0l1 0.1l2 0.3l1.4 0.7l1.6 1l1 0.6l1 1l1 1l1 1.3l0.3 1.1l-0.2 2l-0.1 1l-0.4 2l-0.5 2l-0.3 1l-0.4 2l-0.4 1l-1 1.8l-0.9 1.2l-0.8 1l-0.9 1l-1 1l-1.1 1l-1 1l-0.9 1l-0.7 1l-0.9 1l-0.9 1l-1 1l-1.2 1l-1 1l-0.8 1l-0.9 1.3l-1 1.7l-0.4 1l-0.6 1.4l-0.6 1.6l-0.4 1l-1 1.9l-0.7 1.1l-0.6 1l-0.9 1l-0.9 1l-1.1 1l-1.3 1l-1.5 1l-1 0.4l-1.3 0.6l-1.5 1l-1.2 1l-1 1l-0.9 1l-0.7 1l-0.7 1l-0.7 1.2l-0.8 1.8l-0.7 1l-1 1l-1.1 1l-0.9 1l-0.5 1l-0.3 2l0 2l-0.2 2l-0.5 1l-1 1.4l-1 1.6l-0.4 1l-0.6 1.6l-0.5 1.4l-0.6 1l-0.9 1.6l-0.9 1.4l-0.7 1l-0.8 1l-0.9 1l-0.8 1l-0.9 1.2l-0.9 1.8l-0.3 1l-0.8 1.8l-0.5 1.2l-0.5 1l-1 1.5l-0.9 1.5l-0.5 1l-0.6 1.3l-0.5 1.7l-0.5 1.7l-0.9 1.3l-1.1 0.8l-1 0.5l-1.6 0.7l-1.4 0.9l-0.9 1.1l-0.9 1l-1.2 0.9l-1 0.5l-2 0.6l-1 0.1l-2 0.4l-1 0.6l-1 1.3l-0.4 1.6l-0.1 2l-0.1 2l-0.4 1.2l-1 1.3l-1 0.7l-1.3 0.8l-1.7 0.8l-1 0.4l-1.6 0.8l-1.4 0.8l-1 0.5l-2 0.5l-1 0.2l-2 0.9l-1 0.6l-1 0.7l-1 0.8l-1.6 1l-1.4 0.8l-1 0.6l-1.5 0.6l-1.5 0.5l-2 0.4l-1 0.3l-2 0.3l-2 0.3zM515.5 282.5l-2 0.3l-2 0.1l-2 -0.2l-1 -0.3l-2 -0.5l-1 -0.4l-1.7 -1l-1.3 -0.8l-1 -0.6l-1 -0.7l-1.1 -0.9l-0.9 -1.3l-0.9 -1.7l-0.5 -1l-0.6 -1.5l-0.3 -1.5l-0.3 -2l0 -2l-0.3 -2l-0.1 -1l0 -2l0.1 -1l-0.1 -1.7l-0.1 -1.3l0.1 -1l0.4 -2l0.3 -2l0.4 -1l0.9 -1.4l1 -1.4l0.7 -1.2l0.3 -1l0.3 -2l0.1 -2l0.5 -2l0.5 -1l0.6 -1.3l1 -1.4l1 -1.2l0.9 -1.1l0.8 -1l0.8 -1l0.6 -1l0.9 -1.2l1 -1l1.1 -0.8l1.3 -1l1 -1l0.9 -1l0.8 -1l1 -1l1.1 -1l0.9 -1l0.9 -1.1l1.1 -0.9l1.9 -0.6l2 -0.3l1 -0.6l1 -1.1l0.8 -1.4l0.7 -1l1.1 -1l1.3 -1l1.1 -0.8l1 -0.8l1 -1.1l1 -1.1l1 -0.9l1 -0.8l1 -0.7l1.2 -0.8l1.8 -0.9l1 -0.3l2 -0.5l1.6 -0.3l1.4 -0.3l1.3 -0.7l0.8 -1l0.9 -2l0.2 -1l0.4 -2l0.4 -1.6l0.5 -1.4l0.5 -1l1.1 -1l1.9 -0.8l2 -0.2l0 0l2 0.2l2 -0.1l1 -0.3l1.5 -0.8l1.4 -1l1.1 -1l1 -1l0.9 -1l0.9 -1l0.8 -1l1 -1l1.3 -1l1.1 -0.7l1 -0.7l1 -0.6l1.4 -1l1.3 -1l1.2 -1l1.1 -1l1 -0.9l1 -0.8l1 -0.9l1 -0.7l1.3 -0.7l1.7 -0.6l1.9 -0.4l1.1 -0.4l1.4 -0.6l1.5 -1l1.1 -0.9l1 -0.8l1 -0.8l1 -1.1l1 -1l1 -1.2l1 -1.1l1 -0.9l1 -0.7l1 -0.6l2 -0.5l1.9 -0.4l1.1 -0.3l2 -0.6l1 -0.3l2 -0.7l1 -0.7l1 -1l1 -0.9l1 -1.2l1 -1.2l1 -1l1 -0.6l2 -0.2l2 0.3l1 0.4l1.4 1l0.8 1l0.8 1.2l0.3 1.8l0 2l-0.3 1l-0.7 2l-0.3 1l-1 1.7l-1 1.3l-0.8 1l-0.9 1l-0.8 1l-0.8 1l-0.8 1l-0.9 1.2l-1 1.5l-0.8 1.3l-0.7 1l-0.7 1l-0.9 1l-1 1l-0.9 1l-1 1.4l-1 1.5l-0.6 1.1l-0.5 1l-0.9 2l-0.4 1l-0.6 1.2l-1 1.5l-1 1.3l-1 1l-1 0.7l-1 0.6l-1.6 0.7l-1.4 0.6l-1 0.5l-1.6 0.9l-1.3 1l-1 1l-0.7 1l-0.6 1l-0.8 1.2l-1 1.7l-0.7 1.1l-0.6 1l-0.7 1l-1 1.2l-1 1l-1 1l-1 1.2l-0.9 1.6l-0.3 1l-0.4 2l0 2l-0.4 2l-0.4 1l-0.6 1.3l-0.7 1.7l-0.3 1l-0.8 2l-0.7 1l-0.7 1l-0.9 1l-1.4 1l-1.5 0.8l-1 0.5l-1.5 0.7l-1.1 1l-0.7 1l-0.7 1.9l-0.3 1.1l-0.5 2l-0.2 1l-0.7 2l-0.6 1l-0.7 1.1l-1 1.4l-0.8 1.5l-0.3 1l-0.9 1.1l-1.6 0.9l-1 1l-0.7 1l-0.7 1.1l-1 1.7l-1 1.1l-1 0.6l-1 0.5l-2 0.6l-1.8 0.4l-1.2 0.6l-1 1.1l-0.4 1.3l-0.2 2l-0.1 2l-0.3 2l-0.4 1l-0.9 1l-1.4 1l-1.3 0.6l-1.1 0.4l-1.9 0.9l-1 0.4l-1.9 0.7l-1.1 0.3l-1.8 0.7l-1.2 0.7l-1 0.7l-1 0.7l-1.1 0.9l-1.5 1l-1.4 0.9l-1 0.5l-1.4 0.6l-1.6 0.5l-1.6 0.5l-1.4 0.5l-2 0.4l-1 0.3l-2 0.6zM516.5 280.8l-2 0.5l-2 0.1l-2 0l-2 -0.5l-1.5 -0.4l-1.5 -0.7l-1 -0.6l-1 -0.7l-1.4 -1l-1.1 -1l-0.7 -1l-0.8 -1.8l-0.6 -1.2l-0.4 -1l-0.5 -2l-0.3 -2l-0.1 -2l-0.2 -1l-0.2 -2l0.1 -2l0 -2l0.2 -2l0.2 -1l0.5 -2l0.3 -1l1 -1.6l1 -1.4l0.7 -1l0.4 -1l0.5 -2l0.2 -2l0.2 -1.2l0.8 -1.8l0.7 -1l0.7 -1l0.9 -1l0.9 -1.1l1 -1.4l1 -1.4l0.8 -1.1l1 -1l1.2 -0.9l1 -0.6l1 -0.9l1 -1l1 -1.2l1 -1l1 -0.7l1.2 -0.7l1.8 -0.9l1 -0.3l2 -0.1l2 -0.6l1 -0.6l1 -0.9l1 -1.1l1 -0.9l1.3 -0.6l1.7 -0.7l1 -0.7l1 -1.5l0.4 -1.1l0.6 -2l0.5 -1l0.7 -1l0.9 -1l1.5 -1l1.4 -0.6l2 0l2 0.4l2 0.1l1.7 -0.9l0.8 -1l0.5 -1.2l0.5 -1.8l0.3 -2l0.2 -1.4l0.3 -1.6l0.7 -2l0.9 -1l1.1 -0.7l1.4 -0.3l1.6 -0.2l2 -0.1l1.9 -0.7l1.1 -0.6l1 -0.7l1 -0.8l1.4 -0.9l1.6 -0.9l1 -0.5l1.2 -0.6l0.9 -1l0.9 -1.5l1 -1.3l1 -0.8l1 -0.5l1.8 -0.9l1.2 -0.9l0.9 -1.1l0.7 -1l0.7 -1l0.9 -1l1.1 -1l1.3 -1l1.4 -0.8l1 -0.4l2 -0.5l1.2 -0.3l1.8 -0.5l1.1 -0.5l1.4 -1l1.1 -1l1.1 -1l0.9 -1l0.8 -1l0.8 -1l0.8 -1.1l1 -1.4l1 -1.2l1 -0.8l1 -0.6l2 -0.4l2 -0.3l1.6 -0.2l1.4 -0.2l2 -0.3l1.8 -0.5l1.2 -0.6l1 -0.7l1 -0.9l1 -1.1l1 -0.9l1.5 -0.8l1.5 -0.3l1.1 0.3l0.6 2l-0.7 1.6l-0.8 1.4l-0.8 1l-1 1l-0.8 1l-0.6 1l-1 1.8l-0.5 1.2l-0.5 1.1l-1 1.9l-0.5 1l-0.5 1.2l-0.9 1.8l-0.5 1l-0.8 1l-0.8 1l-1 1.2l-1 1.4l-0.9 1.4l-0.5 1l-0.6 1.4l-0.7 1.6l-0.6 1l-0.7 1.1l-1 1l-1.3 0.9l-1.7 0.8l-1 0.3l-2 0.9l-1 0.5l-1 0.5l-1.5 1l-1.5 1l-1 0.9l-0.9 1.1l-0.6 1l-0.5 1.2l-0.8 1.8l-0.4 1l-0.8 1.4l-1 1.5l-0.9 1.1l-0.9 1l-0.9 1l-0.8 1l-0.7 1l-0.8 1.3l-0.9 1.7l-0.6 1l-0.5 1.3l-0.4 1.7l-0.3 2l-0.3 1.5l-0.3 1.5l-0.6 2l-0.3 1l-0.8 1.3l-1 1.1l-1 0.7l-2 0.6l-2 0.2l-1 0.2l-1.9 0.9l-1 1l-0.7 1l-0.5 1l-0.8 2l-0.3 1l-0.4 2l-0.4 1.3l-0.8 1.7l-0.8 1l-1 1l-1.1 1l-0.9 1l-0.9 1l-0.6 1l-0.6 2l-0.3 1.9l-0.2 1.1l-0.8 1.5l-1 1l-1 0.6l-2 0.8l-1 0.2l-2 0.8l-1 0.9l-0.6 1.2l-0.3 2l-0.1 2l0 1l-0.4 2l-0.6 1.3l-1 1.1l-1 0.6l-2 1l-1 0.5l-1 0.5l-2 0.9l-1 0.4l-1.4 0.7l-1.5 1l-1.1 0.8l-1 0.8l-1 0.8l-1 0.7l-1.4 0.9l-1.6 0.8l-1 0.4l-2 0.7l-1 0.4l-1.8 0.7l-1.2 0.3l-2 0.7zM515.5 279.7l-2 0.3l-2 0l-2 -0.4l-1 -0.2l-2 -0.7l-1 -0.6l-1 -0.7l-1.1 -0.9l-1 -1l-0.9 -2l-0.5 -1l-0.5 -1.1l-0.7 -1.9l-0.3 -1.4l-0.2 -1.6l-0.2 -2l-0.3 -2l0.2 -2l0.2 -2l0.2 -2l0.3 -1l0.5 -2l0.5 -1l0.8 -1.2l1 -1.3l1 -1.5l0.4 -1l0.4 -2l0.2 -1l0.7 -2l0.6 -1l0.9 -1l1 -1l1 -1l0.9 -1l0.9 -1.1l1 -1l1 -1l1 -0.9l1.2 -1l1.1 -1l0.9 -1l1.1 -1l1.2 -1l1.5 -0.8l1 -0.4l2 -0.6l1 -0.2l2 -0.2l2 -0.2l2 -0.5l1 -0.6l1 -1l1 -1.2l1 -1l1 -0.9l1 -0.9l1 -1l1 -1.3l0.9 -1.2l0.9 -1l1.2 -0.8l1 -0.2l2 -0.4l2 -0.5l1 -0.4l1.3 -0.7l1.5 -1l1.1 -1l0.8 -1l0.6 -1l0.7 -1.3l0.6 -1.7l0.4 -1.8l0.1 -1.2l0.4 -2l0.8 -1l1.7 -0.9l1 -0.5l1.2 -0.6l1.8 -1l1 -0.8l1 -0.8l1 -0.8l1 -0.6l2 -0.7l2 0l2 0l1.7 -0.3l1.3 -0.5l1.2 -0.5l1.8 -0.9l1 -0.9l0.7 -1.2l0.4 -1l0.5 -2l0.4 -2l0.2 -1l0.6 -2l0.7 -1l1 -1l1.5 -0.9l1 -0.3l2 -0.2l2 0.1l2 -0.5l1 -0.6l1 -0.9l1 -1.2l1 -1.1l1 -1.1l0.9 -1.3l0.7 -1l0.6 -1l0.8 -1.5l0.9 -1.5l0.9 -1l1.2 -0.9l1 -0.3l2 -0.2l2 -0.2l2 -0.2l2 -0.1l1.7 0.9l-0.5 2l-0.4 1l-0.8 1.9l-0.4 1.1l-0.6 1.7l-0.5 1.3l-0.6 1l-0.9 1.2l-1 1.2l-1 1.1l-1 1.1l-1 1.3l-0.6 1.1l-0.4 1.1l-1 1.8l-1 0.7l-2 0.2l-1.6 0.2l-1.2 1l-0.9 1l-0.9 1l-1 1l-1.3 1l-1.1 0.7l-1 0.5l-1.7 0.8l-1.3 0.6l-1 0.5l-2 0.8l-1 0.5l-1 0.6l-1.1 1l-0.7 2l0 2l0.3 2l-0.1 2l-0.4 1.4l-0.7 1.6l-0.6 1l-0.7 1l-1 1.2l-1 0.8l-1.5 1l-1.1 1l-0.6 1l-0.2 2l0.4 1.6l0.5 1.4l0.2 2l-0.7 2l-1 0.8l-1 0.4l-2 0.6l-1 0.3l-1.8 0.9l-1.2 0.9l-0.9 1.1l-0.7 1l-0.7 1l-0.7 1l-1 1.6l-0.8 1.4l-0.5 1l-0.7 1.5l-0.8 1.5l-0.8 1l-0.9 1l-0.8 1l-0.7 1l-1 1.5l-0.7 1.5l-0.3 1l-0.7 2l-0.5 1l-0.8 1.2l-1 0.9l-1.5 0.9l-1.5 0.7l-1 0.7l-1 1l-0.8 1.6l-0.3 1l-0.3 2l-0.1 2l-0.5 1.9l-0.7 1.1l-1 1l-1.3 0.9l-1 0.7l-1 0.8l-1 0.6l-1.4 1l-1.6 1l-1 0.8l-1 0.8l-1 0.8l-1 0.8l-1 0.8l-1.5 1l-1.5 0.9l-1 0.4l-1.7 0.7l-1.3 0.5l-1.1 0.5l-1.9 0.8l-1 0.3l-2 0.8zM600.5 175.5l-1.8 0l-0.2 -1l0.5 -1l0.7 -1l0.8 -1.3l0.9 -1.7l0.5 -1l0.7 -1l1 -1l1.9 -0.7l2 -0.2l1.7 0.9l-0.5 2l-0.4 1l-0.8 1.6l-1 1.2l-1 0.9l-1 0.8l-1 0.7l-2 0.7zM586.5 188.8l-2 0.6l-1.1 -0.9l0.2 -1l0.3 -2l0.6 -2l0.7 -1l1.3 -0.8l1 -0.2l2 -0.3l2 0l0.6 1.3l-0.3 2l-0.4 1l-0.9 1.2l-1 0.8l-2 0.9zM513.5 278.5l-2 0l-1 -0.2l-2 -0.5l-1 -0.4l-1.6 -0.9l-1.2 -1l-0.9 -1l-0.4 -1l-0.9 -2l-0.5 -1l-0.5 -1.3l-0.5 -1.7l-0.2 -2l-0.2 -2l0 -2l0.5 -2l0.2 -2l0.3 -1l0.5 -2l0.4 -1.1l1 -1.6l1 -1.3l0.8 -1l0.6 -1l0.6 -1.8l0.4 -1.2l0.6 -1.4l1 -1.2l1 -0.8l1 -0.8l1 -0.9l1 -0.9l1 -1l1 -1.1l1 -1.1l1 -1.2l1 -1.2l1 -1.1l1 -0.9l1 -0.7l1.3 -0.7l1.7 -0.7l1.7 -0.3l1.3 -0.2l2 0l2 -0.2l1.8 -0.6l1.2 -0.7l1 -0.8l1 -1.1l1 -1.1l1 -0.9l1 -0.8l1 -0.6l1.7 -1l1.3 -0.9l1 -0.8l1 -0.7l1 -0.8l1 -0.8l1.4 -1l1.5 -1l1.1 -0.7l1 -0.5l1.3 -0.8l1.3 -1l1 -1l0.9 -1l0.8 -1l0.8 -1l1 -1l1.1 -1l1.2 -1l1.3 -1l1.3 -0.8l2 -0.1l1.4 -0.1l1.6 -0.5l1 -0.8l1 -1.1l1 -1.1l1 -1l1 -0.7l1.6 -0.8l1.4 -0.2l0.3 1.2l-0.1 2l-0.2 1.6l-0.6 1.4l-0.9 1l-1.5 0.9l-1 0.6l-1 0.9l-1 1.5l-0.5 1.1l-0.5 1.5l-0.4 1.5l-0.2 2l0.3 2l0.3 1.2l0.1 1.8l-0.6 1l-1.3 1l-1.2 0.7l-1 0.8l-1 0.9l-1 1.1l-1 1.3l-0.8 1.2l-0.8 1l-0.8 1l-0.9 1l-0.9 1l-1 1l-1 1l-1.2 1l-1.4 1l-1.1 1l-0.6 1l-0.5 1l-0.6 2l-0.4 1.8l-0.4 1.2l-0.6 1.2l-1 1.5l-1 1.2l-1 1l-1 0.8l-1 1l-1 1.2l-0.6 1.1l-0.4 1.1l-0.5 1.9l-0.3 2l-0.3 1l-0.8 2l-1 1l-1 1l-1 1l-1 1l-0.9 1l-1 1l-1 1l-1 1l-1 1l-1.2 1l-1 0.8l-1 0.7l-1 0.7l-1.2 0.8l-1.8 0.9l-1 0.4l-1.5 0.7l-1.5 0.8l-1 0.4l-2 0.8l-1 0.4l-2 0.5zM515.5 276.7l-2 0.3l-2 -0.1l-1.3 -0.4l-1.7 -0.5l-1.1 -0.5l-1.4 -1l-0.8 -1l-0.7 -1.6l-0.7 -1.4l-0.5 -1l-0.7 -2l-0.2 -1l-0.1 -2l0 -2l0.2 -1.2l0.6 -1.8l0.4 -2l0.3 -1l0.6 -2l0.3 -1l0.8 -1.2l1 -1.2l1 -1.2l1 -1.4l0.5 -1l0.7 -1l0.9 -1l1.3 -1l1.3 -1l1.1 -1l0.9 -1l0.8 -1l0.7 -1l0.8 -1l1 -1.3l1 -1.2l1 -0.9l1 -0.7l2 -0.9l1 -0.3l1.9 -0.7l1.1 -0.3l2 -0.6l1 -0.2l2 -0.6l1 -0.4l1.9 -0.9l1.1 -0.7l1 -0.6l1.1 -0.7l1.6 -1l1.3 -0.9l1 -0.7l1 -0.7l1 -0.7l1.2 -1l1.2 -1l1.1 -1l1.2 -1l1.2 -1l1.1 -0.7l1 -0.5l2 -0.8l1 -0.4l1.1 -0.6l1.4 -1l1.1 -1l1.2 -1l1.2 -0.8l1 -0.4l2 -0.2l0.3 1.4l-0.3 1.5l-0.3 1.5l-0.4 2l-0.4 1l-0.9 1.9l-0.6 1.1l-0.6 1l-0.8 1.2l-1 1.3l-1 1.2l-1 1.1l-1 1.1l-1 1.1l-0.9 1l-1.1 1l-1 0.8l-1 0.8l-1 1l-1 1.4l-0.5 1l-0.5 1.4l-0.5 1.6l-0.5 1.4l-0.8 1.6l-0.7 1l-0.7 1l-0.8 1l-1 1.1l-1 1.1l-1 1.4l-0.7 1.4l-0.4 1l-0.5 2l-0.4 2l-0.3 1l-0.7 1.5l-1 1.5l-0.8 1l-0.8 1l-0.8 1l-0.8 1l-0.8 1.1l-1 1.2l-1 1.2l-1 1l-1 0.9l-1 0.8l-1.1 0.8l-1.4 1l-1.5 0.9l-1 0.6l-1.1 0.5l-1.7 1l-1.2 0.6l-1 0.4l-2 0.8zM516.5 274.7l-2 0.6l-2 0.1l-2 -0.6l-1.1 -0.3l-1.9 -0.9l-1 -1l-0.5 -1.1l-0.5 -1l-0.9 -2l-0.3 -1l-0.3 -2l0 -2l0.3 -2l0.3 -1l0.6 -2l0.3 -1.1l0.6 -1.9l0.4 -1.1l1 -1.7l1 -1.1l1 -1.1l1 -1l0.9 -1l1 -1l1.1 -0.8l1 -0.7l1 -0.8l1 -0.9l1 -1.2l1 -1.4l0.9 -1.2l1 -1l1.1 -0.8l1 -0.5l2 -0.5l1 -0.2l1.8 -1l1.1 -1l1 -1l1.1 -0.8l1 -0.5l1.8 -0.7l1.2 -0.4l1.8 -0.6l1.2 -0.4l1.4 -0.6l1.6 -0.8l1 -0.5l1 -0.7l1.2 -1l1.2 -1l1.2 -1l1.3 -1l1.1 -0.7l1 -0.6l1.3 -0.7l1.7 -0.7l1 -0.3l1.7 0l-0.4 2l-0.5 1l-0.8 1.6l-0.7 1.4l-0.7 1l-0.8 1l-1 1l-1 1l-1 1l-0.8 1.2l-1 1.8l-0.4 1l-0.6 1.2l-1 1.6l-1 1.2l-0.7 1l-0.7 1l-0.6 1l-1 1.6l-0.9 1.4l-0.6 1l-0.6 1l-0.5 2l-0.2 2l-0.2 1.2l-0.5 1.8l-0.5 1.2l-0.9 1.8l-0.7 1l-0.7 1l-0.7 1l-1 1.3l-1 1.2l-1 1.2l-1 1l-1 0.8l-1 0.8l-1 0.8l-1.1 0.9l-1.3 1l-1.5 1l-1.1 0.7l-1 0.7l-1 0.6l-2 0.8zM514.5 273.7l-2 0l-1 -0.2l-2 -0.7l-1 -0.4l-1 -1.2l-0.8 -1.7l-0.5 -1l-0.5 -2l0.1 -2l0.2 -2l0.4 -2l0.3 -1l0.5 -2l0.3 -1.1l0.8 -1.9l0.6 -1l0.9 -1l1.1 -1l1.2 -1l1.2 -1l1.2 -1l1 -0.6l1 -0.7l1.1 -0.7l1.1 -1l1 -1l0.8 -1l1.1 -1l1.9 -0.9l1 -0.2l2 -0.4l1.3 -0.5l1.3 -1l0.9 -1l0.6 -1l0.9 -1.3l1 -1l1.4 -0.7l1.6 -0.4l2 -0.4l1.2 -0.2l1.8 -0.5l1.2 -0.5l1.8 -0.7l1 -0.3l0.1 1l-0.5 1l-0.6 1.1l-1 1.4l-1 1.3l-0.8 1.2l-0.7 1l-0.6 1l-0.9 1.8l-0.6 1.2l-0.7 1l-0.7 1.1l-1 1.8l-0.3 1.1l-0.2 2l0.1 2l-0.1 2l-0.5 1.9l-0.4 1.1l-0.6 1l-1 1.5l-1 1.3l-1 1.2l-0.9 1l-1.1 0.9l-1 0.8l-1 0.7l-1 0.9l-1 0.9l-1 1l-1 0.9l-1.2 0.9l-1.4 1l-1.4 0.8l-1 0.4l-2 0.8zM515.5 271.8l-2 0.4l-2 -0.4l-1 -0.3l-1.6 -1l-0.6 -1l-0.7 -2l-0.1 -1l0 -1.3l0.2 -1.7l0.2 -2l0.4 -2l0.2 -1.1l0.5 -1.9l0.5 -1.1l1 -1.5l1 -1l1 -0.7l1 -0.7l1.6 -1l1.4 -0.9l1 -0.6l1 -0.6l1.7 -0.9l1.3 -0.9l1 -0.7l1 -0.5l2 -0.7l1 -0.3l2 -0.7l1 -0.5l1 -0.7l1 -1l1 -1.1l1 -1.4l1 -1.1l1 -0.6l1.6 0.2l-0.3 2l-0.5 1l-0.8 1.4l-1 1.4l-0.8 1.2l-0.7 1l-0.6 1l-0.5 2l0.2 2l0.4 1.7l0.3 1.3l-0.1 2l-0.2 1l-0.9 2l-0.7 1l-0.8 1l-1 1l-1.2 1l-1.4 1l-1 0.8l-1 1l-1 1l-1 1.1l-1 0.9l-1 0.9l-1 0.7l-1 0.7l-2 0.8z" fill="none" stroke="#4a4a4a" stroke-width="1.0"/>
</g>
<rect x="463" y="16.5" width="294.5" height="293.5" fill="none" stroke="#000" stroke-width="2.5"/>
<path d="M465 310v8.5M526 310v8.5M596 310v8.5M665 310v8.5M729 310v8.5M750 310v5M547.1 310v4M559.4 310v4M568.1 310v4M574.9 310v4M580.5 310v4M585.2 310v4M589.2 310v4M592.8 310v4M616.8 310v4M628.9 310v4M637.5 310v4M644.2 310v4M649.7 310v4M654.3 310v4M658.3 310v4M661.8 310v4M684.3 310v4M695.5 310v4M703.5 310v4M709.7 310v4M714.8 310v4M719.1 310v4M722.8 310v4M726.1 310v4M471 310v4M476 310v4M480 310v4M484 310v4M487 310v4M490 310v4M493 310v4M501 310v4M507 310v4M512 310v4M516 310v4M520 310v4M523 310v4M551 310v4M567 310v4M578 310v4M463 308h-8.5M463 247h-8.5M463 177h-8.5M463 108h-8.5M463 44h-8.5M463 225.9h-4M463 213.6h-4M463 204.9h-4M463 198.1h-4M463 192.5h-4M463 187.8h-4M463 183.8h-4M463 180.2h-4M463 156.2h-4M463 144.1h-4M463 135.5h-4M463 128.8h-4M463 123.3h-4M463 118.7h-4M463 114.7h-4M463 111.2h-4M463 88.7h-4M463 77.5h-4M463 69.5h-4M463 63.3h-4M463 58.2h-4M463 53.9h-4M463 50.2h-4M463 46.9h-4M463 302h-4M463 297h-4M463 293h-4M463 289h-4M463 286h-4M463 283h-4M463 280h-4M463 272h-4M463 266h-4M463 261h-4M463 257h-4M463 253h-4M463 250h-4M463 222h-4M463 206h-4M463 195h-4" stroke="#000" stroke-width="1.7" fill="none"/>
<path d="M491 310v7M463 280h-7" stroke="#000" stroke-width="3.5" fill="none"/>
<rect x="568" y="98.5" width="155.5" height="97.5" fill="none" stroke="#000" stroke-width="1.9"/>
<path d="M565.5 98.5h5M568 96v5M721 98.5h5M723.5 96v5M721 196h5M723.5 193.5v5M565.5 196h5M568 193.5v5" stroke="#000" stroke-width="1.6"/>
<path d="M463 206.5H559V310" stroke="#000" stroke-width="1.9" fill="none"/>
<text x="693.5" y="91" font-size="18" font-weight="bold" text-anchor="middle">20.5</text>
<text x="467.5" y="305.5" font-size="18" font-weight="bold">47.1</text>
<text x="450.5" y="163" font-size="18.5" font-weight="bold" text-anchor="middle" transform="rotate(-90 450.5 163)">CXCR5</text>
<text x="610" y="337" font-size="18.5" font-weight="bold" text-anchor="middle">PD-1</text>
<clipPath id="c3"><rect x="826" y="16.5" width="295" height="293.5"/></clipPath>
<g clip-path="url(#c3)">
<defs><path id="k9" d="M729 65.5h1M693 73.5h1M729 87.5h1M726 89.5h1M714 90.5h1M712 93.5h1M736 94.5h1M697 98.5h1M666 102.5h1M743 103.5h1M657 106.5h1m22 0h1m88 0h1M769 107.5h1M750 109.5h1M667 111.5h1M752 112.5h1M672 114.5h1M646 115.5h1M673 116.5h1m4 0h1M630 117.5h1m40 0h1M669 119.5h1M645 124.5h1M754 125.5h1M651 127.5h1M745 128.5h1M623 129.5h1M656 131.5h1M654 132.5h1M733 135.5h1M671 136.5h1m62 0h1M671 137.5h1M658 138.5h1M658 139.5h1m88 0h1M657 141.5h1m71 0h2M666 142.5h1M665 145.5h1M672 146.5h1M673 147.5h1M725 148.5h1M720 150.5h1M675 151.5h1m47 0h1M675 152.5h1M647 155.5h1m19 0h1m19 0h1M693 157.5h1m6 0h2M664 158.5h1M677 159.5h1M730 160.5h1M709 162.5h1M691 165.5h1M682 170.5h1m57 0h1M685 176.5h1M705 179.5h1M690 180.5h1M695 181.5h1M685 183.5h1M680 188.5h1M675 192.5h1M724 211.5h1M722 212.5h1M681 219.5h1"/><path id="k10" d="M690 70.5h1M692 81.5h1M714 83.5h1M706 89.5h1M748 92.5h1M687 94.5h1m43 0h1m11 0h1M740 96.5h1m1 0h1M748 101.5h1M690 102.5h1M678 104.5h1m7 0h1M746 105.5h1M670 108.5h1M747 112.5h1M680 113.5h1m66 0h1M678 114.5h1M630 115.5h1M630 116.5h1M659 117.5h1M674 118.5h1M674 119.5h2m76 0h1M673 120.5h1m1 0h1M636 125.5h1m32 0h1m71 0h1M672 127.5h1M758 128.5h1M633 131.5h1m30 0h1M652 132.5h1m15 0h1M668 133.5h1m68 0h1M667 134.5h1m1 0h1m66 0h2M664 135.5h1M626 137.5h1m8 0h1M634 143.5h1M657 144.5h1m9 0h1m5 0h1M657 145.5h1m18 0h1M649 146.5h1m8 0h1m2 0h1m14 0h2M666 155.5h1M649 157.5h1m41 0h1M697 158.5h1m9 0h1M690 159.5h1m7 0h2m6 0h1m14 0h1M648 162.5h1m39 0h1M698 164.5h1M698 166.5h1M695 172.5h1M673 178.5h2M684 184.5h1M703 186.5h1M696 187.5h1M699 188.5h1M713 194.5h1M670 201.5h1M665 207.5h1M705 223.5h1"/></defs>
<g transform="scale(1.35)" fill="none">
<g stroke-width="1"><use href="#k10" stroke="#aaa"/><use href="#k9" stroke="#555"/></g>
</g>
<path d="M908 185l-0.2 -2.1l0.1 -2.1l0.2 -2.2l0.5 -2.1l0.6 -2.1l0.7 -2.1l0.8 -2l0.8 -2l1 -1.9l1 -1.9l1.1 -1.8l1.2 -1.8l1.2 -1.7l1.4 -1.6l1.3 -1.6l1.5 -1.6l1.5 -1.5l1.5 -1.5l1.6 -1.5l1.6 -1.4l1.6 -1.4l1.6 -1.4l1.7 -1.3l1.7 -1.3l1.6 -1.4l1.7 -1.2l1.7 -1.3l1.8 -1.3l1.8 -1.2l1.7 -1.2l1.9 -1.1l1.8 -1l1.9 -1l2 -0.8l2 -0.8l2 -0.6l2 -0.6l2.1 -0.4l2.1 -0.4l2.2 -0.3l2.1 -0.3l2.1 -0.3l2.2 -0.2l2.1 -0.1l2.1 -0.1l2.2 -0.1l2.1 0.1l2.1 0.1l2.2 0.3l2.1 0.4l2.1 0.5l2 0.7l2 0.9l1.9 1l1.8 1.1l1.7 1.4l1.5 1.5l1.3 1.7l1.2 1.8l1 1.9l0.8 2l0.7 2.1l0.4 2.1l0.3 2.2l0 2.2l-0.1 2.1l-0.4 2.1l-0.5 2.1l-0.7 2l-0.9 2l-0.9 1.9l-1.1 1.8l-1.1 1.9l-1.1 1.8l-1.1 1.9l-1 1.8l-1.1 1.9l-1 1.9l-1.1 1.8l-1 1.9l-1.1 1.8l-1.1 1.8l-1.1 1.8l-1.2 1.8l-1.2 1.8l-1.2 1.7l-1.4 1.7l-1.3 1.6l-1.5 1.6l-1.5 1.5l-1.6 1.4l-1.7 1.4l-1.7 1.3l-1.7 1.2l-1.8 1.1l-1.9 1.1l-1.9 1l-1.9 0.9l-2 0.8l-2 0.8l-2 0.7l-2.1 0.6l-2 0.5l-2.2 0.4l-2.1 0.4l-2.1 0.2l-2.2 0.1l-2.1 0l-2.1 -0.1l-2.1 -0.3l-2.1 -0.4l-2.1 -0.6l-2 -0.6l-2 -0.8l-2 -0.9l-1.9 -0.9l-1.9 -1l-1.9 -1.1l-1.8 -1.1l-1.8 -1.2l-1.7 -1.3l-1.6 -1.4l-1.6 -1.5l-1.4 -1.6l-1.4 -1.7l-1.2 -1.8l-1 -1.9l-0.9 -2l-0.7 -2z" fill="#fff"/>
<path d="M944.5 200l-1.5 -0.5l-1.5 -0.5l-2 0l-1 -1l-2 0l-1.5 -0.5l-1.5 -0.5l-1 -1l-1.5 -0.5l-1 -1l-1 -1l-1 -1l-1 -1l-1.5 -0.5l-1 -1l-1 -1l-1 -1l-0.5 -1.5l-1 -1l0 -2l0 -2l0 -2l0 -2l0.5 -1.5l1 -1l0.5 -1.5l1 -1l0.5 -1.5l0.5 -1.5l1 -1l1 -1l0 -2l1 -1l0.5 -1.5l1 -1l1 -1l1 -1l1 -1l1 -1l1 -1l1 -1l2 0l2 0l1 -1l1 -1l0.5 -1.5l1 -1l1 -1l1 -1l1 -1l1.5 -0.5l1 -1l2 0l1 -1l1 -1l1 -1l1 -1l1 -1l1.5 -0.5l1.5 -0.5l1 -1l2 0l2 0l1 -1l1 1l2 0l2 0l2 0l2 0l1 -1l2 0l2 0l2 0l2 0l1 1l1.5 0.5l1 1l1 1l1 1l1 1l1 1l0.5 1.5l0.5 1.5l1 1l0.5 1.5l0.5 1.5l-1 1l0 2l-1 1l-1 1l-0.5 1.5l-1 1l-0.5 1.5l-1 1l-1 1l-0.5 1.5l-0.5 1.5l-1 1l-0.5 1.5l-0.5 1.5l-1 1l-1 1l0 2l-1 1l-0.5 1.5l-1 1l-0.5 1.5l-1 1l-1 1l-1 1l-1 1l-0.5 1.5l-0.5 1.5l-1 1l-1 1l-1 1l-1.5 0.5l-1 1l-1.5 0.5l-1.5 0.5l-1 1l-1.5 0.5l-1 1l-1 1l-1.5 0.5l-1 1l-1 1l-2 0l-1.5 0.5l-1.5 0.5l-1.5 -0.5l-1.5 -0.5l-1 1l-2 0z" fill="#c6c6c6"/>
<path d="M946 183.5l1.5 -0.5l2 0l1 -1l1.5 -0.5l1.5 -0.5l1 -1l1.5 -0.5l1.5 -0.5l1 -1l1.5 -0.5l1 -1l1 -1l1 -1l1 -1l1 -1l0 -2l1 -1l0.5 -1.5l0.5 -1.5l1 -1l0.5 -1.5l0.5 -1.5l1 -1l0.5 -1.5l0.5 -1.5l1 -1l1 -1l-0.5 -1.5l-1.5 -0.5l-1.5 -0.5l-2 0l-1 1l-2 0l-2 0l-1.5 0.5l-1 1l-0.5 1.5l-1 1l-1 1l-1.5 0.5l-1 1l-1.5 0.5l-1 1l-1.5 0.5l-1.5 0.5l-0.5 1.5l-1 1l-1 1l-1 1l-0.5 1.5l-1 1l-1.5 0.5l-1.5 0.5l-1 1l-1 1l-1 1l-0.5 1.5l-1 1l-1 1l0 2l1 1l1.5 0.5l1 1l2 0l1.5 0.5l1.5 0.5z" fill="#c6c6c6"/>
<path d="M977.5 176l-1.5 -0.5l-1 -1l-1 -1l-1 -1l0 -2l1 -1l0 -2l0.5 -1.5l0.5 -1.5l0.5 -1.5l0.5 -1.5l0.5 -1.5l1 -1l1 -1l1 -1l0.5 -1.5l0.5 -1.5l0.5 -1.5l0 -2l-1 -1l-1.5 -0.5l-1 -1l-2 0l-2 0l-2 0l-2 0l-1.5 0.5l-1.5 0.5l-2 0l-2 0l-2 0l-1 1l-1.5 0.5l-1 1l-1 1l-1 1l-1 0l-1 -1l-1 -1l-1 -1l-1 -1l1 -1l1.5 -0.5l1 -1l1 -1l1 -1l1 -1l1 -1l1.5 -0.5l1.5 -0.5l2 0l2 0l2 0l2 0l2 0l2 0l2 0l1.5 -0.5l1.5 -0.5l2 0l1.5 0.5l1.5 0.5l1.5 0.5l1 1l1 1l1 1l1 1l0.5 1.5l0.5 1.5l1 1l0 2l-0.5 1.5l-0.5 1.5l-1 1l-0.5 1.5l-1 1l-0.5 1.5l-1 1l-0.5 1.5l-1 1l-0.5 1.5l-1 1l-0.5 1.5l-0.5 1.5l-1 1l-0.5 1.5l-0.5 1.5l-0.5 1.5z" fill="#9c9c9c"/>
<path d="M945.5 195l-2 0l-2 0l-2 0l-1 -1l-2 0l-1.5 -0.5l-1.5 -0.5l-1 -1l-1 -1l-0.5 -1.5l-1 -1l-1 -1l-1 -1l-1 -1l-1 -1l-0.5 -1.5l-0.5 -1.5l0.5 -1.5l0.5 -1.5l0.5 -1.5l0.5 -1.5l1 -1l1 -1l0.5 -1.5l0.5 -1.5l1 -1l0 -2l1 -1l0.5 -1.5l1 -1l1 -1l1 -1l1 1l1 1l1 1l1 1l1 1l0 1l-1 1l-1 1l-1 1l-1 1l-1 1l-0.5 1.5l-1 1l-1 1l-1 1l0 2l0 2l0.5 1.5l1 1l1 1l1 1l1.5 0.5l1.5 0.5l1 1l2 0l2 0l2 0l1 -1l2 0l2 0l1 1l2 0l1 -1l1 -1l1 -1l1 -1l1 1l1 1l1 1l1 1l0 1l-1 1l-1 1l-1 1l-1 1l-1.5 0.5l-1.5 0.5l-2 0l-2 0l-2 0l-2 0z" fill="#a4a4a4"/>
<path d="M954.5 191l-2 0l-1.5 -0.5l-1.5 -0.5l-2 0l-1.5 0.5l-1.5 0.5l-2 0l-2 0l-1.5 -0.5l-1.5 -0.5l-1 -1l-1.5 -0.5l-1 -1l-1 -1l-1 -1l-1 -1l1 -1l1.5 -0.5l2 0l2 0l2 0l2 0l1.5 0.5l1.5 0.5l1.5 -0.5l1.5 -0.5l2 0l2 0l2 0l2 0l2 0l2 0l1 1l0 1l-1 1l-1 1l-1 1l-1 1l-1 1z" fill="#8c8c8c"/>
<path d="M952 161l7 -3 5 3 -2 8 -5 9 -5 2 -4 -7z" fill="#fff"/>
<path d="M951 189h7" stroke="#111" stroke-width="2"/>
<path d="M908 185l-0.2 -2.1l0.1 -2.1l0.2 -2.2l0.5 -2.1l0.6 -2.1l0.7 -2.1l0.8 -2l0.8 -2l1 -1.9l1 -1.9l1.1 -1.8l1.2 -1.8l1.2 -1.7l1.4 -1.6l1.3 -1.6l1.5 -1.6l1.5 -1.5l1.5 -1.5l1.6 -1.5l1.6 -1.4l1.6 -1.4l1.6 -1.4l1.7 -1.3l1.7 -1.3l1.6 -1.4l1.7 -1.2l1.7 -1.3l1.8 -1.3l1.8 -1.2l1.7 -1.2l1.9 -1.1l1.8 -1l1.9 -1l2 -0.8l2 -0.8l2 -0.6l2 -0.6l2.1 -0.4l2.1 -0.4l2.2 -0.3l2.1 -0.3l2.1 -0.3l2.2 -0.2l2.1 -0.1l2.1 -0.1l2.2 -0.1l2.1 0.1l2.1 0.1l2.2 0.3l2.1 0.4l2.1 0.5l2 0.7l2 0.9l1.9 1l1.8 1.1l1.7 1.4l1.5 1.5l1.3 1.7l1.2 1.8l1 1.9l0.8 2l0.7 2.1l0.4 2.1l0.3 2.2l0 2.2l-0.1 2.1l-0.4 2.1l-0.5 2.1l-0.7 2l-0.9 2l-0.9 1.9l-1.1 1.8l-1.1 1.9l-1.1 1.8l-1.1 1.9l-1 1.8l-1.1 1.9l-1 1.9l-1.1 1.8l-1 1.9l-1.1 1.8l-1.1 1.8l-1.1 1.8l-1.2 1.8l-1.2 1.8l-1.2 1.7l-1.4 1.7l-1.3 1.6l-1.5 1.6l-1.5 1.5l-1.6 1.4l-1.7 1.4l-1.7 1.3l-1.7 1.2l-1.8 1.1l-1.9 1.1l-1.9 1l-1.9 0.9l-2 0.8l-2 0.8l-2 0.7l-2.1 0.6l-2 0.5l-2.2 0.4l-2.1 0.4l-2.1 0.2l-2.2 0.1l-2.1 0l-2.1 -0.1l-2.1 -0.3l-2.1 -0.4l-2.1 -0.6l-2 -0.6l-2 -0.8l-2 -0.9l-1.9 -0.9l-1.9 -1l-1.9 -1.1l-1.8 -1.1l-1.8 -1.2l-1.7 -1.3l-1.6 -1.4l-1.6 -1.5l-1.4 -1.6l-1.4 -1.7l-1.2 -1.8l-1 -1.9l-0.9 -2l-0.7 -2zM944.5 206.5l-1 0l-2 -0.6l-1.9 -0.4l-1.1 -0.3l-2 -0.7l-1 -0.3l-2 -0.7l-1 -0.3l-1.6 -0.7l-1.4 -0.7l-1 -0.5l-1.7 -0.8l-1.3 -0.7l-1 -0.7l-1 -1l-1 -1l-1 -0.8l-1.2 -0.8l-1.1 -1l-0.9 -1l-0.9 -1l-0.9 -1.7l-1 -1.3l-0.5 -1l-0.7 -1l-0.7 -2l-0.1 -1l-0.4 -2l0 -2l0.4 -2l0.2 -1l0.6 -2l0.4 -1l0.8 -1.7l0.7 -1.3l0.5 -1l0.8 -2l0.9 -1l0.5 -1l0.6 -1.2l1 -1.1l1 -1.4l0.7 -1.3l0.7 -1l1 -1l1 -1l0.8 -1l1 -1l1.2 -1l0.9 -1l0.9 -1l1.1 -1l1 -1l1.2 -1l1.5 -0.9l1 -0.6l1 -0.9l1 -0.9l1 -0.9l1.2 -0.8l1.2 -1l1 -1l1.1 -1l1.5 -0.8l1 -0.5l1.3 -0.7l1.4 -1l1.3 -0.7l1 -0.7l1 -0.8l1.9 -0.8l1.1 -0.3l1.8 -0.7l1.2 -0.4l2 -0.6l1 0l2 -0.4l2 -0.6l2 0l2 0.2l1 -0.3l2 -0.8l2 -0.1l1.9 0l1.1 0l2 0l1.1 0l1.9 0.2l2 0.6l1.1 0.2l1.9 0.6l1.4 0.4l1.6 0.8l1 0.5l1 0.7l1 1.1l1 0.9l1.2 1l1.1 1l0.9 1l0.8 1.7l0.4 1.3l0.6 2l0.1 1l0.7 2l0.2 2l-0.6 2l-0.4 1.3l-0.7 1.7l-0.3 1l-0.9 2l-0.5 1l-0.6 1.4l-0.8 1.6l-0.4 1l-0.8 1.4l-1 1.1l-1 1.3l-0.6 1.2l-0.5 1l-0.9 1.7l-0.7 1.3l-0.5 1l-0.8 1.5l-0.8 1.5l-0.4 1l-0.8 1.3l-1 1.2l-1 1.2l-0.7 1.3l-0.5 1l-0.8 1.4l-1 1.1l-1 1l-1 1.2l-0.8 1.3l-0.8 1l-1 1l-1 1l-1 1l-1.1 1l-1.3 0.8l-1 0.7l-1 0.8l-1.3 0.7l-1.3 1l-1.4 0.8l-1 0.5l-1.4 0.7l-1.6 0.8l-1 0.5l-1.6 0.7l-1.4 0.4l-2 0.6l-1 0.2l-2 0.6l-2 0.2l-1 0l-2 0.4l-2 0.6zM945.5 201.9l-2 0.1l-1.2 -0.5l-1.8 -0.5l-1.4 -0.5l-1.6 -0.4l-2 -0.6l-1 -0.2l-2 -0.8l-1 -0.4l-1.3 -0.6l-1.7 -0.9l-1 -0.6l-1 -1.1l-1 -1.2l-1 -0.8l-1 -0.6l-1 -0.8l-1 -1.1l-1 -1.9l-0.5 -1l-0.5 -1.2l-0.5 -1.8l-0.5 -2l-0.4 -1l-0.1 -2l0.2 -2l0.4 -1l0.9 -1.5l1 -1.2l0.8 -1.3l0.6 -1l0.7 -1l0.9 -1.8l0.6 -1.2l0.6 -1l0.8 -1.7l0.5 -1.3l0.7 -1l0.9 -1l0.9 -1.2l1 -1.1l1 -1.2l1 -1.3l1 -1.2l1 -0.9l1 -0.7l1.6 -0.4l1.4 -0.2l1.8 -0.8l1 -1l0.8 -1l1 -1l0.9 -1l0.8 -1l0.9 -1l1.5 -1l1.3 -0.4l2 -0.5l1 -0.5l1 -0.6l1.2 -1l1 -1l1.3 -1l1.5 -0.9l1 -0.5l1.4 -0.6l1.6 -0.5l2 -0.3l1.1 -0.2l1.9 0l1 0.2l2 0.5l2 0l2 -0.5l1 -0.3l2 -0.6l1.1 -0.3l1.9 -0.3l2 0.1l1 0.3l2 0.6l1 0.3l1.6 1l1.3 1l1.1 1l1 0.9l1 1l1 0.9l1 1.1l0.4 1.1l0.6 1.5l0.5 1.5l0.5 1.1l0.6 1.9l-0.4 2l-0.3 1l-0.9 2l-0.6 1l-0.8 1l-0.6 1l-1 1.7l-0.6 1.3l-0.7 1l-0.8 1l-0.9 1.5l-0.6 1.5l-0.4 1l-1 1.7l-0.9 1.3l-0.7 1l-0.6 1l-0.8 1.6l-0.5 1.4l-0.5 1.1l-1 1.5l-1 1.4l-0.7 1l-0.7 1l-0.9 1l-1 1l-0.8 1l-0.9 1.5l-0.9 1.5l-0.9 1l-1.1 1l-1.1 0.9l-1 0.7l-1 0.5l-1.3 0.9l-1.7 1l-1 0.6l-1 0.6l-1.3 0.8l-1.5 1l-1.2 0.8l-1 0.7l-1.1 0.5l-1.9 0.7l-1 0.3l-2 0.4l-2 0.2l-2 -0.2l-2 0.5zM944.5 199.6l-1.1 -0.1l-1.9 -0.4l-2 -0.5l-1 -0.3l-2 -0.4l-1.5 -0.4l-1.5 -0.6l-1 -0.5l-1.6 -0.9l-1.3 -1l-1 -1l-0.8 -1l-1 -1l-1.3 -0.8l-1 -0.5l-1.1 -0.7l-0.9 -1.4l-0.6 -1.6l-0.4 -1l-0.4 -2l-0.3 -2l0 -2l0.3 -2l0.4 -1.1l1 -1.8l0.6 -1.1l0.6 -1l0.8 -1.2l1 -1.8l0.5 -1l0.6 -1l0.8 -2l0.4 -1l0.7 -1.1l1 -1.3l1 -1.3l1 -1l1 -1l1 -1l1 -0.8l1 -0.5l2 -0.6l2 -0.4l1 -0.6l1 -1.1l1 -1.3l0.9 -1l0.9 -1l0.9 -1l1 -1l1.3 -0.8l1 -0.3l2 -0.7l1 -0.5l1 -0.9l1 -0.9l1 -1.2l1 -0.9l1.2 -0.8l1.8 -0.9l1 -0.4l2 -0.5l2 -0.2l1 0l1 0l2 0.5l2 0.2l2 -0.2l2 -0.4l1 -0.1l2 -0.4l2 -0.4l2 0.1l2 0.5l1 0.3l1.6 0.9l1.4 1l1 1l0.8 1l0.8 1l0.8 1l0.6 1.2l0.9 1.8l0.5 1l0.6 1.4l0.1 1.6l-0.2 1l-0.7 2l-0.5 1l-0.7 1l-1 1.3l-1 1.5l-0.7 1.2l-0.7 1l-0.8 1l-0.8 1.4l-0.8 1.6l-0.4 1l-0.8 1.6l-0.8 1.4l-0.6 1l-0.6 1l-0.9 2l-0.3 1l-0.8 1.6l-1 1.3l-0.9 1.1l-0.8 1l-0.8 1l-0.9 1l-0.9 1l-0.7 1.1l-0.9 1.9l-0.6 1l-0.9 1l-1.2 1l-1.4 0.8l-1 0.4l-1.9 0.8l-1.1 0.5l-1 0.6l-1.1 0.9l-1.3 1l-1.3 1l-1.3 1l-1 0.6l-1 0.5l-2 0.7l-1.9 0.2l-1.1 0.1l-1.9 -0.1l-1.1 -0.1l-1 0.1l-2 0.8zM945.5 197l-2 0.3l-2 -0.2l-2 -0.5l-1 -0.2l-2 -0.4l-1.8 -0.5l-1.2 -0.6l-1 -0.7l-1 -0.8l-1 -0.9l-1 -1.3l-1 -1.3l-1 -0.9l-1 -0.6l-1.4 -0.9l-0.7 -1l-0.9 -2l-0.2 -1l-0.2 -2l0.2 -2l0.2 -1.1l0.7 -1.9l0.6 -1l0.7 -1.3l1 -1.5l0.7 -1.2l0.5 -1l0.8 -2l0.3 -1l0.7 -1.8l0.7 -1.2l0.7 -1l0.7 -1l1.1 -1l1.3 -1l1.5 -0.9l1 -0.5l1.5 -0.6l1.5 -0.5l1.1 -0.5l1.4 -1l1 -1l0.7 -1l0.9 -1l0.9 -1.1l1 -1.2l1 -0.9l1.3 -0.8l1.7 -0.6l1 -0.5l1.3 -0.9l1 -1l1 -1l0.8 -1l1.3 -1l1.6 -0.9l1 -0.3l2 -0.3l2 0l2 -0.1l2 0.3l2 0l2 -0.3l2 -0.3l2 -0.1l1 -0.1l2 -0.2l2 0.2l1 0.2l2 0.7l1 0.6l1 0.8l1 1.2l1 1.4l0.8 1.2l0.5 1l0.7 1.4l0.6 1.6l-0.3 2l-0.3 1l-1 1.8l-0.9 1.2l-0.6 1l-0.5 1l-1 1.6l-0.9 1.4l-0.6 1l-0.6 1l-0.9 1.9l-0.5 1.1l-0.6 1l-0.9 1.6l-0.7 1.4l-0.4 1l-0.7 2l-0.5 1l-0.7 1.1l-1 1.1l-1 1.1l-1 1.1l-1 1.2l-1 1.1l-0.8 1.3l-0.4 1l-0.8 1.5l-1 1.1l-1 0.8l-1.8 0.6l-1.2 0.3l-1.9 0.7l-1.1 0.8l-1 1l-1 1l-1 0.9l-1 0.9l-1 0.7l-1.1 0.7l-1.9 0.7l-2 0.1l-2 0l-2 -0.2l-2 0.4zM945.5 194.8l-2 0.5l-2 -0.2l-2 -0.4l-1 -0.3l-2 -0.4l-1.5 -0.5l-1.5 -0.9l-1 -0.8l-1 -0.9l-1 -1.4l-0.6 -1l-0.8 -1l-1 -1l-1.1 -1l-0.7 -1l-0.8 -1.6l-0.2 -1.4l0.2 -1.5l0.4 -1.5l0.6 -1.3l0.9 -1.7l0.6 -1l0.6 -1l0.9 -1.6l0.7 -1.4l0.4 -1l0.6 -2l0.4 -1l0.9 -1.4l1 -1.2l1 -0.8l1 -0.6l1.7 -1l1.3 -0.7l1 -0.5l1.5 -0.8l1.5 -0.8l1 -0.9l1 -1l1 -1.2l1 -1.1l0.8 -1l0.8 -1l1.2 -1l1.2 -0.6l1 -0.4l1.6 -1l1.1 -1l1 -1l1 -1l1.3 -1l1 -0.5l2 -0.3l2 0.1l2 0l1.7 -0.3l1.3 -0.1l2 -0.2l2 -0.3l2 -0.4l2 0l1.6 0l1.4 0l1 0.1l2 0.5l1.2 0.4l1.5 1l1 1l0.7 1l0.6 1.2l0.7 1.8l-0.2 2l-0.5 1.7l-0.5 1.3l-0.5 1l-0.9 2l-0.5 1l-0.6 1l-1 1.5l-0.9 1.5l-0.6 1l-0.5 1l-1 2l-0.5 1l-0.6 1l-0.7 2l-0.3 1l-0.9 2l-0.8 1l-0.9 1l-1.1 1l-1 1l-0.9 1l-1 1l-0.8 1l-0.6 1l-0.9 1.7l-1 1l-1 0.6l-1.7 0.7l-1.3 0.6l-1 0.6l-1 0.8l-1 1.1l-1 1.1l-1 1l-1 0.9l-1.2 0.9l-1.8 0.7l-2 0.2l-2 -0.2l-2 -0.2l-2 0.3zM953.5 192.5l-1 0l-2 -0.3l-2 -0.2l-2 0.3l-1 0.4l-2 0.5l-2 -0.1l-2 -0.5l-1 -0.2l-2 -0.6l-1 -0.4l-1.4 -0.9l-1.3 -1l-0.8 -1l-0.6 -1l-0.9 -1.4l-1 -1.2l-1 -1.1l-0.8 -1.3l-0.3 -1l0.1 -1.1l0.5 -1.9l0.5 -1l1 -2l0.6 -1l0.7 -1l0.7 -1l1 -1.7l0.6 -1.3l0.4 -1l1 -1.7l1 -1.2l1 -0.8l1 -0.7l1 -0.7l1.4 -0.9l1.5 -1l1.1 -0.6l1 -0.7l1 -0.8l1 -1l1 -1l1 -0.9l1 -1.1l1 -1.2l1 -0.9l1.4 -0.8l1.6 -0.9l1 -0.8l1 -1l1 -1l1 -0.8l1 -0.5l2 -0.4l2 -0.1l2 0l2 -0.4l1 -0.1l2 -0.3l2 -0.4l1.5 -0.3l1.5 -0.1l1.8 0.1l1.2 0.1l2 0.3l1.8 0.6l1.2 0.6l1 0.8l1 1.6l0.1 1l-0.2 1l-0.5 2l-0.4 1.2l-0.5 1.8l-0.5 1.3l-1 1.6l-0.9 1.1l-0.9 1l-0.7 1l-0.5 1l-0.9 2l-0.3 1l-0.8 2l-0.3 1l-0.6 2l-0.4 1l-0.7 1l-1 1.1l-1.1 0.9l-1 1l-0.9 1.1l-1 1l-1 1l-1 1.2l-1 1.4l-1 1.1l-1 0.8l-1 0.7l-1 0.7l-1.3 1l-1 1l-0.9 1l-0.9 1l-0.9 1l-1.2 1l-1.8 0.8zM953.5 190.6l-1.2 -0.1l-1.8 -0.4l-2 -0.3l-2 0.3l-1 0.4l-2 0.6l-2 -0.2l-1.5 -0.4l-1.5 -0.5l-1.3 -0.5l-1.7 -0.9l-1 -0.6l-1 -0.8l-1 -1.4l-0.9 -1.3l-0.9 -1l-0.8 -1l-0.5 -1l0.1 -1.3l0.5 -1.7l0.5 -1.2l0.9 -1.8l0.7 -1l0.9 -1l0.7 -1l0.8 -1.2l1 -1.7l0.9 -1.1l0.9 -1l1.2 -1l1 -0.7l1 -0.7l1 -0.8l1 -0.9l1.1 -0.9l1.2 -1l1.1 -1l1.1 -1l1.4 -1l1.1 -0.8l1 -1l1 -1.1l1 -0.8l1 -0.6l1 -0.8l1 -0.9l1 -1.1l1 -0.9l1.5 -1l1.5 -0.5l2 -0.2l2 -0.1l1.5 -0.2l1.5 -0.2l2 -0.2l2 -0.3l1.4 -0.3l1.6 -0.1l1.4 0.1l1.6 0.3l1.5 0.7l1.5 0.9l1 0.7l0.2 1.4l-0.2 1l-0.7 2l-0.3 1.1l-1 1.7l-1 1.1l-0.9 1.1l-0.8 1l-0.5 1l-0.8 2l-0.3 1l-0.5 2l-0.2 1l-0.5 2l-0.5 1.4l-1 1.4l-1 1l-1 0.9l-1 1.3l-0.7 1l-0.8 1l-1 1l-0.9 1l-0.9 1l-0.8 1l-1.1 1l-1.4 1l-1.2 1l-1.1 1l-0.9 1l-0.8 1l-0.9 1l-1 1l-1.5 0.9zM943.5 188.6l-1 -0.1l-2 -0.5l-1.4 -0.5l-1.6 -0.6l-1 -0.5l-1.5 -0.9l-0.9 -1l-0.9 -1l-0.9 -1l-0.8 -1.2l0 -1.2l0.5 -1.6l0.5 -1.3l1 -1.6l0.9 -1.1l0.8 -1l0.7 -1l0.7 -1l0.9 -1l1 -1l1.5 -1l1.5 -0.9l1 -0.8l1 -1l1 -1.2l1 -1.1l0.9 -1l1.1 -1l1 -0.7l1 -0.6l1.2 -0.7l1.3 -1l1.1 -1l1.2 -1l1.2 -1l0.9 -1l0.8 -1l0.9 -1l1.2 -1l1.2 -0.6l1.9 -0.4l1.1 -0.1l2 -0.1l2 -0.2l2 -0.1l2 -0.2l2 -0.3l1 0l1 0.1l2 0.8l1 0.8l0.6 1.3l-0.6 1.8l-0.7 1.2l-0.8 1l-0.8 1l-0.7 1l-1 1.8l-0.5 1.2l-0.5 1.3l-0.6 1.7l-0.4 1.3l-0.5 1.7l-0.5 1.8l-0.7 1.2l-0.9 1l-0.9 1l-0.7 1l-0.8 1.5l-1 1.5l-0.9 1l-0.9 1l-1 1l-1.1 1l-1.1 0.8l-1 0.6l-1 0.7l-1.4 0.9l-1.1 1l-0.8 1l-0.8 1l-1 1l-1.9 0.4l-1.8 -0.4l-1.2 -0.2l-2 0.1l-1 0.2l-2 0.8zM944.5 185.7l-2 -0.2l-1 -0.2l-2 -0.4l-1.4 -0.4l-1.6 -0.7l-1 -0.9l-1 -1l-0.8 -1.4l0.5 -2l0.5 -1l0.8 -1.2l1 -1.3l1 -1.5l0.8 -1l1.1 -1l1.1 -0.7l1 -0.5l1.3 -0.8l1.2 -1l0.9 -1l0.8 -1l0.8 -1.1l1 -1.3l1 -1l1 -0.7l1.6 -0.9l1.4 -0.7l1 -0.7l1 -0.7l1.3 -0.9l1.1 -1l0.9 -1l0.7 -1.1l1 -1.3l1 -0.9l1.8 -0.7l1.2 -0.1l2 -0.1l2 -0.2l2 0.1l2 0l2 -0.2l2 0.3l1 0.9l0 0.5l-1 1.6l-0.9 1.2l-0.7 1l-0.6 1l-0.8 1.5l-0.7 1.5l-0.5 1l-0.8 1.8l-0.5 1.2l-0.5 1.2l-0.7 1.8l-0.6 1l-0.7 1.1l-1 1.9l-0.4 1l-0.6 1.2l-1 1.3l-1 1l-1 0.9l-1 0.8l-1.3 0.8l-1.7 0.8l-1 0.5l-1.4 0.7l-1.6 0.9l-1 0.7l-1 0.5l-2 0.7l-1 0.2l-2 0.5l-2 0.4z" fill="none" stroke="#5c5c5c" stroke-width="0.9"/>
</g>
<rect x="826" y="16.5" width="295" height="293.5" fill="none" stroke="#000" stroke-width="2.5"/>
<path d="M828 310v8.5M889 310v8.5M959 310v8.5M1028 310v8.5M1092 310v8.5M1113 310v5M910.1 310v4M922.4 310v4M931.1 310v4M937.9 310v4M943.5 310v4M948.2 310v4M952.2 310v4M955.8 310v4M979.8 310v4M991.9 310v4M1000.5 310v4M1007.2 310v4M1012.7 310v4M1017.3 310v4M1021.3 310v4M1024.8 310v4M1047.3 310v4M1058.5 310v4M1066.5 310v4M1072.7 310v4M1077.8 310v4M1082.1 310v4M1085.8 310v4M1089.1 310v4M834 310v4M839 310v4M843 310v4M847 310v4M850 310v4M853 310v4M856 310v4M864 310v4M870 310v4M875 310v4M879 310v4M883 310v4M886 310v4M914 310v4M930 310v4M941 310v4M826 308h-8.5M826 247h-8.5M826 177h-8.5M826 108h-8.5M826 44h-8.5M826 225.9h-4M826 213.6h-4M826 204.9h-4M826 198.1h-4M826 192.5h-4M826 187.8h-4M826 183.8h-4M826 180.2h-4M826 156.2h-4M826 144.1h-4M826 135.5h-4M826 128.8h-4M826 123.3h-4M826 118.7h-4M826 114.7h-4M826 111.2h-4M826 88.7h-4M826 77.5h-4M826 69.5h-4M826 63.3h-4M826 58.2h-4M826 53.9h-4M826 50.2h-4M826 46.9h-4M826 302h-4M826 297h-4M826 293h-4M826 289h-4M826 286h-4M826 283h-4M826 280h-4M826 272h-4M826 266h-4M826 261h-4M826 257h-4M826 253h-4M826 250h-4M826 222h-4M826 206h-4M826 195h-4" stroke="#000" stroke-width="1.7" fill="none"/>
<path d="M854 310v7M826 280h-7" stroke="#000" stroke-width="3.5" fill="none"/>
<rect x="929.5" y="98.5" width="156.5" height="98" fill="none" stroke="#000" stroke-width="1.9"/>
<path d="M927 98.5h5M929.5 96v5M1083.5 98.5h5M1086 96v5M1083.5 196.5h5M1086 194v5M927 196.5h5M929.5 194v5" stroke="#000" stroke-width="1.6"/>
<path d="M826 206.5H920V310" stroke="#000" stroke-width="1.9" fill="none"/>
<text x="1054" y="91" font-size="18" font-weight="bold" text-anchor="middle">85.1</text>
<text x="830.5" y="305.5" font-size="18" font-weight="bold">0.63</text>
<text x="811.5" y="163" font-size="18.5" font-weight="bold" text-anchor="middle" transform="rotate(-90 811.5 163)">CXCR5</text>
<text x="972" y="337" font-size="18.5" font-weight="bold" text-anchor="middle">PD-1</text>
<clipPath id="c4"><rect x="826" y="343" width="294.5" height="294"/></clipPath>
<g clip-path="url(#c4)">
<defs><path id="k11" d="M777 281.5h1M720 308.5h1M799 322.5h1M641 330.5h1m72 0h1M696 343.5h1M701 375.5h1M678 386.5h1M678 387.5h1M642 388.5h1m15 0h1M686 392.5h1M683 393.5h1m1 0h1M690 395.5h1M631 396.5h1M632 397.5h1M620 398.5h1M613 399.5h1M756 401.5h1M691 406.5h1M690 407.5h1M691 410.5h1M706 412.5h1M700 417.5h1M692 418.5h1M691 422.5h1M614 437.5h1m70 0h2M707 444.5h1M827 446.5h1M613 450.5h1M677 451.5h1M624 455.5h1M680 459.5h1M649 463.5h1m82 0h1M648 464.5h1M626 469.5h1M640 470.5h1"/><path id="k12" d="M719 342.5h1M808 367.5h1M674 370.5h1M643 385.5h1m35 0h1m2 0h1M653 386.5h1m26 0h1M651 387.5h1M652 388.5h1M651 389.5h1M646 390.5h1M692 391.5h1M635 393.5h1M624 394.5h1m59 0h1M623 395.5h1M618 396.5h1M689 399.5h2M689 400.5h1M624 403.5h1M620 407.5h1M739 408.5h1M616 410.5h1M617 413.5h1m73 0h1M689 426.5h3M695 428.5h1M687 432.5h1M693 436.5h1M692 437.5h1M690 446.5h1M624 450.5h1M626 451.5h1m55 0h1M624 452.5h2M622 453.5h1m1 0h2M688 454.5h1M674 455.5h2M627 456.5h1M628 457.5h1m59 0h1M632 458.5h1m44 0h1M678 460.5h1m7 0h1M640 461.5h1m37 0h1M641 462.5h1m22 0h3m11 0h1M651 463.5h1m11 0h1m1 0h1M652 464.5h1m7 0h1m20 0h1M616 465.5h1M647 466.5h1M644 467.5h1M766 469.5h1M664 470.5h1M662 471.5h1"/></defs>
<g transform="scale(1.35)" fill="none">
<g stroke-width="1"><use href="#k12" stroke="#aaa"/><use href="#k11" stroke="#555"/></g>
</g>
<path d="M812 570l2.1 -1.3l2.6 -0.4l2.9 -0.1l2.9 -0.3l2.6 -0.8l2.4 -1.2l2.1 -1.6l2 -1.7l1.9 -1.9l1.7 -2.1l1.7 -2.1l1.6 -2.1l1.5 -2.3l1.5 -2.2l1.5 -2.1l1.8 -2l1.8 -1.9l2.1 -1.7l2.2 -1.5l2.2 -1.5l2.3 -1.4l2.3 -1.5l2.3 -1.3l2.3 -1.3l2.4 -1.2l2.4 -1.1l2.5 -1l2.5 -0.8l2.5 -0.7l2.6 -0.6l2.7 -0.6l2.6 -0.5l2.7 -0.4l2.6 -0.4l2.7 -0.3l2.6 -0.3l2.7 -0.2l2.6 -0.1l2.7 0l2.6 0.2l2.7 0.2l2.6 0.5l2.6 0.6l2.6 0.7l2.6 1l2.5 1.1l2.3 1.4l2.2 1.6l1.9 1.8l1.5 2.1l1.3 2.3l0.9 2.6l0.8 2.6l0.6 2.7l0.5 2.6l0.3 2.7l0.3 2.7l0.1 2.6l0 2.7l0 2.6l-0.2 2.7l-0.3 2.6l-0.5 2.6l-0.4 2.7l-0.6 2.6l-0.6 2.6l-0.7 2.6l-0.8 2.5l-0.8 2.6l-0.9 2.5l-0.9 2.5l-1 2.5l-1 2.4l-1.2 2.4l-1.2 2.4l-1.3 2.4l-1.4 2.2l-1.5 2.2l-1.6 2.1l-1.7 2.1l-1.9 1.9l-2 1.8l-2 1.7l-2.2 1.6l-2.3 1.4l-2.3 1.3l-2.4 1.1l-2.6 1l-2.5 0.7l-2.7 0.6l-2.6 0.4l-2.7 0.2l-2.7 0l-2.6 -0.2l-2.6 -0.5l-2.6 -0.6l-2.6 -0.8l-2.5 -1l-2.5 -1.1l-2.4 -1.1l-2.4 -1.2l-2.3 -1.3l-2.3 -1.3l-2.3 -1.5l-2.2 -1.4l-2.1 -1.6l-2.1 -1.6l-2.1 -1.7l-2.1 -1.7l-2 -1.7l-2.1 -1.7l-2.1 -1.7l-1.9 -1.7l-1.9 -1.9l-1.6 -2.2l-1.3 -2.5l-1 -2.7l-0.9 -2.9l-1 -2.6l-1.3 -2.2l-1.8 -1.4l-2.5 -0.5l-2.9 0.1l-3 0.1l-2.8 -0.2l-2.3 -1l-1.4 -2.1l-0.6 -2.9l0.4 -3z" fill="#fff"/>
<path d="M901.5 552l-2 0l-1 -1l0 -1l1 -1l2 0l1 1l0 1z" fill="#858585"/>
<path d="M900.5 606l-1.5 -0.5l-1 -1l0 -2l0 -2l0 -2l0 -2l0 -2l0 -2l0 -2l0 -2l0 -2l0 -2l1 -1l0 -2l1 -1l0 -2l1 -1l0 -2l1 -1l1 -1l0.5 -1.5l0.5 -1.5l1 -1l1 -1l0.5 -1.5l0.5 -1.5l1 -1l0 -2l0 -2l0 -2l0 -2l0 -2l-0.5 -1.5l-1 -1l-1 -1l0 -1l1 -1l2 0l2 0l2 0l2 0l2 0l1.5 0.5l1 1l1 1l0 2l0 2l0 2l0.5 1.5l0 1l-0.5 1.5l0 2l0 2l0 2l-1 1l0 2l-0.5 1.5l-0.5 1.5l0 2l-0.5 1.5l-1 1l-1 1l-0.5 1.5l0 2l-1 1l0 2l0 2l0 2l-1 1l-0.5 1.5l-1 1l-1 1l-1 1l-0.5 1.5l-1 1l-1 1l-0.5 1.5l-0.5 1.5l-0.5 1.5l-1 1l-1.5 0.5l-1.5 0.5z" fill="#858585"/>
<path d="M917.5 550l-2 0l-1.5 -0.5l-1 -1l-0.5 -1.5l-1 -1l-2 0l-2 0l-2 0l-2 0l-2 0l-2 0l-2 0l-1 1l-1.5 0.5l-1.5 0.5l-2 0l-1 1l-1.5 0.5l-1.5 0.5l-2 0l-2 0l-1.5 -0.5l-1 -1l1 -1l1 -1l1 -1l1 -1l1.5 -0.5l1 -1l1 -1l1.5 -0.5l1.5 -0.5l1.5 -0.5l1.5 -0.5l2 0l2 0l2 0l2 0l2 0l1 1l2 0l2 0l2 0l2 0l1.5 0.5l1 1l1 1l1 1l0 2l1 1l-0.5 1.5z" fill="#999"/>
<path d="M882.5 599l-1 -1l-1.5 -0.5l-1 -1l-1 -1l-1.5 -0.5l-1 -1l-0.5 -1.5l-1 -1l-1 -1l-1 -1l-1 -1l-1.5 -0.5l-1 -1l-1 -1l-1 -1l-1 -1l-0.5 -1.5l-1 -1l-1 -1l-0.5 -1.5l-0.5 -1.5l1 -1l0 -2l1 -1l0 -2l1 -1l1 -1l1 -1l1 -1l1 -1l1 -1l0.5 -1.5l1 -1l1 -1l1 -1l2 0l2 0l1 1l0 1l-1 1l-1 1l-1 1l-0.5 1.5l-0.5 1.5l-0.5 1.5l-1 1l-0.5 1.5l-1 1l-0.5 1.5l-1 1l0 2l0.5 1.5l0.5 1.5l1 1l1 1l1 1l1 1l1 1l1 1l1 1l0.5 1.5l1 1l1.5 0.5l1 1l1 1l1 1l0 2l-0.5 1.5z" fill="#b5b5b5"/>
<path d="M812 570l2.1 -1.3l2.6 -0.4l2.9 -0.1l2.9 -0.3l2.6 -0.8l2.4 -1.2l2.1 -1.6l2 -1.7l1.9 -1.9l1.7 -2.1l1.7 -2.1l1.6 -2.1l1.5 -2.3l1.5 -2.2l1.5 -2.1l1.8 -2l1.8 -1.9l2.1 -1.7l2.2 -1.5l2.2 -1.5l2.3 -1.4l2.3 -1.5l2.3 -1.3l2.3 -1.3l2.4 -1.2l2.4 -1.1l2.5 -1l2.5 -0.8l2.5 -0.7l2.6 -0.6l2.7 -0.6l2.6 -0.5l2.7 -0.4l2.6 -0.4l2.7 -0.3l2.6 -0.3l2.7 -0.2l2.6 -0.1l2.7 0l2.6 0.2l2.7 0.2l2.6 0.5l2.6 0.6l2.6 0.7l2.6 1l2.5 1.1l2.3 1.4l2.2 1.6l1.9 1.8l1.5 2.1l1.3 2.3l0.9 2.6l0.8 2.6l0.6 2.7l0.5 2.6l0.3 2.7l0.3 2.7l0.1 2.6l0 2.7l0 2.6l-0.2 2.7l-0.3 2.6l-0.5 2.6l-0.4 2.7l-0.6 2.6l-0.6 2.6l-0.7 2.6l-0.8 2.5l-0.8 2.6l-0.9 2.5l-0.9 2.5l-1 2.5l-1 2.4l-1.2 2.4l-1.2 2.4l-1.3 2.4l-1.4 2.2l-1.5 2.2l-1.6 2.1l-1.7 2.1l-1.9 1.9l-2 1.8l-2 1.7l-2.2 1.6l-2.3 1.4l-2.3 1.3l-2.4 1.1l-2.6 1l-2.5 0.7l-2.7 0.6l-2.6 0.4l-2.7 0.2l-2.7 0l-2.6 -0.2l-2.6 -0.5l-2.6 -0.6l-2.6 -0.8l-2.5 -1l-2.5 -1.1l-2.4 -1.1l-2.4 -1.2l-2.3 -1.3l-2.3 -1.3l-2.3 -1.5l-2.2 -1.4l-2.1 -1.6l-2.1 -1.6l-2.1 -1.7l-2.1 -1.7l-2 -1.7l-2.1 -1.7l-2.1 -1.7l-1.9 -1.7l-1.9 -1.9l-1.6 -2.2l-1.3 -2.5l-1 -2.7l-0.9 -2.9l-1 -2.6l-1.3 -2.2l-1.8 -1.4l-2.5 -0.5l-2.9 0.1l-3 0.1l-2.8 -0.2l-2.3 -1l-1.4 -2.1l-0.6 -2.9l0.4 -3zM889.5 621.7l-2 0.4l-2 -0.3l-2 -0.2l-2 0.2l-2 0.1l-1.2 -0.4l-1.3 -1l-0.8 -1l-0.7 -1l-1 -1.1l-1.2 -0.9l-1 -1l-0.9 -1l-1.1 -1l-1.8 -0.9l-1 -0.3l-1.8 -0.8l-1.2 -0.4l-1.7 -0.6l-1.3 -0.7l-1 -0.7l-1 -0.7l-1.3 -0.9l-1.7 -0.6l-2 -0.1l-1.7 -0.3l-1.3 -0.5l-1 -0.8l-1 -1.3l-1 -1.1l-1 -0.8l-1 -0.8l-1 -0.8l-1.7 -0.9l-1.3 -0.6l-1 -0.4l-1.5 -1l-0.9 -1l-0.8 -1l-0.8 -1.5l-0.6 -1.5l-0.4 -1.1l-0.6 -1.9l-0.6 -1l-0.8 -1.1l-0.9 -1.9l-0.3 -1l-0.8 -2l-0.7 -1l-0.7 -1l-0.5 -2l-0.2 -1l-0.9 -1.1l-2 -0.4l-2 0.1l-2 0.1l-2 -0.5l-0.7 -1.2l1 -1l1.3 -1l1.4 -0.8l1 -0.3l2 -0.7l1 -0.7l1 -1l1.1 -0.5l1.8 -1l1.1 -0.5l1 -0.5l1.2 -1l0.8 -1l1 -1.8l0.7 -1.2l0.7 -1l0.6 -1.1l1 -1.2l1.1 -0.7l1.8 -1l1 -1l0.9 -1l0.7 -1l0.5 -1.4l0.8 -1.6l0.2 -1l1 -1.3l2 -0.4l1.5 -0.3l1.5 -0.9l1 -1.1l0.9 -1l0.6 -1l0.5 -1l1 -1.7l1 -0.7l1 -0.9l1 -0.9l1.7 -0.8l1.3 -0.4l1.7 -0.6l1.3 -0.5l1 -0.5l2 -0.7l1 -0.4l2 -0.3l2 0.3l2 -0.9l1 -0.4l2 -0.4l2 0l2 0.3l1.3 -0.5l1.7 -1l1 -0.8l1 -0.6l2 -0.5l1 -0.3l1.8 -0.8l1.2 -0.2l2 -0.1l2 -0.1l2 -0.1l2 -0.1l2 0l2 0.6l1 0.2l2 0l2 0.6l1 0.3l2 0.7l1 0.5l1.9 0.7l1.1 0.3l1 0.8l1.5 0.9l1.3 1l1 1l1 1l0.8 1l0.4 1l0.7 2l0.5 1l0.8 1.8l0.3 1.2l0.7 1.9l0.1 1.1l0.6 2l0.3 1l0.1 2l0 2l0 2l0.7 2l0.2 1l-0.2 1l-0.6 2l-0.1 2l0 2l-0.1 2l-0.2 1l-0.7 2l-0.1 1.2l-0.5 1.8l-0.4 2l-0.1 1.2l-0.6 1.8l-0.4 1.4l-0.6 1.6l-0.4 2l-0.2 1l-0.8 1.7l-0.6 1.3l-0.4 1.2l-0.7 1.8l-0.5 1l-0.8 2l-0.3 1l-0.7 1.5l-1 1.4l-0.7 1.1l-0.3 1l-1 1.8l-0.7 1.2l-0.6 1l-0.9 1l-0.9 1l-0.9 1.4l-1 1.4l-1 0.9l-1 1l-1 0.8l-1 0.8l-1 0.8l-1 1.1l-1 1.1l-1.1 0.7l-1.3 1l-1.5 1l-1.1 0.5l-1.2 0.5l-1.8 0.7l-1.8 0.3l-0.4 0l-1.2 0l-1.6 0.7l-2 0.2zM899.5 617.5l-1.4 0l-1.6 -0.4l-2 -0.3l-2 -0.1l-2 0.2l-2 0.1l-2 0l-2 -0.4l-1 -0.2l-2 -0.4l-1.3 -0.5l-1.7 -0.9l-1 -0.6l-1 -0.6l-1.8 -0.9l-1.2 -1l-0.9 -1l-1 -1l-1.1 -0.8l-1 -0.3l-2 -0.6l-2 -0.3l-1 -0.2l-2 -0.8l-1 -0.7l-1 -0.9l-1 -0.9l-1 -0.6l-2 -0.6l-1.8 -0.3l-1.2 -0.3l-1.1 -0.7l-1.2 -1l-1.5 -1l-1.2 -1l-1 -0.9l-1 -1l-1 -1l-1 -0.9l-1 -1.2l-0.4 -1l-0.6 -2l-0.2 -1l-0.5 -2l-0.4 -1l-0.9 -1.7l-0.3 -1.3l0.2 -2l0.1 -1l0 -1l-0.9 -2l-0.8 -1l-0.8 -1l0.1 -2l0.6 -1l0.8 -1.3l1 -1.7l0.6 -1l0.8 -1l1.6 -0.9l1 -0.3l1.6 -0.8l0.9 -1l0.6 -1l0.7 -2l0.2 -1l0.5 -2l0.6 -1l0.9 -1l1.1 -1l1.1 -1l1.1 -1l1 -1l0.8 -1l0.9 -1.6l1 -1.4l0.6 -1l0.5 -1l0.9 -2l0.7 -1l0.9 -1l1.2 -1l1.2 -0.3l2 0.1l2 0l2 -0.4l1 -0.4l2 -0.8l1 -0.4l2 -0.5l1.1 -0.3l1.9 -0.5l2 0l2 -0.3l1.1 -0.2l1.9 -1l1 -1l0.9 -1l1 -1l1.1 -0.7l1 -0.4l2 -0.8l1 -0.4l2 -0.3l2 -0.1l2 -0.3l1 -0.1l2 -0.1l2 0.1l1 0.3l2 0.2l2 0.1l1.8 0.5l1.2 0.4l1.4 0.6l1.6 0.8l1 0.3l1.5 0.9l1.2 1l1.1 1l0.9 1l0.9 1l0.5 1l0.9 2l0.5 1l0.5 1.2l0.5 1.8l0.5 2l0 1l0.3 2l-0.1 2l-0.2 2l0.3 2l0.7 1.7l0.9 1.3l0.2 1l-0.1 1.1l0 1.9l0 1l0 1.4l0 1.6l-0.5 2l-0.4 2l-0.1 1.4l-0.5 1.6l-0.3 2l-0.2 1.5l-0.6 1.5l-0.4 1l-0.9 2l-0.3 1l-0.5 2l-0.5 1l-0.8 1.6l-0.8 1.4l-0.7 1l-0.8 1l-0.6 2l-0.2 1l-0.7 2l-0.7 1l-0.5 1.5l-0.4 1.5l-0.6 1.1l-1 1.9l-1 1l-0.9 1l-0.5 1l-0.6 1.1l-1 1l-1.6 0.9l-1.4 0.5l-1.7 0.5l-1.3 0.8l-1 1.2l-0.6 1l-0.4 1l-1 2l-1 0.6zM897.5 612.7l-2 0l-2 -0.1l-2 0l-2 -0.1l-2 0.2l-2 0.2l-2 0.1l-2 -0.2l-1 -0.4l-1.9 -0.9l-1.1 -0.6l-1 -0.6l-1.1 -0.8l-0.9 -1.2l-1 -1.6l-1 -1.1l-1 -0.6l-1.7 -0.5l-1.3 -0.2l-2 -0.2l-2 -0.4l-1 -0.7l-1 -1.3l-0.8 -1.2l-1.2 -1l-1 -0.5l-1.5 -0.5l-1.5 -0.5l-1 -0.7l-1 -1.1l-1 -1.5l-0.6 -1.2l-0.4 -1.3l-0.7 -1.7l-0.6 -1l-1.2 -1l-1.5 -0.7l-1 -1.1l-0.5 -1.2l-0.5 -1.2l-0.6 -1.8l-0.4 -1.7l-0.2 -1.3l-0.3 -2l-0.3 -2l0.8 -1l1.3 -1l0.9 -1l0.8 -1.5l0.5 -1.5l0.5 -1.2l0.7 -1.8l0.5 -1l0.8 -1.4l0.6 -1.6l0.4 -1.4l0.6 -1.6l0.7 -1l0.9 -1l1.1 -1l1.2 -1l1.1 -1l1.2 -1l1.2 -0.8l1 -0.6l1 -0.7l1.1 -0.9l1.3 -1l1.4 -1l1.2 -0.6l1 -0.4l1.6 -1l1.3 -1l1.1 -0.9l1 -0.7l1 -0.6l2 -0.6l1 -0.3l2 -0.6l1.1 -0.3l1.9 -0.8l1 -0.3l2 -0.9l1 -0.6l1 -0.8l1 -0.9l1 -0.8l1.7 -0.9l1.3 -0.5l1.3 -0.5l1.7 -0.3l2 0l2 -0.2l2 -0.3l2 0.1l2 0.5l2 -0.3l2 -0.1l2 0.4l1 0.6l1 0.7l1.3 0.9l1.5 1l1.2 0.7l1 0.6l1 0.8l1 1.2l0.8 1.7l0.5 1l0.5 2l0.2 1l0.4 2l0.3 2l0.1 2l-0.2 2l0.2 2l0.2 1.1l0.6 1.9l0 2l0.2 2l0.2 1.2l0.3 1.8l-0.1 2l-0.3 1l-0.2 2l-0.6 2l-0.3 1l-0.3 2l-0.5 1.1l-0.9 1.9l-0.6 1l-0.7 1l-0.6 2l-0.5 1l-0.7 1.5l-0.4 1.5l-0.6 1.5l-0.7 1.5l-0.5 1l-0.7 2l-0.5 1l-0.8 1l-0.8 1.3l-0.6 1.7l-0.5 1l-0.9 1.9l-0.8 1.1l-0.6 1l-0.6 1.5l-0.9 1.5l-1.1 0.7l-1 0.4l-2 0.6l-1 0.4l-1.7 0.9l-1.3 0.9l-1 0.9l-1 1zM893.5 609.6l-2 0.1l-2 0l-2 -0.1l-2 0.3l-2 0.2l-2 0l-1.8 -0.6l-1.2 -0.6l-1 -0.6l-1 -0.9l-1 -1.9l-0.5 -1l-0.6 -1l-1 -1l-1.6 -1l-1.3 -0.7l-1 -0.5l-1.6 -0.8l-1.2 -1l-0.8 -1l-1 -1l-1.3 -1l-1.1 -0.6l-1 -0.5l-1.9 -0.9l-1.1 -1l-0.8 -1l-0.7 -1l-0.7 -1l-0.8 -1.1l-1 -1.1l-1 -0.9l-1.1 -0.9l-1 -1l-0.9 -1.2l-1 -1.4l-0.7 -1.4l-0.3 -2l0.4 -2l0.6 -1.1l1 -1.6l0.5 -1.3l0.5 -1.5l0.5 -1.5l0.5 -1.1l1 -1.6l1 -1.2l0.8 -1.1l0.6 -1l0.6 -1.1l1 -1.5l1 -1.3l1 -0.9l1 -0.8l1 -0.9l1 -0.8l1 -0.8l1 -0.9l1.2 -1l1.5 -1l1.3 -0.9l1 -0.7l1 -0.7l1 -0.9l1 -1l1 -1l1.1 -0.8l1.9 -0.7l2 0l1.6 -0.3l1.4 -0.7l1 -0.9l1 -0.9l1 -0.6l1.7 -0.9l1.3 -0.8l1 -0.7l1 -0.6l2 -0.8l1 -0.3l2 -0.6l1 -0.3l2 -0.1l2 -0.3l2 -0.3l2 0.4l1 0.4l2 0.3l1.5 -0.3l1.5 -0.1l1.2 0.1l1.8 0.9l1 0.5l1.4 0.6l1.6 0.8l1 0.5l1 1.1l0.9 1.6l0.4 1l0.4 2l0.3 1.3l0.2 1.7l0.4 2l0 2l0.1 2l0.3 2l0.2 1l0.2 2l-0.2 2l0.2 2l0.2 2l-0.3 2l-0.3 1.6l-0.4 1.4l-0.6 1.5l-0.3 1.5l-0.4 2l-0.4 1l-0.9 1.5l-1 1.2l-0.7 1.3l-0.3 1.1l-0.6 1.9l-0.2 2l-0.2 1.3l-0.5 1.7l-0.5 1.3l-0.7 1.7l-0.6 1l-1 1l-0.9 1l-0.8 1l-1 1.4l-0.8 1.6l-0.5 1l-0.7 1.8l-0.4 1.2l-0.6 1l-1.4 1l-1.6 0.7l-1 0.4l-2 0.8l-1 0.4l-1.9 0.7l-1.1 0.5l-2 0.4zM894.5 606.7l-2 0.4l-2 0l-2 -0.3l-2 -0.2l-2 0.2l-2 0.2l-2 -0.2l-1 -0.4l-1.3 -0.9l-0.7 -1.1l-0.7 -1.9l-0.5 -1l-0.8 -1.2l-1 -1l-1 -0.9l-1 -1l-1.1 -0.9l-1.9 -0.9l-1 -0.6l-1 -0.7l-1 -0.8l-1.2 -1l-1 -1l-0.9 -1l-0.9 -1.3l-0.9 -1.7l-0.8 -1l-0.9 -1l-1 -1l-1.2 -1l-1.2 -0.7l-1 -0.4l-1.1 -0.9l-0.9 -1.1l-0.8 -1.9l-0.1 -2l0.9 -2l0.2 -1l0.6 -2l0.5 -1l0.7 -1l1.1 -1l1.2 -1l1 -1l1 -1l0.9 -1l0.9 -1l0.9 -1.3l1 -1.4l0.8 -1.3l0.7 -1l0.8 -1l0.9 -1l1.3 -1l1.5 -1l1 -0.6l1 -0.8l1 -1.1l1 -1.3l1 -1.2l1 -0.6l1 -0.4l1.9 0l1.1 0.1l1.1 -0.1l1.9 -1l1 -1l0.9 -1l1.1 -0.9l1 -0.7l1 -0.7l1 -0.7l1.7 -1l1.3 -0.4l2 -0.5l1 -0.2l2 -0.3l2 0.1l2 -0.2l2 0l1.3 0.5l1.7 0.5l2 0.1l2 0l2 0.1l2 0.1l1 0.3l1.7 0.9l0.7 1l0.6 1.1l0.6 1.9l0.4 1.8l0.2 1.2l0.3 2l0.3 2l0.1 2l0.1 1l0.4 2l0 2l-0.4 2l-0.1 1l-0.2 2l-0.5 2l-0.3 1l-0.4 2l-0.5 1.8l-0.2 1.2l-0.3 2l-0.5 1.1l-1 1.4l-0.9 1.5l-0.3 1l-0.2 2l-0.3 2l-0.2 2l-0.1 1.1l-0.5 1.9l-0.5 1.4l-0.9 1.6l-1.1 1l-1 1l-0.9 1l-0.8 1l-0.6 1l-0.7 1.4l-0.7 1.6l-0.4 1l-0.9 1.5l-1 0.7l-2 0.8l-1 0.2l-2 0.7l-1 0.3l-2 0.6zM896.5 602.6l-2 0.3l-2 0l-1.9 -0.4l-1.1 -0.2l-2 -0.2l-2 0.1l-1.5 0.3l-1.2 0l-1.3 -0.4l-1.1 -0.6l-0.9 -1l-1 -1.3l-1 -1.1l-1 -0.9l-1 -0.9l-1 -1.1l-1 -1.1l-1 -0.9l-1.1 -0.7l-1.6 -1l-1.3 -1l-1 -0.9l-1 -1l-1 -1.1l-0.9 -1l-0.8 -1l-0.7 -1l-0.7 -1l-0.9 -1.3l-1 -1.4l-1 -1.3l-0.6 -1l-0.1 -2l0 -2l0.1 -2l0.6 -1.3l1 -1.2l1 -1.1l1 -1l1 -0.9l1 -0.9l1 -1l1 -1.1l1 -1.2l0.7 -1.3l0.6 -1l0.9 -1l1.4 -1l1.4 -0.8l1 -0.7l1 -0.9l0.7 -1.6l0.3 -1l1 -1.6l1 -0.5l2 0l2 -0.2l1.5 -0.7l1.1 -1l0.9 -1l1 -1l1.2 -1l1.3 -0.9l1 -0.6l1 -0.6l2 -0.6l1.2 -0.3l1.8 -0.4l2 -0.2l2 0l2 -0.2l2 0.3l2 0.4l1.6 0.1l1.4 0.1l2 0l1.1 -0.1l1.1 0l1.8 0.7l0.9 1.3l0.5 1l0.5 2l0.2 1l0.3 2l0.4 2l0.2 1.9l0.1 1.1l0.3 2l-0.1 2l-0.3 1l-0.6 2l-0.4 1.8l-0.3 1.2l-0.6 2l-0.1 1l-0.4 2l-0.4 2l-0.2 1l-1 1.7l-0.9 1.3l-0.4 1l-0.2 2l0 2l-0.2 2l-0.2 2l-0.3 1l-0.6 2l-0.3 1l-0.9 1.2l-1 0.9l-1 0.9l-1 1.1l-1 1.5l-0.8 1.4l-0.6 1l-0.6 1.2l-1 1.3l-1 0.5l-2 0.3l-2 0.5zM895.5 599.5l-2 0.3l-2 -0.2l-2 -0.1l-1 0l-2 -0.2l-2 -0.2l-1.8 -0.6l-1.2 -0.7l-1 -0.6l-1 -0.7l-1.4 -1l-1.3 -1l-1 -1l-0.9 -1l-0.8 -1l-1 -1l-1 -1l-1 -1l-1.1 -1l-1.2 -1l-1.2 -1l-1.1 -1l-0.7 -1l-0.7 -1l-0.6 -1l-1 -1.6l-0.7 -1.4l0.5 -2l0.4 -1l0.8 -1.8l0.4 -1.2l0.6 -1.4l1 -1.5l1 -1.1l0.8 -1l1 -1l0.8 -1l0.6 -1l0.8 -1.2l1 -1.2l1 -0.9l1 -0.7l1.6 -1l1.3 -1l0.8 -1l0.6 -1l0.7 -1l1.3 -1l1.7 -0.9l1 -0.5l1 -0.6l1.3 -1l1.1 -1l1.1 -1l1.4 -1l1.1 -0.5l1.5 -0.5l1.5 -0.3l2 -0.7l1 -0.3l2 -0.5l1 -0.3l2 -0.3l2 0.1l2 0.1l1.5 0.2l1.5 0.2l2 0.1l2 0.4l1 1.2l0.4 1.1l0.6 1.8l0.3 1.2l0.6 2l0.1 1.5l0.1 1.5l0 2l-0.1 1.2l-0.5 1.8l-0.5 2l-0.2 1l-0.6 2l-0.3 1l-0.4 2l-0.4 2l-0.2 1l-0.7 2l-0.7 1l-0.6 1l-0.6 2l0 2l-0.1 2l-0.2 1.7l-0.2 1.3l-0.6 2l-0.3 1l-0.9 1.6l-1 0.9l-1 0.8l-1 1.1l-1 1.5l-0.8 1.1l-1.1 1l-1.1 0.9l-1 0.7l-1 0.5l-2 0.7zM893.5 597.6l-2 0.2l-2 0l-2 -0.2l-1 -0.2l-2 -0.6l-1 -0.4l-1.3 -0.9l-1.6 -1l-1.1 -0.7l-1 -0.7l-1 -0.8l-1 -1.1l-1 -1.3l-1 -1.1l-1 -1.2l-1 -1.1l-1 -1l-1 -1l-0.8 -1l-0.8 -1l-0.5 -1l-0.9 -1.8l-0.6 -1.2l0.3 -2l0.6 -1l0.7 -1.2l1 -1.8l0.5 -1l0.6 -1l0.9 -1.4l0.8 -1.6l0.5 -1l0.7 -1.3l1 -1.4l1 -1.1l1 -0.8l1 -0.8l1 -0.8l1 -0.9l1 -1.1l1 -1.1l1 -0.9l1.2 -0.8l1.8 -0.9l1 -0.5l1 -0.6l1.3 -1l1.4 -1l1.3 -0.8l1 -0.3l2 -0.7l1 -0.4l1.9 -0.8l1.1 -0.4l1.9 -0.6l1.1 -0.2l2 -0.2l2 0l1.7 0.4l1.3 0.3l1.7 0.7l0.8 1l0.7 1l0.8 1.5l0.7 1.5l0.3 2l-0.1 2l-0.3 2l-0.5 2l-0.2 1l-0.3 2l-0.6 1.9l-0.4 1.1l-0.5 2l-0.3 1l-0.6 2l-0.4 1l-0.8 1.4l-0.9 1.6l-0.4 1l-0.1 2l-0.2 2l-0.4 2l-0.2 1l-0.8 2l-0.4 1l-0.7 1l-1.1 1l-1 1l-0.8 1.1l-1 1.5l-1 0.9l-1 0.8l-1 0.9l-1.1 0.8l-1.9 0.9zM893.5 595.5l-2 0.6l-2 0l-2 -0.4l-1 -0.3l-1.8 -0.9l-1.2 -0.9l-1 -0.8l-1 -0.8l-1 -0.7l-1 -0.8l-1.1 -1l-0.9 -1.1l-1 -1l-1 -0.9l-1 -1l-1 -1.1l-1 -1.2l-1 -1.5l-0.6 -1.2l-0.4 -1l-0.6 -2l0.6 -1.5l0.9 -1.5l0.5 -1l0.6 -1l1 -1.6l0.7 -1.4l0.4 -1l0.8 -2l0.5 -1l0.7 -1l0.9 -1l1.2 -1l1.1 -1l1.1 -1l1 -1l1 -1l1.3 -1l1.3 -0.7l1 -0.4l2 -0.8l1 -0.5l1 -0.7l1.5 -0.9l1.5 -0.7l1 -0.4l1.9 -0.9l1.1 -0.6l1 -0.5l2 -0.8l1 -0.3l2 -0.4l2 0l1.8 0.6l1.2 0.9l0.8 1.1l0.7 1l0.7 1l0.5 2l-0.1 2l-0.3 2l-0.3 1.5l-0.2 1.5l-0.2 2l-0.6 1.6l-0.6 1.4l-0.4 1l-0.8 2l-0.4 1l-0.8 1.7l-0.8 1.3l-0.7 1l-0.5 1l-0.6 2l-0.4 1.2l-0.7 1.8l-0.3 1l-0.9 2l-0.4 1l-0.7 1.5l-1 1.3l-0.9 1.2l-0.6 1l-0.7 1l-0.8 1l-1 1.3l-1 1.1zM891.5 593.5l-2 0.1l-1 -0.3l-1.3 -0.8l-1.7 -1l-1 -0.6l-1 -0.8l-1 -1l-1 -0.9l-1 -1l-1 -1.1l-1 -1l-1 -0.7l-1.1 -0.9l-1 -1l-0.9 -1.1l-1 -1.7l-0.5 -1.2l-0.2 -2l0.7 -1.3l1 -1.6l0.8 -1.1l0.5 -1l0.7 -1.9l0.4 -1.1l0.6 -1.4l1 -1.6l0.8 -1l1 -1l1.1 -1l1 -1l1.1 -1l1 -0.8l1 -0.6l2 -0.6l1 -0.2l1.8 -0.8l1.2 -0.8l1 -0.6l1.4 -0.6l1.6 -0.7l1 -0.6l1 -0.7l1.6 -1l1.4 -0.7l1 -0.4l2 -0.6l2 0l1.2 0.7l0.8 1.4l0.8 1.6l0 2l-0.3 2l0 2l0 2l-0.1 2l-0.4 1l-1 1.9l-0.7 1.1l-0.7 1l-0.6 1.2l-0.9 1.8l-0.7 1l-0.7 1l-0.7 1.6l-0.4 1.4l-0.6 1.5l-0.5 1.5l-0.5 1.2l-0.7 1.8l-0.3 1l-1 1.8l-0.9 1.2l-0.8 1l-0.7 1l-0.8 1l-0.8 1.1l-1 1.3zM891.5 587.8l-2 0.2l-2 -0.1l-2 -0.2l-1 -0.2l-1.2 -1l-1 -1l-0.8 -1l-1 -1.3l-1 -1.2l-1 -0.9l-1 -1l-1 -1.3l-0.8 -1.3l-0.2 -1l0.4 -1l0.8 -1l0.8 -1.4l0.7 -1.6l0.4 -1l0.9 -2l0.6 -1l0.7 -1l0.7 -1l1 -1.1l1 -1l1.1 -0.9l1.9 -1l1 -0.1l2 -0.4l1.3 -0.5l1.6 -1l1.1 -0.7l1 -0.5l1.4 -0.8l1.5 -1l1.1 -0.9l1 -0.7l1 -0.5l1.8 -0.9l1.2 -0.3l1.1 0.3l0.1 2l-0.3 1l-0.5 2l0.2 2l0.4 1.8l0.1 1.2l-0.4 1l-0.9 1l-1.5 1l-1.3 0.6l-1 0.5l-1 0.9l-0.4 2l0.1 2l-0.1 2l0 2l-0.4 2l-0.2 1l-0.6 2l-0.4 1.1l-0.9 1.9l-0.9 1l-1.1 1l-1.1 0.8z" fill="none" stroke="#5c5c5c" stroke-width="0.95"/>
</g>
<rect x="826" y="343" width="294.5" height="294" fill="none" stroke="#000" stroke-width="2.5"/>
<path d="M828 637v8.5M889 637v8.5M959 637v8.5M1028 637v8.5M1092 637v8.5M1113 637v5M910.1 637v4M922.4 637v4M931.1 637v4M937.9 637v4M943.5 637v4M948.2 637v4M952.2 637v4M955.8 637v4M979.8 637v4M991.9 637v4M1000.5 637v4M1007.2 637v4M1012.7 637v4M1017.3 637v4M1021.3 637v4M1024.8 637v4M1047.3 637v4M1058.5 637v4M1066.5 637v4M1072.7 637v4M1077.8 637v4M1082.1 637v4M1085.8 637v4M1089.1 637v4M834 637v4M839 637v4M843 637v4M847 637v4M850 637v4M853 637v4M856 637v4M864 637v4M870 637v4M875 637v4M879 637v4M883 637v4M886 637v4M914 637v4M930 637v4M941 637v4M826 635h-8.5M826 574h-8.5M826 504h-8.5M826 435h-8.5M826 371h-8.5M826 552.9h-4M826 540.6h-4M826 531.9h-4M826 525.1h-4M826 519.5h-4M826 514.8h-4M826 510.8h-4M826 507.2h-4M826 483.2h-4M826 471.1h-4M826 462.5h-4M826 455.8h-4M826 450.3h-4M826 445.7h-4M826 441.7h-4M826 438.2h-4M826 415.7h-4M826 404.5h-4M826 396.5h-4M826 390.3h-4M826 385.2h-4M826 380.9h-4M826 377.2h-4M826 373.9h-4M826 629h-4M826 624h-4M826 620h-4M826 616h-4M826 613h-4M826 610h-4M826 607h-4M826 599h-4M826 593h-4M826 588h-4M826 584h-4M826 580h-4M826 577h-4M826 549h-4M826 533h-4M826 522h-4" stroke="#000" stroke-width="1.7" fill="none"/>
<path d="M854 637v7M826 607h-7" stroke="#000" stroke-width="3.5" fill="none"/>
<rect x="929.5" y="428" width="156" height="96" fill="none" stroke="#000" stroke-width="1.9"/>
<path d="M927 428h5M929.5 425.5v5M1083 428h5M1085.5 425.5v5M1083 524h5M1085.5 521.5v5M927 524h5M929.5 521.5v5" stroke="#000" stroke-width="1.6"/>
<path d="M826 534H920V637" stroke="#000" stroke-width="1.9" fill="none"/>
<text x="1042" y="419.5" font-size="18" font-weight="bold" text-anchor="middle">0</text>
<text x="829.5" y="632.5" font-size="18" font-weight="bold">91.8</text>
<text x="811.5" y="489" font-size="18.5" font-weight="bold" text-anchor="middle" transform="rotate(-90 811.5 489)">CXCR5</text>
<text x="971.5" y="666" font-size="18.5" font-weight="bold" text-anchor="middle">PD-1</text>
<g transform="translate(862.9 120) rotate(0)" stroke="#000" stroke-width="6.8" fill="none"><path d="M-181 0H-7"/><path d="M-22.4 -10.5L-6.3 0L-22.4 10.5" stroke-linecap="round" stroke-linejoin="miter"/></g>
<g transform="translate(863.4 458.3) rotate(21.6)" stroke="#000" stroke-width="6.8" fill="none"><path d="M-399.5 0H-7"/><path d="M-22.4 -10.5L-6.3 0L-22.4 10.5" stroke-linecap="round" stroke-linejoin="miter"/></g>
<clipPath id="cd"><rect x="90.2" y="731.7" width="292.2" height="295.5"/></clipPath>
<g clip-path="url(#cd)">
<path d="M197.6 1025.7L203 1024L207.5 1021.8L211.5 1015L214.9 1006.4L219.9 989L223.6 957L226 920L228.5 883L231 845.9L233.4 826L235.9 796.5L237.9 766.8L239.2 754L240.3 750.8L241.6 759.4L243.3 774.2L245.1 765.6L247 763L249 784L252 808.8L254.4 831L258.2 843.4L260.6 863L264.3 902.7L268 937L271.7 964.4L276.7 991.6L281.6 1011.4L287.8 1021.8L295.2 1025.7z" fill="#a9a9a9" stroke="#262626" stroke-width="1.4" stroke-linejoin="round"/>
<path d="M90.2 1025.7L176.6 1025.7L183 1024L187.7 1021.8L192 1018.5L195.2 1013.9L200 994L205 957L208.7 920L212.5 870.6L215 821L217.4 779L219.6 759.4L221.2 752L222.3 750.8L223.6 752L225 759.4L226.8 784L228.5 821L231 870.6L234.7 920L238.4 957L243.3 994L248.3 1013.9L252 1019L256.9 1022.5L266.8 1025.7L382.4 1025.7" fill="none" stroke="#000" stroke-width="3.4" stroke-linejoin="round"/>
</g>
<rect x="90.2" y="731.7" width="292.2" height="294" fill="none" stroke="#000" stroke-width="2.5"/>
<path d="M92.2 1025.7v8.5M153.2 1025.7v8.5M223.2 1025.7v8.5M292.2 1025.7v8.5M356.2 1025.7v8.5M377.2 1025.7v5M174.3 1025.7v4M186.6 1025.7v4M195.3 1025.7v4M202.1 1025.7v4M207.7 1025.7v4M212.4 1025.7v4M216.4 1025.7v4M220 1025.7v4M244 1025.7v4M256.1 1025.7v4M264.7 1025.7v4M271.4 1025.7v4M276.9 1025.7v4M281.5 1025.7v4M285.5 1025.7v4M289 1025.7v4M311.5 1025.7v4M322.7 1025.7v4M330.7 1025.7v4M336.9 1025.7v4M342 1025.7v4M346.3 1025.7v4M350 1025.7v4M353.3 1025.7v4M98.2 1025.7v4M103.2 1025.7v4M107.2 1025.7v4M111.2 1025.7v4M114.2 1025.7v4M117.2 1025.7v4M120.2 1025.7v4M128.2 1025.7v4M134.2 1025.7v4M139.2 1025.7v4M143.2 1025.7v4M147.2 1025.7v4M150.2 1025.7v4M178.2 1025.7v4M194.2 1025.7v4M205.2 1025.7v4M90.2 1025.7h-7.5M90.2 1011.7h-3.5M90.2 997.7h-3.5M90.2 983.7h-3.5M90.2 969.7h-7.5M90.2 955.7h-3.5M90.2 941.6h-3.5M90.2 927.6h-3.5M90.2 913.6h-7.5M90.2 899.6h-3.5M90.2 885.6h-3.5M90.2 871.6h-3.5M90.2 857.6h-7.5M90.2 843.6h-3.5M90.2 829.6h-3.5M90.2 815.6h-3.5M90.2 801.5h-7.5M90.2 787.5h-3.5M90.2 773.5h-3.5M90.2 759.5h-3.5M90.2 745.5h-7.5" stroke="#000" stroke-width="1.7" fill="none"/>
<path d="M118.2 1025.7v7" stroke="#000" stroke-width="3.5" fill="none"/>
<text x="273" y="774.5" font-size="30" font-weight="bold" fill="#8a8a8a" style="font-family:'Liberation Serif','Times New Roman',serif">Tfh</text>
<text x="273" y="808.5" font-size="30" font-weight="bold" style="font-family:'Liberation Serif','Times New Roman',serif">NonTfh</text>
<text x="78" y="879" font-size="18.5" font-weight="bold" text-anchor="middle" transform="rotate(-90 78 879)">% of Max</text>
<text x="236" y="1054" font-size="18.5" font-weight="bold" text-anchor="middle">Bcl6</text>
<clipPath id="ce"><rect x="90.2" y="1092.7" width="292.2" height="295"/></clipPath>
<g clip-path="url(#ce)">
<path d="M90.2 1386.2L90.2 1296L95 1294.8L98.8 1282.5L102.5 1292.3L106.2 1283.7L110 1294.8L114.9 1282.5L118.6 1287.4L122.3 1265.2L126 1272.6L129.7 1260.2L134.6 1257.7L138.3 1238L143.3 1230.6L145.8 1243L149.5 1262.7L153.2 1243L156.9 1213.3L159.3 1208.3L160.6 1223.2L164.3 1193.5L168 1178.7L171.7 1168.8L172.9 1144.1L176.6 1119.4L180.3 1134.2L184 1149L187.7 1124.3L192.7 1109.5L193.9 1139.2L196.4 1163.9L200.1 1168.8L201.3 1186.1L203.8 1198.5L206.3 1203.4L208.7 1242.9L212.5 1247.9L214.9 1280L218.6 1304.7L221.1 1322L226 1324.4L229.7 1341.7L233.4 1349.2L237.2 1346.7L240.9 1361.5L244.6 1370.1L249.5 1372.6L254.4 1378.8L259.4 1381.8L266.8 1385L272 1386.2z" fill="#a9a9a9" stroke="#262626" stroke-width="1.4" stroke-linejoin="round"/>
<path d="M91.5 1093L91.8 1364L95 1366.6L98.8 1366.4L106.2 1362.7L113.6 1356.6L118.6 1360.3L123.5 1354.1L128.5 1351.6L135.9 1352.9L142 1346.7L147 1334.3L149.5 1326.9L154.4 1329.4L158.1 1319.5L163 1309.6L169.2 1304.7L172.9 1297.3L176.6 1277.5L180.3 1265.2L184 1255.3L187.7 1235.5L191.5 1218.2L195.2 1208.3L198.9 1193.5L202.6 1178.7L206.3 1163.9L210 1154L212.5 1139.2L215.4 1144.1L217.4 1131.8L219.9 1151.5L222.3 1129.3L224.3 1110.8L226 1144.1L227.3 1168.8L229.7 1149L232.2 1168.8L234.7 1193.5L237.2 1218.2L240.9 1242.9L244.6 1267.6L248.3 1292.3L252 1317L255.7 1341.7L259.4 1361.5L264.3 1373.9L270.5 1381.8L279.2 1385.7L382.4 1386" fill="none" stroke="#000" stroke-width="3.4" stroke-linejoin="round"/>
</g>
<path d="M211 1140l1.5 14 1.5 -16 1.5 18 1.7 -22 1.6 26 1.6 -24 1.6 28 1.4 -40 1.4 36 1.3 -18 1.5 24 1.5 -20 1.4 24" fill="none" stroke="#000" stroke-width="2.6" stroke-linejoin="round"/>
<rect x="90.2" y="1092.7" width="292.2" height="293.5" fill="none" stroke="#000" stroke-width="2.5"/>
<path d="M92.2 1386.2v8.5M153.2 1386.2v8.5M223.2 1386.2v8.5M292.2 1386.2v8.5M356.2 1386.2v8.5M377.2 1386.2v5M174.3 1386.2v4M186.6 1386.2v4M195.3 1386.2v4M202.1 1386.2v4M207.7 1386.2v4M212.4 1386.2v4M216.4 1386.2v4M220 1386.2v4M244 1386.2v4M256.1 1386.2v4M264.7 1386.2v4M271.4 1386.2v4M276.9 1386.2v4M281.5 1386.2v4M285.5 1386.2v4M289 1386.2v4M311.5 1386.2v4M322.7 1386.2v4M330.7 1386.2v4M336.9 1386.2v4M342 1386.2v4M346.3 1386.2v4M350 1386.2v4M353.3 1386.2v4M98.2 1386.2v4M103.2 1386.2v4M107.2 1386.2v4M111.2 1386.2v4M114.2 1386.2v4M117.2 1386.2v4M120.2 1386.2v4M128.2 1386.2v4M134.2 1386.2v4M139.2 1386.2v4M143.2 1386.2v4M147.2 1386.2v4M150.2 1386.2v4M178.2 1386.2v4M194.2 1386.2v4M205.2 1386.2v4M90.2 1386.2h-7.5M90.2 1372.2h-3.5M90.2 1358.2h-3.5M90.2 1344.2h-3.5M90.2 1330.2h-7.5M90.2 1316.2h-3.5M90.2 1302.1h-3.5M90.2 1288.1h-3.5M90.2 1274.1h-7.5M90.2 1260.1h-3.5M90.2 1246.1h-3.5M90.2 1232.1h-3.5M90.2 1218.1h-7.5M90.2 1204.1h-3.5M90.2 1190.1h-3.5M90.2 1176h-3.5M90.2 1162h-7.5M90.2 1148h-3.5M90.2 1134h-3.5M90.2 1120h-3.5M90.2 1106h-7.5" stroke="#000" stroke-width="1.7" fill="none"/>
<path d="M118.2 1386.2v7" stroke="#000" stroke-width="3.5" fill="none"/>
<text x="78" y="1238" font-size="18.5" font-weight="bold" text-anchor="middle" transform="rotate(-90 78 1238)">% of Max</text>
<text x="236" y="1413.5" font-size="18.5" font-weight="bold" text-anchor="middle">CCR7</text>
</svg>
</body></html>
